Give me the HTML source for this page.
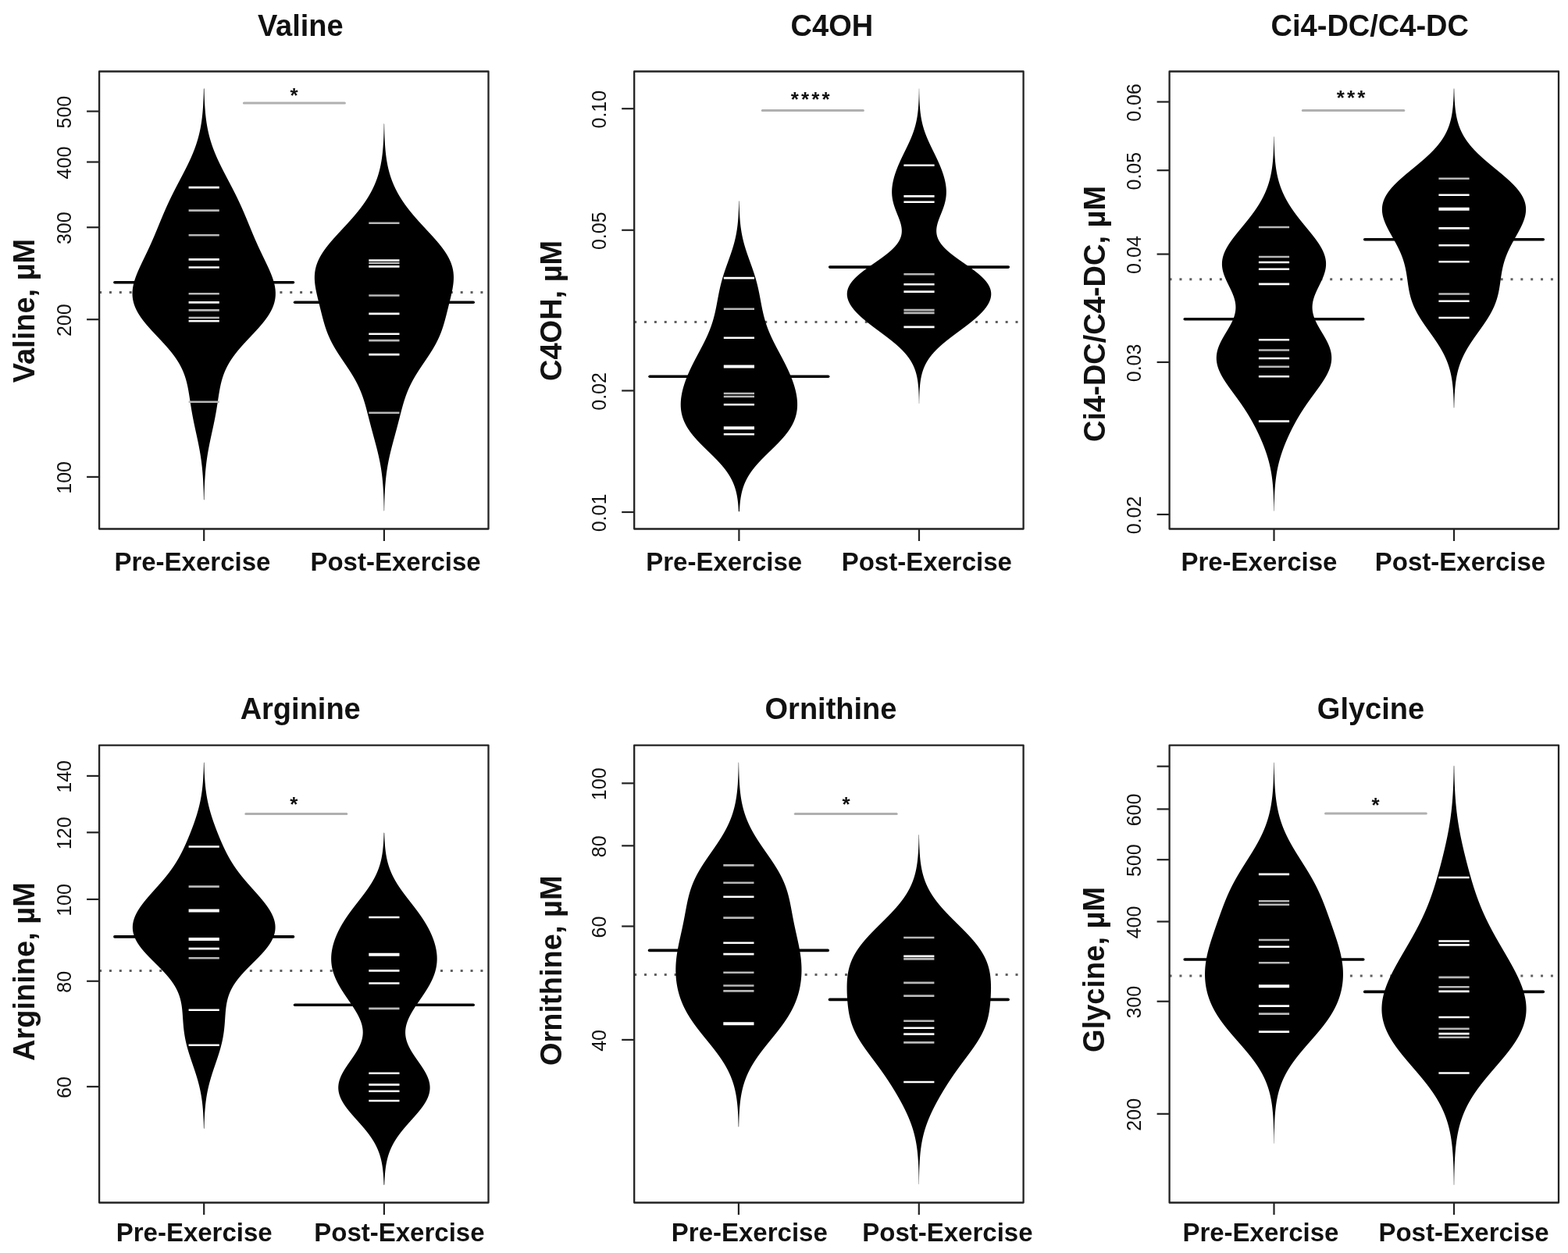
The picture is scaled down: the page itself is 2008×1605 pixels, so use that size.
<!DOCTYPE html><html><head><meta charset="utf-8"><style>html,body{margin:0;padding:0;background:#fff;}svg{display:block;}</style></head><body>
<svg width="2008" height="1605" viewBox="0 0 2008 1605" font-family='"Liberation Sans", Arial, sans-serif'>
<rect width="2008" height="1605" fill="#fff"/>
<g><line x1="127.1" y1="374.6" x2="625.5" y2="374.6" stroke="#606060" stroke-width="3" stroke-dasharray="3,9.85"/><path d="M261.20,113.00 L260.90,114.00 L260.88,115.00 L260.86,116.00 L260.84,117.00 L260.82,118.00 L260.79,119.00 L260.76,120.00 L260.74,121.00 L260.71,122.00 L260.67,123.00 L260.64,124.00 L260.60,125.00 L260.57,126.00 L260.53,127.00 L260.49,128.00 L260.44,129.00 L260.40,130.00 L260.35,131.00 L260.30,132.00 L260.24,133.00 L260.19,134.00 L260.13,135.00 L260.07,136.00 L260.00,137.00 L259.94,138.00 L259.86,139.00 L259.79,140.00 L259.71,141.00 L259.63,142.00 L259.55,143.00 L259.46,144.00 L259.37,145.00 L259.27,146.00 L259.17,147.00 L259.06,148.00 L258.95,149.00 L258.84,150.00 L258.72,151.00 L258.60,152.00 L258.47,153.00 L258.34,154.00 L258.20,155.00 L258.06,156.00 L257.91,157.00 L257.76,158.00 L257.60,159.00 L257.43,160.00 L257.26,161.00 L257.09,162.00 L256.90,163.00 L256.72,164.00 L256.52,165.00 L256.32,166.00 L256.11,167.00 L255.90,168.00 L255.68,169.00 L255.45,170.00 L255.22,171.00 L254.98,172.00 L254.73,173.00 L254.48,174.00 L254.22,175.00 L253.95,176.00 L253.68,177.00 L253.40,178.00 L253.11,179.00 L252.81,180.00 L252.51,181.00 L252.20,182.00 L251.88,183.00 L251.56,184.00 L251.23,185.00 L250.89,186.00 L250.55,187.00 L250.19,188.00 L249.84,189.00 L249.47,190.00 L249.10,191.00 L248.72,192.00 L248.33,193.00 L247.94,194.00 L247.54,195.00 L247.14,196.00 L246.73,197.00 L246.31,198.00 L245.88,199.00 L245.45,200.00 L245.02,201.00 L244.58,202.00 L244.13,203.00 L243.68,204.00 L243.22,205.00 L242.76,206.00 L242.29,207.00 L241.82,208.00 L241.34,209.00 L240.86,210.00 L240.38,211.00 L239.89,212.00 L239.39,213.00 L238.90,214.00 L238.40,215.00 L237.89,216.00 L237.39,217.00 L236.88,218.00 L236.37,219.00 L235.85,220.00 L235.34,221.00 L234.82,222.00 L234.30,223.00 L233.78,224.00 L233.26,225.00 L232.73,226.00 L232.21,227.00 L231.68,228.00 L231.16,229.00 L230.63,230.00 L230.11,231.00 L229.58,232.00 L229.06,233.00 L228.53,234.00 L228.01,235.00 L227.48,236.00 L226.96,237.00 L226.44,238.00 L225.92,239.00 L225.40,240.00 L224.89,241.00 L224.37,242.00 L223.86,243.00 L223.35,244.00 L222.84,245.00 L222.33,246.00 L221.83,247.00 L221.33,248.00 L220.83,249.00 L220.33,250.00 L219.84,251.00 L219.35,252.00 L218.86,253.00 L218.38,254.00 L217.90,255.00 L217.42,256.00 L216.94,257.00 L216.47,258.00 L216.00,259.00 L215.54,260.00 L215.07,261.00 L214.61,262.00 L214.16,263.00 L213.70,264.00 L213.25,265.00 L212.80,266.00 L212.36,267.00 L211.92,268.00 L211.48,269.00 L211.04,270.00 L210.61,271.00 L210.17,272.00 L209.74,273.00 L209.32,274.00 L208.89,275.00 L208.47,276.00 L208.05,277.00 L207.63,278.00 L207.21,279.00 L206.79,280.00 L206.37,281.00 L205.96,282.00 L205.55,283.00 L205.13,284.00 L204.72,285.00 L204.31,286.00 L203.90,287.00 L203.49,288.00 L203.08,289.00 L202.67,290.00 L202.26,291.00 L201.85,292.00 L201.44,293.00 L201.02,294.00 L200.61,295.00 L200.20,296.00 L199.78,297.00 L199.36,298.00 L198.95,299.00 L198.53,300.00 L198.10,301.00 L197.68,302.00 L197.26,303.00 L196.83,304.00 L196.40,305.00 L195.97,306.00 L195.53,307.00 L195.09,308.00 L194.65,309.00 L194.21,310.00 L193.77,311.00 L193.32,312.00 L192.87,313.00 L192.42,314.00 L191.96,315.00 L191.51,316.00 L191.05,317.00 L190.58,318.00 L190.12,319.00 L189.65,320.00 L189.18,321.00 L188.71,322.00 L188.23,323.00 L187.76,324.00 L187.28,325.00 L186.80,326.00 L186.32,327.00 L185.84,328.00 L185.36,329.00 L184.88,330.00 L184.39,331.00 L183.91,332.00 L183.43,333.00 L182.95,334.00 L182.46,335.00 L181.98,336.00 L181.51,337.00 L181.03,338.00 L180.56,339.00 L180.09,340.00 L179.62,341.00 L179.16,342.00 L178.70,343.00 L178.25,344.00 L177.80,345.00 L177.36,346.00 L176.92,347.00 L176.49,348.00 L176.07,349.00 L175.65,350.00 L175.25,351.00 L174.85,352.00 L174.47,353.00 L174.09,354.00 L173.72,355.00 L173.37,356.00 L173.03,357.00 L172.70,358.00 L172.38,359.00 L172.08,360.00 L171.79,361.00 L171.52,362.00 L171.26,363.00 L171.01,364.00 L170.79,365.00 L170.58,366.00 L170.39,367.00 L170.21,368.00 L170.06,369.00 L169.92,370.00 L169.81,371.00 L169.71,372.00 L169.64,373.00 L169.58,374.00 L169.55,375.00 L169.54,376.00 L169.55,377.00 L169.58,378.00 L169.63,379.00 L169.71,380.00 L169.81,381.00 L169.94,382.00 L170.08,383.00 L170.25,384.00 L170.45,385.00 L170.67,386.00 L170.91,387.00 L171.18,388.00 L171.47,389.00 L171.79,390.00 L172.13,391.00 L172.50,392.00 L172.88,393.00 L173.30,394.00 L173.73,395.00 L174.19,396.00 L174.67,397.00 L175.18,398.00 L175.71,399.00 L176.26,400.00 L176.83,401.00 L177.42,402.00 L178.04,403.00 L178.68,404.00 L179.33,405.00 L180.01,406.00 L180.70,407.00 L181.42,408.00 L182.15,409.00 L182.90,410.00 L183.66,411.00 L184.45,412.00 L185.24,413.00 L186.06,414.00 L186.88,415.00 L187.72,416.00 L188.57,417.00 L189.44,418.00 L190.31,419.00 L191.20,420.00 L192.09,421.00 L192.99,422.00 L193.90,423.00 L194.82,424.00 L195.75,425.00 L196.67,426.00 L197.61,427.00 L198.54,428.00 L199.48,429.00 L200.42,430.00 L201.37,431.00 L202.31,432.00 L203.25,433.00 L204.19,434.00 L205.13,435.00 L206.07,436.00 L207.00,437.00 L207.92,438.00 L208.84,439.00 L209.76,440.00 L210.67,441.00 L211.57,442.00 L212.46,443.00 L213.35,444.00 L214.22,445.00 L215.09,446.00 L215.94,447.00 L216.78,448.00 L217.62,449.00 L218.44,450.00 L219.24,451.00 L220.04,452.00 L220.82,453.00 L221.58,454.00 L222.34,455.00 L223.07,456.00 L223.80,457.00 L224.50,458.00 L225.20,459.00 L225.87,460.00 L226.53,461.00 L227.18,462.00 L227.81,463.00 L228.42,464.00 L229.02,465.00 L229.60,466.00 L230.17,467.00 L230.72,468.00 L231.25,469.00 L231.77,470.00 L232.27,471.00 L232.75,472.00 L233.22,473.00 L233.68,474.00 L234.12,475.00 L234.55,476.00 L234.96,477.00 L235.35,478.00 L235.74,479.00 L236.11,480.00 L236.46,481.00 L236.80,482.00 L237.13,483.00 L237.45,484.00 L237.76,485.00 L238.05,486.00 L238.34,487.00 L238.61,488.00 L238.88,489.00 L239.13,490.00 L239.37,491.00 L239.61,492.00 L239.84,493.00 L240.06,494.00 L240.27,495.00 L240.48,496.00 L240.68,497.00 L240.87,498.00 L241.06,499.00 L241.24,500.00 L241.42,501.00 L241.59,502.00 L241.76,503.00 L241.92,504.00 L242.09,505.00 L242.25,506.00 L242.41,507.00 L242.56,508.00 L242.72,509.00 L242.87,510.00 L243.02,511.00 L243.18,512.00 L243.33,513.00 L243.48,514.00 L243.63,515.00 L243.78,516.00 L243.94,517.00 L244.09,518.00 L244.25,519.00 L244.41,520.00 L244.57,521.00 L244.73,522.00 L244.89,523.00 L245.05,524.00 L245.22,525.00 L245.39,526.00 L245.56,527.00 L245.74,528.00 L245.91,529.00 L246.09,530.00 L246.27,531.00 L246.46,532.00 L246.64,533.00 L246.83,534.00 L247.02,535.00 L247.22,536.00 L247.41,537.00 L247.61,538.00 L247.81,539.00 L248.01,540.00 L248.22,541.00 L248.42,542.00 L248.63,543.00 L248.84,544.00 L249.05,545.00 L249.27,546.00 L249.48,547.00 L249.69,548.00 L249.91,549.00 L250.13,550.00 L250.34,551.00 L250.56,552.00 L250.78,553.00 L251.00,554.00 L251.22,555.00 L251.43,556.00 L251.65,557.00 L251.87,558.00 L252.09,559.00 L252.30,560.00 L252.52,561.00 L252.73,562.00 L252.94,563.00 L253.15,564.00 L253.36,565.00 L253.57,566.00 L253.77,567.00 L253.98,568.00 L254.18,569.00 L254.38,570.00 L254.57,571.00 L254.77,572.00 L254.96,573.00 L255.15,574.00 L255.33,575.00 L255.52,576.00 L255.70,577.00 L255.87,578.00 L256.05,579.00 L256.22,580.00 L256.39,581.00 L256.55,582.00 L256.71,583.00 L256.87,584.00 L257.02,585.00 L257.17,586.00 L257.32,587.00 L257.46,588.00 L257.61,589.00 L257.74,590.00 L257.87,591.00 L258.00,592.00 L258.13,593.00 L258.25,594.00 L258.37,595.00 L258.49,596.00 L258.60,597.00 L258.71,598.00 L258.82,599.00 L258.92,600.00 L259.02,601.00 L259.11,602.00 L259.21,603.00 L259.29,604.00 L259.38,605.00 L259.46,606.00 L259.54,607.00 L259.62,608.00 L259.70,609.00 L259.77,610.00 L259.84,611.00 L259.90,612.00 L259.97,613.00 L260.03,614.00 L260.09,615.00 L260.14,616.00 L260.20,617.00 L260.25,618.00 L260.30,619.00 L260.35,620.00 L260.39,621.00 L260.44,622.00 L260.48,623.00 L260.52,624.00 L260.55,625.00 L260.59,626.00 L260.62,627.00 L260.66,628.00 L260.69,629.00 L260.72,630.00 L260.75,631.00 L260.77,632.00 L260.80,633.00 L260.82,634.00 L260.84,635.00 L260.87,636.00 L260.89,637.00 L260.91,638.00 L260.92,639.00 L260.94,640.00 L261.20,640.40 L261.20,640.40 L261.46,640.00 L261.48,639.00 L261.49,638.00 L261.51,637.00 L261.53,636.00 L261.56,635.00 L261.58,634.00 L261.60,633.00 L261.63,632.00 L261.65,631.00 L261.68,630.00 L261.71,629.00 L261.74,628.00 L261.78,627.00 L261.81,626.00 L261.85,625.00 L261.88,624.00 L261.92,623.00 L261.96,622.00 L262.01,621.00 L262.05,620.00 L262.10,619.00 L262.15,618.00 L262.20,617.00 L262.26,616.00 L262.31,615.00 L262.37,614.00 L262.43,613.00 L262.50,612.00 L262.56,611.00 L262.63,610.00 L262.70,609.00 L262.78,608.00 L262.86,607.00 L262.94,606.00 L263.02,605.00 L263.11,604.00 L263.19,603.00 L263.29,602.00 L263.38,601.00 L263.48,600.00 L263.58,599.00 L263.69,598.00 L263.80,597.00 L263.91,596.00 L264.03,595.00 L264.15,594.00 L264.27,593.00 L264.40,592.00 L264.53,591.00 L264.66,590.00 L264.79,589.00 L264.94,588.00 L265.08,587.00 L265.23,586.00 L265.38,585.00 L265.53,584.00 L265.69,583.00 L265.85,582.00 L266.01,581.00 L266.18,580.00 L266.35,579.00 L266.53,578.00 L266.70,577.00 L266.88,576.00 L267.07,575.00 L267.25,574.00 L267.44,573.00 L267.63,572.00 L267.83,571.00 L268.02,570.00 L268.22,569.00 L268.42,568.00 L268.63,567.00 L268.83,566.00 L269.04,565.00 L269.25,564.00 L269.46,563.00 L269.67,562.00 L269.88,561.00 L270.10,560.00 L270.31,559.00 L270.53,558.00 L270.75,557.00 L270.97,556.00 L271.18,555.00 L271.40,554.00 L271.62,553.00 L271.84,552.00 L272.06,551.00 L272.27,550.00 L272.49,549.00 L272.71,548.00 L272.92,547.00 L273.13,546.00 L273.35,545.00 L273.56,544.00 L273.77,543.00 L273.98,542.00 L274.18,541.00 L274.39,540.00 L274.59,539.00 L274.79,538.00 L274.99,537.00 L275.18,536.00 L275.38,535.00 L275.57,534.00 L275.76,533.00 L275.94,532.00 L276.13,531.00 L276.31,530.00 L276.49,529.00 L276.66,528.00 L276.84,527.00 L277.01,526.00 L277.18,525.00 L277.35,524.00 L277.51,523.00 L277.67,522.00 L277.83,521.00 L277.99,520.00 L278.15,519.00 L278.31,518.00 L278.46,517.00 L278.62,516.00 L278.77,515.00 L278.92,514.00 L279.07,513.00 L279.22,512.00 L279.38,511.00 L279.53,510.00 L279.68,509.00 L279.84,508.00 L279.99,507.00 L280.15,506.00 L280.31,505.00 L280.48,504.00 L280.64,503.00 L280.81,502.00 L280.98,501.00 L281.16,500.00 L281.34,499.00 L281.53,498.00 L281.72,497.00 L281.92,496.00 L282.13,495.00 L282.34,494.00 L282.56,493.00 L282.79,492.00 L283.03,491.00 L283.27,490.00 L283.52,489.00 L283.79,488.00 L284.06,487.00 L284.35,486.00 L284.64,485.00 L284.95,484.00 L285.27,483.00 L285.60,482.00 L285.94,481.00 L286.29,480.00 L286.66,479.00 L287.05,478.00 L287.44,477.00 L287.85,476.00 L288.28,475.00 L288.72,474.00 L289.18,473.00 L289.65,472.00 L290.13,471.00 L290.63,470.00 L291.15,469.00 L291.68,468.00 L292.23,467.00 L292.80,466.00 L293.38,465.00 L293.98,464.00 L294.59,463.00 L295.22,462.00 L295.87,461.00 L296.53,460.00 L297.20,459.00 L297.90,458.00 L298.60,457.00 L299.33,456.00 L300.06,455.00 L300.82,454.00 L301.58,453.00 L302.36,452.00 L303.16,451.00 L303.96,450.00 L304.78,449.00 L305.62,448.00 L306.46,447.00 L307.31,446.00 L308.18,445.00 L309.05,444.00 L309.94,443.00 L310.83,442.00 L311.73,441.00 L312.64,440.00 L313.56,439.00 L314.48,438.00 L315.40,437.00 L316.33,436.00 L317.27,435.00 L318.21,434.00 L319.15,433.00 L320.09,432.00 L321.03,431.00 L321.98,430.00 L322.92,429.00 L323.86,428.00 L324.79,427.00 L325.73,426.00 L326.65,425.00 L327.58,424.00 L328.50,423.00 L329.41,422.00 L330.31,421.00 L331.20,420.00 L332.09,419.00 L332.96,418.00 L333.83,417.00 L334.68,416.00 L335.52,415.00 L336.34,414.00 L337.16,413.00 L337.95,412.00 L338.74,411.00 L339.50,410.00 L340.25,409.00 L340.98,408.00 L341.70,407.00 L342.39,406.00 L343.07,405.00 L343.72,404.00 L344.36,403.00 L344.98,402.00 L345.57,401.00 L346.14,400.00 L346.69,399.00 L347.22,398.00 L347.73,397.00 L348.21,396.00 L348.67,395.00 L349.10,394.00 L349.52,393.00 L349.90,392.00 L350.27,391.00 L350.61,390.00 L350.93,389.00 L351.22,388.00 L351.49,387.00 L351.73,386.00 L351.95,385.00 L352.15,384.00 L352.32,383.00 L352.46,382.00 L352.59,381.00 L352.69,380.00 L352.77,379.00 L352.82,378.00 L352.85,377.00 L352.86,376.00 L352.85,375.00 L352.82,374.00 L352.76,373.00 L352.69,372.00 L352.59,371.00 L352.48,370.00 L352.34,369.00 L352.19,368.00 L352.01,367.00 L351.82,366.00 L351.61,365.00 L351.39,364.00 L351.14,363.00 L350.88,362.00 L350.61,361.00 L350.32,360.00 L350.02,359.00 L349.70,358.00 L349.37,357.00 L349.03,356.00 L348.68,355.00 L348.31,354.00 L347.93,353.00 L347.55,352.00 L347.15,351.00 L346.75,350.00 L346.33,349.00 L345.91,348.00 L345.48,347.00 L345.04,346.00 L344.60,345.00 L344.15,344.00 L343.70,343.00 L343.24,342.00 L342.78,341.00 L342.31,340.00 L341.84,339.00 L341.37,338.00 L340.89,337.00 L340.42,336.00 L339.94,335.00 L339.45,334.00 L338.97,333.00 L338.49,332.00 L338.01,331.00 L337.52,330.00 L337.04,329.00 L336.56,328.00 L336.08,327.00 L335.60,326.00 L335.12,325.00 L334.64,324.00 L334.17,323.00 L333.69,322.00 L333.22,321.00 L332.75,320.00 L332.28,319.00 L331.82,318.00 L331.35,317.00 L330.89,316.00 L330.44,315.00 L329.98,314.00 L329.53,313.00 L329.08,312.00 L328.63,311.00 L328.19,310.00 L327.75,309.00 L327.31,308.00 L326.87,307.00 L326.43,306.00 L326.00,305.00 L325.57,304.00 L325.14,303.00 L324.72,302.00 L324.30,301.00 L323.87,300.00 L323.45,299.00 L323.04,298.00 L322.62,297.00 L322.20,296.00 L321.79,295.00 L321.38,294.00 L320.96,293.00 L320.55,292.00 L320.14,291.00 L319.73,290.00 L319.32,289.00 L318.91,288.00 L318.50,287.00 L318.09,286.00 L317.68,285.00 L317.27,284.00 L316.85,283.00 L316.44,282.00 L316.03,281.00 L315.61,280.00 L315.19,279.00 L314.77,278.00 L314.35,277.00 L313.93,276.00 L313.51,275.00 L313.08,274.00 L312.66,273.00 L312.23,272.00 L311.79,271.00 L311.36,270.00 L310.92,269.00 L310.48,268.00 L310.04,267.00 L309.60,266.00 L309.15,265.00 L308.70,264.00 L308.24,263.00 L307.79,262.00 L307.33,261.00 L306.86,260.00 L306.40,259.00 L305.93,258.00 L305.46,257.00 L304.98,256.00 L304.50,255.00 L304.02,254.00 L303.54,253.00 L303.05,252.00 L302.56,251.00 L302.07,250.00 L301.57,249.00 L301.07,248.00 L300.57,247.00 L300.07,246.00 L299.56,245.00 L299.05,244.00 L298.54,243.00 L298.03,242.00 L297.51,241.00 L297.00,240.00 L296.48,239.00 L295.96,238.00 L295.44,237.00 L294.92,236.00 L294.39,235.00 L293.87,234.00 L293.34,233.00 L292.82,232.00 L292.29,231.00 L291.77,230.00 L291.24,229.00 L290.72,228.00 L290.19,227.00 L289.67,226.00 L289.14,225.00 L288.62,224.00 L288.10,223.00 L287.58,222.00 L287.06,221.00 L286.55,220.00 L286.03,219.00 L285.52,218.00 L285.01,217.00 L284.51,216.00 L284.00,215.00 L283.50,214.00 L283.01,213.00 L282.51,212.00 L282.02,211.00 L281.54,210.00 L281.06,209.00 L280.58,208.00 L280.11,207.00 L279.64,206.00 L279.18,205.00 L278.72,204.00 L278.27,203.00 L277.82,202.00 L277.38,201.00 L276.95,200.00 L276.52,199.00 L276.09,198.00 L275.67,197.00 L275.26,196.00 L274.86,195.00 L274.46,194.00 L274.07,193.00 L273.68,192.00 L273.30,191.00 L272.93,190.00 L272.56,189.00 L272.21,188.00 L271.85,187.00 L271.51,186.00 L271.17,185.00 L270.84,184.00 L270.52,183.00 L270.20,182.00 L269.89,181.00 L269.59,180.00 L269.29,179.00 L269.00,178.00 L268.72,177.00 L268.45,176.00 L268.18,175.00 L267.92,174.00 L267.67,173.00 L267.42,172.00 L267.18,171.00 L266.95,170.00 L266.72,169.00 L266.50,168.00 L266.29,167.00 L266.08,166.00 L265.88,165.00 L265.68,164.00 L265.50,163.00 L265.31,162.00 L265.14,161.00 L264.97,160.00 L264.80,159.00 L264.64,158.00 L264.49,157.00 L264.34,156.00 L264.20,155.00 L264.06,154.00 L263.93,153.00 L263.80,152.00 L263.68,151.00 L263.56,150.00 L263.45,149.00 L263.34,148.00 L263.23,147.00 L263.13,146.00 L263.03,145.00 L262.94,144.00 L262.85,143.00 L262.77,142.00 L262.69,141.00 L262.61,140.00 L262.54,139.00 L262.46,138.00 L262.40,137.00 L262.33,136.00 L262.27,135.00 L262.21,134.00 L262.16,133.00 L262.10,132.00 L262.05,131.00 L262.00,130.00 L261.96,129.00 L261.91,128.00 L261.87,127.00 L261.83,126.00 L261.80,125.00 L261.76,124.00 L261.73,123.00 L261.69,122.00 L261.66,121.00 L261.64,120.00 L261.61,119.00 L261.58,118.00 L261.56,117.00 L261.54,116.00 L261.52,115.00 L261.50,114.00 L261.20,113.00Z" fill="#000"/><path d="M491.90,157.90 L491.70,158.90 L491.68,159.90 L491.66,160.90 L491.65,161.90 L491.63,162.90 L491.61,163.90 L491.59,164.90 L491.57,165.90 L491.54,166.90 L491.52,167.90 L491.49,168.90 L491.46,169.90 L491.43,170.90 L491.40,171.90 L491.37,172.90 L491.33,173.90 L491.30,174.90 L491.26,175.90 L491.22,176.90 L491.17,177.90 L491.13,178.90 L491.08,179.90 L491.03,180.90 L490.97,181.90 L490.91,182.90 L490.85,183.90 L490.79,184.90 L490.72,185.90 L490.65,186.90 L490.58,187.90 L490.50,188.90 L490.42,189.90 L490.34,190.90 L490.25,191.90 L490.16,192.90 L490.06,193.90 L489.96,194.90 L489.85,195.90 L489.74,196.90 L489.62,197.90 L489.50,198.90 L489.37,199.90 L489.24,200.90 L489.10,201.90 L488.96,202.90 L488.81,203.90 L488.66,204.90 L488.49,205.90 L488.33,206.90 L488.15,207.90 L487.97,208.90 L487.78,209.90 L487.59,210.90 L487.39,211.90 L487.18,212.90 L486.96,213.90 L486.73,214.90 L486.50,215.90 L486.26,216.90 L486.01,217.90 L485.75,218.90 L485.49,219.90 L485.21,220.90 L484.93,221.90 L484.64,222.90 L484.34,223.90 L484.02,224.90 L483.70,225.90 L483.38,226.90 L483.04,227.90 L482.69,228.90 L482.33,229.90 L481.96,230.90 L481.58,231.90 L481.19,232.90 L480.79,233.90 L480.38,234.90 L479.96,235.90 L479.53,236.90 L479.09,237.90 L478.63,238.90 L478.17,239.90 L477.69,240.90 L477.21,241.90 L476.71,242.90 L476.20,243.90 L475.68,244.90 L475.15,245.90 L474.61,246.90 L474.06,247.90 L473.49,248.90 L472.92,249.90 L472.33,250.90 L471.73,251.90 L471.12,252.90 L470.50,253.90 L469.86,254.90 L469.22,255.90 L468.56,256.90 L467.90,257.90 L467.22,258.90 L466.53,259.90 L465.83,260.90 L465.12,261.90 L464.40,262.90 L463.67,263.90 L462.92,264.90 L462.17,265.90 L461.41,266.90 L460.63,267.90 L459.85,268.90 L459.06,269.90 L458.25,270.90 L457.44,271.90 L456.62,272.90 L455.79,273.90 L454.95,274.90 L454.11,275.90 L453.25,276.90 L452.39,277.90 L451.52,278.90 L450.65,279.90 L449.76,280.90 L448.88,281.90 L447.98,282.90 L447.08,283.90 L446.18,284.90 L445.27,285.90 L444.35,286.90 L443.44,287.90 L442.51,288.90 L441.59,289.90 L440.67,290.90 L439.74,291.90 L438.81,292.90 L437.88,293.90 L436.95,294.90 L436.02,295.90 L435.10,296.90 L434.17,297.90 L433.25,298.90 L432.33,299.90 L431.41,300.90 L430.50,301.90 L429.60,302.90 L428.69,303.90 L427.80,304.90 L426.91,305.90 L426.03,306.90 L425.16,307.90 L424.30,308.90 L423.44,309.90 L422.60,310.90 L421.77,311.90 L420.95,312.90 L420.14,313.90 L419.35,314.90 L418.56,315.90 L417.80,316.90 L417.04,317.90 L416.31,318.90 L415.58,319.90 L414.88,320.90 L414.19,321.90 L413.52,322.90 L412.87,323.90 L412.23,324.90 L411.62,325.90 L411.02,326.90 L410.44,327.90 L409.89,328.90 L409.35,329.90 L408.84,330.90 L408.34,331.90 L407.87,332.90 L407.42,333.90 L406.98,334.90 L406.58,335.90 L406.19,336.90 L405.82,337.90 L405.48,338.90 L405.16,339.90 L404.86,340.90 L404.58,341.90 L404.32,342.90 L404.09,343.90 L403.88,344.90 L403.68,345.90 L403.51,346.90 L403.36,347.90 L403.23,348.90 L403.12,349.90 L403.03,350.90 L402.95,351.90 L402.90,352.90 L402.86,353.90 L402.84,354.90 L402.84,355.90 L402.86,356.90 L402.89,357.90 L402.94,358.90 L403.00,359.90 L403.08,360.90 L403.17,361.90 L403.27,362.90 L403.38,363.90 L403.51,364.90 L403.65,365.90 L403.80,366.90 L403.96,367.90 L404.13,368.90 L404.30,369.90 L404.49,370.90 L404.68,371.90 L404.88,372.90 L405.09,373.90 L405.30,374.90 L405.52,375.90 L405.74,376.90 L405.97,377.90 L406.20,378.90 L406.43,379.90 L406.67,380.90 L406.91,381.90 L407.15,382.90 L407.39,383.90 L407.63,384.90 L407.88,385.90 L408.13,386.90 L408.37,387.90 L408.62,388.90 L408.87,389.90 L409.12,390.90 L409.37,391.90 L409.61,392.90 L409.86,393.90 L410.11,394.90 L410.36,395.90 L410.61,396.90 L410.86,397.90 L411.11,398.90 L411.36,399.90 L411.61,400.90 L411.86,401.90 L412.12,402.90 L412.37,403.90 L412.63,404.90 L412.89,405.90 L413.15,406.90 L413.42,407.90 L413.69,408.90 L413.96,409.90 L414.23,410.90 L414.51,411.90 L414.80,412.90 L415.09,413.90 L415.38,414.90 L415.68,415.90 L415.99,416.90 L416.30,417.90 L416.62,418.90 L416.95,419.90 L417.29,420.90 L417.63,421.90 L417.98,422.90 L418.34,423.90 L418.71,424.90 L419.09,425.90 L419.48,426.90 L419.88,427.90 L420.29,428.90 L420.71,429.90 L421.14,430.90 L421.58,431.90 L422.03,432.90 L422.49,433.90 L422.96,434.90 L423.44,435.90 L423.94,436.90 L424.44,437.90 L424.95,438.90 L425.48,439.90 L426.02,440.90 L426.56,441.90 L427.12,442.90 L427.69,443.90 L428.26,444.90 L428.85,445.90 L429.44,446.90 L430.04,447.90 L430.65,448.90 L431.27,449.90 L431.90,450.90 L432.53,451.90 L433.17,452.90 L433.82,453.90 L434.47,454.90 L435.13,455.90 L435.79,456.90 L436.45,457.90 L437.12,458.90 L437.80,459.90 L438.47,460.90 L439.15,461.90 L439.82,462.90 L440.50,463.90 L441.18,464.90 L441.86,465.90 L442.53,466.90 L443.21,467.90 L443.88,468.90 L444.55,469.90 L445.21,470.90 L445.88,471.90 L446.54,472.90 L447.19,473.90 L447.84,474.90 L448.48,475.90 L449.11,476.90 L449.74,477.90 L450.36,478.90 L450.98,479.90 L451.59,480.90 L452.18,481.90 L452.77,482.90 L453.36,483.90 L453.93,484.90 L454.49,485.90 L455.04,486.90 L455.59,487.90 L456.12,488.90 L456.65,489.90 L457.16,490.90 L457.67,491.90 L458.16,492.90 L458.64,493.90 L459.12,494.90 L459.58,495.90 L460.04,496.90 L460.48,497.90 L460.91,498.90 L461.34,499.90 L461.75,500.90 L462.16,501.90 L462.55,502.90 L462.94,503.90 L463.32,504.90 L463.69,505.90 L464.05,506.90 L464.41,507.90 L464.75,508.90 L465.09,509.90 L465.42,510.90 L465.75,511.90 L466.07,512.90 L466.38,513.90 L466.69,514.90 L466.99,515.90 L467.29,516.90 L467.58,517.90 L467.86,518.90 L468.15,519.90 L468.43,520.90 L468.70,521.90 L468.97,522.90 L469.24,523.90 L469.51,524.90 L469.78,525.90 L470.04,526.90 L470.30,527.90 L470.56,528.90 L470.82,529.90 L471.08,530.90 L471.33,531.90 L471.59,532.90 L471.85,533.90 L472.10,534.90 L472.36,535.90 L472.61,536.90 L472.87,537.90 L473.13,538.90 L473.39,539.90 L473.64,540.90 L473.90,541.90 L474.16,542.90 L474.42,543.90 L474.69,544.90 L474.95,545.90 L475.21,546.90 L475.48,547.90 L475.74,548.90 L476.01,549.90 L476.28,550.90 L476.55,551.90 L476.82,552.90 L477.09,553.90 L477.36,554.90 L477.63,555.90 L477.90,556.90 L478.17,557.90 L478.44,558.90 L478.71,559.90 L478.98,560.90 L479.26,561.90 L479.53,562.90 L479.80,563.90 L480.07,564.90 L480.33,565.90 L480.60,566.90 L480.87,567.90 L481.13,568.90 L481.40,569.90 L481.66,570.90 L481.92,571.90 L482.18,572.90 L482.43,573.90 L482.69,574.90 L482.94,575.90 L483.19,576.90 L483.43,577.90 L483.68,578.90 L483.92,579.90 L484.15,580.90 L484.39,581.90 L484.62,582.90 L484.84,583.90 L485.07,584.90 L485.29,585.90 L485.50,586.90 L485.71,587.90 L485.92,588.90 L486.13,589.90 L486.33,590.90 L486.52,591.90 L486.71,592.90 L486.90,593.90 L487.09,594.90 L487.26,595.90 L487.44,596.90 L487.61,597.90 L487.78,598.90 L487.94,599.90 L488.10,600.90 L488.25,601.90 L488.40,602.90 L488.54,603.90 L488.68,604.90 L488.82,605.90 L488.95,606.90 L489.08,607.90 L489.20,608.90 L489.32,609.90 L489.44,610.90 L489.55,611.90 L489.66,612.90 L489.76,613.90 L489.86,614.90 L489.96,615.90 L490.05,616.90 L490.14,617.90 L490.23,618.90 L490.31,619.90 L490.39,620.90 L490.47,621.90 L490.54,622.90 L490.61,623.90 L490.68,624.90 L490.74,625.90 L490.81,626.90 L490.87,627.90 L490.92,628.90 L490.98,629.90 L491.03,630.90 L491.08,631.90 L491.12,632.90 L491.17,633.90 L491.21,634.90 L491.25,635.90 L491.29,636.90 L491.32,637.90 L491.36,638.90 L491.39,639.90 L491.42,640.90 L491.45,641.90 L491.48,642.90 L491.50,643.90 L491.53,644.90 L491.55,645.90 L491.57,646.90 L491.60,647.90 L491.62,648.90 L491.63,649.90 L491.65,650.90 L491.67,651.90 L491.68,652.90 L491.70,653.90 L491.90,654.70 L491.90,654.70 L492.10,653.90 L492.12,652.90 L492.13,651.90 L492.15,650.90 L492.17,649.90 L492.18,648.90 L492.20,647.90 L492.23,646.90 L492.25,645.90 L492.27,644.90 L492.30,643.90 L492.32,642.90 L492.35,641.90 L492.38,640.90 L492.41,639.90 L492.44,638.90 L492.48,637.90 L492.51,636.90 L492.55,635.90 L492.59,634.90 L492.63,633.90 L492.68,632.90 L492.72,631.90 L492.77,630.90 L492.82,629.90 L492.88,628.90 L492.93,627.90 L492.99,626.90 L493.06,625.90 L493.12,624.90 L493.19,623.90 L493.26,622.90 L493.33,621.90 L493.41,620.90 L493.49,619.90 L493.57,618.90 L493.66,617.90 L493.75,616.90 L493.84,615.90 L493.94,614.90 L494.04,613.90 L494.14,612.90 L494.25,611.90 L494.36,610.90 L494.48,609.90 L494.60,608.90 L494.72,607.90 L494.85,606.90 L494.98,605.90 L495.12,604.90 L495.26,603.90 L495.40,602.90 L495.55,601.90 L495.70,600.90 L495.86,599.90 L496.02,598.90 L496.19,597.90 L496.36,596.90 L496.54,595.90 L496.71,594.90 L496.90,593.90 L497.09,592.90 L497.28,591.90 L497.47,590.90 L497.67,589.90 L497.88,588.90 L498.09,587.90 L498.30,586.90 L498.51,585.90 L498.73,584.90 L498.96,583.90 L499.18,582.90 L499.41,581.90 L499.65,580.90 L499.88,579.90 L500.12,578.90 L500.37,577.90 L500.61,576.90 L500.86,575.90 L501.11,574.90 L501.37,573.90 L501.62,572.90 L501.88,571.90 L502.14,570.90 L502.40,569.90 L502.67,568.90 L502.93,567.90 L503.20,566.90 L503.47,565.90 L503.73,564.90 L504.00,563.90 L504.27,562.90 L504.54,561.90 L504.82,560.90 L505.09,559.90 L505.36,558.90 L505.63,557.90 L505.90,556.90 L506.17,555.90 L506.44,554.90 L506.71,553.90 L506.98,552.90 L507.25,551.90 L507.52,550.90 L507.79,549.90 L508.06,548.90 L508.32,547.90 L508.59,546.90 L508.85,545.90 L509.11,544.90 L509.38,543.90 L509.64,542.90 L509.90,541.90 L510.16,540.90 L510.41,539.90 L510.67,538.90 L510.93,537.90 L511.19,536.90 L511.44,535.90 L511.70,534.90 L511.95,533.90 L512.21,532.90 L512.47,531.90 L512.72,530.90 L512.98,529.90 L513.24,528.90 L513.50,527.90 L513.76,526.90 L514.02,525.90 L514.29,524.90 L514.56,523.90 L514.83,522.90 L515.10,521.90 L515.37,520.90 L515.65,519.90 L515.94,518.90 L516.22,517.90 L516.51,516.90 L516.81,515.90 L517.11,514.90 L517.42,513.90 L517.73,512.90 L518.05,511.90 L518.38,510.90 L518.71,509.90 L519.05,508.90 L519.39,507.90 L519.75,506.90 L520.11,505.90 L520.48,504.90 L520.86,503.90 L521.25,502.90 L521.64,501.90 L522.05,500.90 L522.46,499.90 L522.89,498.90 L523.32,497.90 L523.76,496.90 L524.22,495.90 L524.68,494.90 L525.16,493.90 L525.64,492.90 L526.13,491.90 L526.64,490.90 L527.15,489.90 L527.68,488.90 L528.21,487.90 L528.76,486.90 L529.31,485.90 L529.87,484.90 L530.44,483.90 L531.03,482.90 L531.62,481.90 L532.21,480.90 L532.82,479.90 L533.44,478.90 L534.06,477.90 L534.69,476.90 L535.32,475.90 L535.96,474.90 L536.61,473.90 L537.26,472.90 L537.92,471.90 L538.59,470.90 L539.25,469.90 L539.92,468.90 L540.59,467.90 L541.27,466.90 L541.94,465.90 L542.62,464.90 L543.30,463.90 L543.98,462.90 L544.65,461.90 L545.33,460.90 L546.00,459.90 L546.68,458.90 L547.35,457.90 L548.01,456.90 L548.67,455.90 L549.33,454.90 L549.98,453.90 L550.63,452.90 L551.27,451.90 L551.90,450.90 L552.53,449.90 L553.15,448.90 L553.76,447.90 L554.36,446.90 L554.95,445.90 L555.54,444.90 L556.11,443.90 L556.68,442.90 L557.24,441.90 L557.78,440.90 L558.32,439.90 L558.85,438.90 L559.36,437.90 L559.86,436.90 L560.36,435.90 L560.84,434.90 L561.31,433.90 L561.77,432.90 L562.22,431.90 L562.66,430.90 L563.09,429.90 L563.51,428.90 L563.92,427.90 L564.32,426.90 L564.71,425.90 L565.09,424.90 L565.46,423.90 L565.82,422.90 L566.17,421.90 L566.51,420.90 L566.85,419.90 L567.18,418.90 L567.50,417.90 L567.81,416.90 L568.12,415.90 L568.42,414.90 L568.71,413.90 L569.00,412.90 L569.29,411.90 L569.57,410.90 L569.84,409.90 L570.11,408.90 L570.38,407.90 L570.65,406.90 L570.91,405.90 L571.17,404.90 L571.43,403.90 L571.68,402.90 L571.94,401.90 L572.19,400.90 L572.44,399.90 L572.69,398.90 L572.94,397.90 L573.19,396.90 L573.44,395.90 L573.69,394.90 L573.94,393.90 L574.19,392.90 L574.43,391.90 L574.68,390.90 L574.93,389.90 L575.18,388.90 L575.43,387.90 L575.67,386.90 L575.92,385.90 L576.17,384.90 L576.41,383.90 L576.65,382.90 L576.89,381.90 L577.13,380.90 L577.37,379.90 L577.60,378.90 L577.83,377.90 L578.06,376.90 L578.28,375.90 L578.50,374.90 L578.71,373.90 L578.92,372.90 L579.12,371.90 L579.31,370.90 L579.50,369.90 L579.67,368.90 L579.84,367.90 L580.00,366.90 L580.15,365.90 L580.29,364.90 L580.42,363.90 L580.53,362.90 L580.63,361.90 L580.72,360.90 L580.80,359.90 L580.86,358.90 L580.91,357.90 L580.94,356.90 L580.96,355.90 L580.96,354.90 L580.94,353.90 L580.90,352.90 L580.85,351.90 L580.77,350.90 L580.68,349.90 L580.57,348.90 L580.44,347.90 L580.29,346.90 L580.12,345.90 L579.92,344.90 L579.71,343.90 L579.48,342.90 L579.22,341.90 L578.94,340.90 L578.64,339.90 L578.32,338.90 L577.98,337.90 L577.61,336.90 L577.22,335.90 L576.82,334.90 L576.38,333.90 L575.93,332.90 L575.46,331.90 L574.96,330.90 L574.45,329.90 L573.91,328.90 L573.36,327.90 L572.78,326.90 L572.18,325.90 L571.57,324.90 L570.93,323.90 L570.28,322.90 L569.61,321.90 L568.92,320.90 L568.22,319.90 L567.49,318.90 L566.76,317.90 L566.00,316.90 L565.24,315.90 L564.45,314.90 L563.66,313.90 L562.85,312.90 L562.03,311.90 L561.20,310.90 L560.36,309.90 L559.50,308.90 L558.64,307.90 L557.77,306.90 L556.89,305.90 L556.00,304.90 L555.11,303.90 L554.20,302.90 L553.30,301.90 L552.39,300.90 L551.47,299.90 L550.55,298.90 L549.63,297.90 L548.70,296.90 L547.78,295.90 L546.85,294.90 L545.92,293.90 L544.99,292.90 L544.06,291.90 L543.13,290.90 L542.21,289.90 L541.29,288.90 L540.36,287.90 L539.45,286.90 L538.53,285.90 L537.62,284.90 L536.72,283.90 L535.82,282.90 L534.92,281.90 L534.04,280.90 L533.15,279.90 L532.28,278.90 L531.41,277.90 L530.55,276.90 L529.69,275.90 L528.85,274.90 L528.01,273.90 L527.18,272.90 L526.36,271.90 L525.55,270.90 L524.74,269.90 L523.95,268.90 L523.17,267.90 L522.39,266.90 L521.63,265.90 L520.88,264.90 L520.13,263.90 L519.40,262.90 L518.68,261.90 L517.97,260.90 L517.27,259.90 L516.58,258.90 L515.90,257.90 L515.24,256.90 L514.58,255.90 L513.94,254.90 L513.30,253.90 L512.68,252.90 L512.07,251.90 L511.47,250.90 L510.88,249.90 L510.31,248.90 L509.74,247.90 L509.19,246.90 L508.65,245.90 L508.12,244.90 L507.60,243.90 L507.09,242.90 L506.59,241.90 L506.11,240.90 L505.63,239.90 L505.17,238.90 L504.71,237.90 L504.27,236.90 L503.84,235.90 L503.42,234.90 L503.01,233.90 L502.61,232.90 L502.22,231.90 L501.84,230.90 L501.47,229.90 L501.11,228.90 L500.76,227.90 L500.42,226.90 L500.10,225.90 L499.78,224.90 L499.46,223.90 L499.16,222.90 L498.87,221.90 L498.59,220.90 L498.31,219.90 L498.05,218.90 L497.79,217.90 L497.54,216.90 L497.30,215.90 L497.07,214.90 L496.84,213.90 L496.62,212.90 L496.41,211.90 L496.21,210.90 L496.02,209.90 L495.83,208.90 L495.65,207.90 L495.47,206.90 L495.31,205.90 L495.14,204.90 L494.99,203.90 L494.84,202.90 L494.70,201.90 L494.56,200.90 L494.43,199.90 L494.30,198.90 L494.18,197.90 L494.06,196.90 L493.95,195.90 L493.84,194.90 L493.74,193.90 L493.64,192.90 L493.55,191.90 L493.46,190.90 L493.38,189.90 L493.30,188.90 L493.22,187.90 L493.15,186.90 L493.08,185.90 L493.01,184.90 L492.95,183.90 L492.89,182.90 L492.83,181.90 L492.77,180.90 L492.72,179.90 L492.67,178.90 L492.63,177.90 L492.58,176.90 L492.54,175.90 L492.50,174.90 L492.47,173.90 L492.43,172.90 L492.40,171.90 L492.37,170.90 L492.34,169.90 L492.31,168.90 L492.28,167.90 L492.26,166.90 L492.23,165.90 L492.21,164.90 L492.19,163.90 L492.17,162.90 L492.15,161.90 L492.14,160.90 L492.12,159.90 L492.10,158.90 L491.90,157.90Z" fill="#000"/><line x1="146.89999999999998" y1="361.7" x2="375.5" y2="361.7" stroke="#000" stroke-width="3.6" stroke-linecap="round"/><line x1="377.59999999999997" y1="387.2" x2="606.1999999999999" y2="387.2" stroke="#000" stroke-width="3.6" stroke-linecap="round"/><line x1="241.6" y1="240.1" x2="280.8" y2="240.1" stroke="#fff" stroke-width="2.6"/><line x1="241.6" y1="269.6" x2="280.8" y2="269.6" stroke="#b8b8b8" stroke-width="2.6"/><line x1="241.6" y1="301.2" x2="280.8" y2="301.2" stroke="#b8b8b8" stroke-width="2.6"/><line x1="241.6" y1="332.4" x2="280.8" y2="332.4" stroke="#fff" stroke-width="2.6"/><line x1="241.6" y1="342.5" x2="280.8" y2="342.5" stroke="#fff" stroke-width="2.6"/><line x1="241.6" y1="376.2" x2="280.8" y2="376.2" stroke="#b8b8b8" stroke-width="2.6"/><line x1="241.6" y1="387.4" x2="280.8" y2="387.4" stroke="#fff" stroke-width="2.6"/><line x1="241.6" y1="397.4" x2="280.8" y2="397.4" stroke="#b8b8b8" stroke-width="2.6"/><line x1="241.6" y1="407" x2="280.8" y2="407" stroke="#b8b8b8" stroke-width="2.6"/><line x1="241.6" y1="411.3" x2="280.8" y2="411.3" stroke="#fff" stroke-width="2.6"/><line x1="241.6" y1="514.8" x2="280.8" y2="514.8" stroke="#b8b8b8" stroke-width="2.6"/><line x1="472.29999999999995" y1="285.7" x2="511.5" y2="285.7" stroke="#b8b8b8" stroke-width="2.6"/><line x1="472.29999999999995" y1="333.5" x2="511.5" y2="333.5" stroke="#fff" stroke-width="2.6"/><line x1="472.29999999999995" y1="337.0" x2="511.5" y2="337.0" stroke="#b8b8b8" stroke-width="2.6"/><line x1="472.29999999999995" y1="341.4" x2="511.5" y2="341.4" stroke="#fff" stroke-width="2.6"/><line x1="472.29999999999995" y1="378.5" x2="511.5" y2="378.5" stroke="#b8b8b8" stroke-width="2.6"/><line x1="472.29999999999995" y1="401.9" x2="511.5" y2="401.9" stroke="#fff" stroke-width="2.6"/><line x1="472.29999999999995" y1="427.7" x2="511.5" y2="427.7" stroke="#fff" stroke-width="2.6"/><line x1="472.29999999999995" y1="436.1" x2="511.5" y2="436.1" stroke="#b8b8b8" stroke-width="2.6"/><line x1="472.29999999999995" y1="454.1" x2="511.5" y2="454.1" stroke="#fff" stroke-width="2.6"/><line x1="472.29999999999995" y1="528.8" x2="511.5" y2="528.8" stroke="#b8b8b8" stroke-width="2.6"/><rect x="127.1" y="91.5" width="498.4" height="586.0" fill="none" stroke="#222" stroke-width="2.3" stroke-linejoin="round"/><line x1="111.1" y1="610.90" x2="127.1" y2="610.90" stroke="#222" stroke-width="2.2"/><text x="0" y="0" transform="translate(90.8,611.90) rotate(-90)" text-anchor="middle" font-size="25" fill="#111">100</text><line x1="111.1" y1="409.21" x2="127.1" y2="409.21" stroke="#222" stroke-width="2.2"/><text x="0" y="0" transform="translate(90.8,410.21) rotate(-90)" text-anchor="middle" font-size="25" fill="#111">200</text><line x1="111.1" y1="291.23" x2="127.1" y2="291.23" stroke="#222" stroke-width="2.2"/><text x="0" y="0" transform="translate(90.8,292.23) rotate(-90)" text-anchor="middle" font-size="25" fill="#111">300</text><line x1="111.1" y1="207.52" x2="127.1" y2="207.52" stroke="#222" stroke-width="2.2"/><text x="0" y="0" transform="translate(90.8,208.52) rotate(-90)" text-anchor="middle" font-size="25" fill="#111">400</text><line x1="111.1" y1="142.59" x2="127.1" y2="142.59" stroke="#222" stroke-width="2.2"/><text x="0" y="0" transform="translate(90.8,143.59) rotate(-90)" text-anchor="middle" font-size="25" fill="#111">500</text><line x1="261.2" y1="677.5" x2="261.2" y2="693.0" stroke="#222" stroke-width="2.2"/><line x1="491.9" y1="677.5" x2="491.9" y2="693.0" stroke="#222" stroke-width="2.2"/><text x="246.4" y="731.0" text-anchor="middle" font-size="33" font-weight="bold" fill="#111">Pre-Exercise</text><text x="506.6" y="731.0" text-anchor="middle" font-size="33" font-weight="bold" fill="#111">Post-Exercise</text><text x="384.8" y="46.0" text-anchor="middle" font-size="38" font-weight="bold" fill="#111">Valine</text><text x="0" y="0" transform="translate(43.8,490.3) rotate(-90)" font-size="38" font-weight="bold" fill="#111">Valine, µM</text><line x1="312.4" y1="132.0" x2="441.4" y2="132.0" stroke="#b0b0b0" stroke-width="3" stroke-linecap="round"/><text x="378.2" y="130.9" text-anchor="middle" font-size="26" font-weight="bold" letter-spacing="3.1" fill="#111">*</text></g>
<g><line x1="812.2" y1="412.4" x2="1310.6" y2="412.4" stroke="#606060" stroke-width="3" stroke-dasharray="3,9.85"/><path d="M946.40,257.00 L946.21,258.00 L946.19,259.00 L946.17,260.00 L946.15,261.00 L946.13,262.00 L946.10,263.00 L946.08,264.00 L946.05,265.00 L946.02,266.00 L945.99,267.00 L945.95,268.00 L945.92,269.00 L945.88,270.00 L945.83,271.00 L945.79,272.00 L945.74,273.00 L945.69,274.00 L945.64,275.00 L945.58,276.00 L945.52,277.00 L945.45,278.00 L945.39,279.00 L945.31,280.00 L945.24,281.00 L945.15,282.00 L945.07,283.00 L944.98,284.00 L944.88,285.00 L944.78,286.00 L944.68,287.00 L944.56,288.00 L944.45,289.00 L944.33,290.00 L944.20,291.00 L944.06,292.00 L943.92,293.00 L943.78,294.00 L943.62,295.00 L943.46,296.00 L943.30,297.00 L943.13,298.00 L942.95,299.00 L942.76,300.00 L942.57,301.00 L942.37,302.00 L942.16,303.00 L941.95,304.00 L941.73,305.00 L941.50,306.00 L941.26,307.00 L941.02,308.00 L940.77,309.00 L940.52,310.00 L940.25,311.00 L939.99,312.00 L939.71,313.00 L939.43,314.00 L939.14,315.00 L938.84,316.00 L938.54,317.00 L938.24,318.00 L937.93,319.00 L937.61,320.00 L937.29,321.00 L936.96,322.00 L936.63,323.00 L936.29,324.00 L935.95,325.00 L935.61,326.00 L935.26,327.00 L934.92,328.00 L934.56,329.00 L934.21,330.00 L933.85,331.00 L933.49,332.00 L933.14,333.00 L932.78,334.00 L932.42,335.00 L932.06,336.00 L931.70,337.00 L931.34,338.00 L930.98,339.00 L930.62,340.00 L930.26,341.00 L929.91,342.00 L929.56,343.00 L929.21,344.00 L928.86,345.00 L928.52,346.00 L928.18,347.00 L927.85,348.00 L927.52,349.00 L927.19,350.00 L926.87,351.00 L926.55,352.00 L926.24,353.00 L925.93,354.00 L925.63,355.00 L925.33,356.00 L925.04,357.00 L924.75,358.00 L924.47,359.00 L924.19,360.00 L923.92,361.00 L923.66,362.00 L923.40,363.00 L923.15,364.00 L922.90,365.00 L922.65,366.00 L922.42,367.00 L922.18,368.00 L921.96,369.00 L921.73,370.00 L921.51,371.00 L921.30,372.00 L921.09,373.00 L920.88,374.00 L920.67,375.00 L920.47,376.00 L920.28,377.00 L920.08,378.00 L919.89,379.00 L919.70,380.00 L919.51,381.00 L919.32,382.00 L919.13,383.00 L918.94,384.00 L918.76,385.00 L918.57,386.00 L918.39,387.00 L918.20,388.00 L918.01,389.00 L917.82,390.00 L917.63,391.00 L917.43,392.00 L917.24,393.00 L917.04,394.00 L916.83,395.00 L916.63,396.00 L916.42,397.00 L916.20,398.00 L915.98,399.00 L915.76,400.00 L915.53,401.00 L915.29,402.00 L915.05,403.00 L914.81,404.00 L914.55,405.00 L914.29,406.00 L914.03,407.00 L913.76,408.00 L913.47,409.00 L913.19,410.00 L912.89,411.00 L912.59,412.00 L912.28,413.00 L911.96,414.00 L911.63,415.00 L911.30,416.00 L910.96,417.00 L910.61,418.00 L910.25,419.00 L909.88,420.00 L909.50,421.00 L909.12,422.00 L908.73,423.00 L908.33,424.00 L907.92,425.00 L907.51,426.00 L907.08,427.00 L906.65,428.00 L906.22,429.00 L905.77,430.00 L905.32,431.00 L904.86,432.00 L904.39,433.00 L903.92,434.00 L903.45,435.00 L902.96,436.00 L902.47,437.00 L901.98,438.00 L901.48,439.00 L900.97,440.00 L900.47,441.00 L899.95,442.00 L899.44,443.00 L898.92,444.00 L898.40,445.00 L897.87,446.00 L897.34,447.00 L896.82,448.00 L896.28,449.00 L895.75,450.00 L895.22,451.00 L894.69,452.00 L894.15,453.00 L893.62,454.00 L893.09,455.00 L892.56,456.00 L892.03,457.00 L891.50,458.00 L890.97,459.00 L890.45,460.00 L889.93,461.00 L889.41,462.00 L888.90,463.00 L888.38,464.00 L887.87,465.00 L887.37,466.00 L886.87,467.00 L886.37,468.00 L885.88,469.00 L885.40,470.00 L884.92,471.00 L884.44,472.00 L883.97,473.00 L883.51,474.00 L883.05,475.00 L882.60,476.00 L882.15,477.00 L881.71,478.00 L881.28,479.00 L880.86,480.00 L880.44,481.00 L880.03,482.00 L879.63,483.00 L879.23,484.00 L878.84,485.00 L878.46,486.00 L878.09,487.00 L877.73,488.00 L877.37,489.00 L877.03,490.00 L876.69,491.00 L876.36,492.00 L876.04,493.00 L875.73,494.00 L875.43,495.00 L875.14,496.00 L874.86,497.00 L874.59,498.00 L874.33,499.00 L874.08,500.00 L873.84,501.00 L873.62,502.00 L873.40,503.00 L873.20,504.00 L873.01,505.00 L872.83,506.00 L872.66,507.00 L872.50,508.00 L872.36,509.00 L872.23,510.00 L872.12,511.00 L872.02,512.00 L871.93,513.00 L871.86,514.00 L871.80,515.00 L871.76,516.00 L871.73,517.00 L871.72,518.00 L871.73,519.00 L871.75,520.00 L871.79,521.00 L871.85,522.00 L871.92,523.00 L872.01,524.00 L872.12,525.00 L872.25,526.00 L872.40,527.00 L872.57,528.00 L872.76,529.00 L872.96,530.00 L873.19,531.00 L873.44,532.00 L873.71,533.00 L874.00,534.00 L874.31,535.00 L874.64,536.00 L875.00,537.00 L875.38,538.00 L875.78,539.00 L876.20,540.00 L876.65,541.00 L877.11,542.00 L877.60,543.00 L878.12,544.00 L878.66,545.00 L879.21,546.00 L879.80,547.00 L880.40,548.00 L881.03,549.00 L881.68,550.00 L882.35,551.00 L883.04,552.00 L883.76,553.00 L884.49,554.00 L885.25,555.00 L886.03,556.00 L886.83,557.00 L887.64,558.00 L888.48,559.00 L889.33,560.00 L890.20,561.00 L891.09,562.00 L891.99,563.00 L892.91,564.00 L893.84,565.00 L894.79,566.00 L895.74,567.00 L896.71,568.00 L897.69,569.00 L898.68,570.00 L899.68,571.00 L900.69,572.00 L901.70,573.00 L902.72,574.00 L903.74,575.00 L904.76,576.00 L905.79,577.00 L906.82,578.00 L907.85,579.00 L908.87,580.00 L909.90,581.00 L910.92,582.00 L911.93,583.00 L912.95,584.00 L913.95,585.00 L914.94,586.00 L915.93,587.00 L916.91,588.00 L917.88,589.00 L918.83,590.00 L919.78,591.00 L920.71,592.00 L921.62,593.00 L922.52,594.00 L923.41,595.00 L924.28,596.00 L925.13,597.00 L925.97,598.00 L926.79,599.00 L927.59,600.00 L928.37,601.00 L929.13,602.00 L929.88,603.00 L930.60,604.00 L931.30,605.00 L931.99,606.00 L932.65,607.00 L933.30,608.00 L933.92,609.00 L934.53,610.00 L935.11,611.00 L935.67,612.00 L936.22,613.00 L936.74,614.00 L937.25,615.00 L937.73,616.00 L938.20,617.00 L938.65,618.00 L939.08,619.00 L939.49,620.00 L939.88,621.00 L940.26,622.00 L940.62,623.00 L940.96,624.00 L941.29,625.00 L941.60,626.00 L941.90,627.00 L942.18,628.00 L942.45,629.00 L942.70,630.00 L942.94,631.00 L943.17,632.00 L943.38,633.00 L943.59,634.00 L943.78,635.00 L943.96,636.00 L944.13,637.00 L944.29,638.00 L944.44,639.00 L944.58,640.00 L944.71,641.00 L944.84,642.00 L944.96,643.00 L945.06,644.00 L945.17,645.00 L945.26,646.00 L945.35,647.00 L945.43,648.00 L945.51,649.00 L945.58,650.00 L945.65,651.00 L945.71,652.00 L945.77,653.00 L945.82,654.00 L945.87,655.00 L946.40,655.60 L946.40,655.60 L946.93,655.00 L946.98,654.00 L947.03,653.00 L947.09,652.00 L947.15,651.00 L947.22,650.00 L947.29,649.00 L947.37,648.00 L947.45,647.00 L947.54,646.00 L947.63,645.00 L947.74,644.00 L947.84,643.00 L947.96,642.00 L948.09,641.00 L948.22,640.00 L948.36,639.00 L948.51,638.00 L948.67,637.00 L948.84,636.00 L949.02,635.00 L949.21,634.00 L949.42,633.00 L949.63,632.00 L949.86,631.00 L950.10,630.00 L950.35,629.00 L950.62,628.00 L950.90,627.00 L951.20,626.00 L951.51,625.00 L951.84,624.00 L952.18,623.00 L952.54,622.00 L952.92,621.00 L953.31,620.00 L953.72,619.00 L954.15,618.00 L954.60,617.00 L955.07,616.00 L955.55,615.00 L956.06,614.00 L956.58,613.00 L957.13,612.00 L957.69,611.00 L958.27,610.00 L958.88,609.00 L959.50,608.00 L960.15,607.00 L960.81,606.00 L961.50,605.00 L962.20,604.00 L962.92,603.00 L963.67,602.00 L964.43,601.00 L965.21,600.00 L966.01,599.00 L966.83,598.00 L967.67,597.00 L968.52,596.00 L969.39,595.00 L970.28,594.00 L971.18,593.00 L972.09,592.00 L973.02,591.00 L973.97,590.00 L974.92,589.00 L975.89,588.00 L976.87,587.00 L977.86,586.00 L978.85,585.00 L979.85,584.00 L980.87,583.00 L981.88,582.00 L982.90,581.00 L983.93,580.00 L984.95,579.00 L985.98,578.00 L987.01,577.00 L988.04,576.00 L989.06,575.00 L990.08,574.00 L991.10,573.00 L992.11,572.00 L993.12,571.00 L994.12,570.00 L995.11,569.00 L996.09,568.00 L997.06,567.00 L998.01,566.00 L998.96,565.00 L999.89,564.00 L1000.81,563.00 L1001.71,562.00 L1002.60,561.00 L1003.47,560.00 L1004.32,559.00 L1005.16,558.00 L1005.97,557.00 L1006.77,556.00 L1007.55,555.00 L1008.31,554.00 L1009.04,553.00 L1009.76,552.00 L1010.45,551.00 L1011.12,550.00 L1011.77,549.00 L1012.40,548.00 L1013.00,547.00 L1013.59,546.00 L1014.14,545.00 L1014.68,544.00 L1015.20,543.00 L1015.69,542.00 L1016.15,541.00 L1016.60,540.00 L1017.02,539.00 L1017.42,538.00 L1017.80,537.00 L1018.16,536.00 L1018.49,535.00 L1018.80,534.00 L1019.09,533.00 L1019.36,532.00 L1019.61,531.00 L1019.84,530.00 L1020.04,529.00 L1020.23,528.00 L1020.40,527.00 L1020.55,526.00 L1020.68,525.00 L1020.79,524.00 L1020.88,523.00 L1020.95,522.00 L1021.01,521.00 L1021.05,520.00 L1021.07,519.00 L1021.08,518.00 L1021.07,517.00 L1021.04,516.00 L1021.00,515.00 L1020.94,514.00 L1020.87,513.00 L1020.78,512.00 L1020.68,511.00 L1020.57,510.00 L1020.44,509.00 L1020.30,508.00 L1020.14,507.00 L1019.97,506.00 L1019.79,505.00 L1019.60,504.00 L1019.40,503.00 L1019.18,502.00 L1018.96,501.00 L1018.72,500.00 L1018.47,499.00 L1018.21,498.00 L1017.94,497.00 L1017.66,496.00 L1017.37,495.00 L1017.07,494.00 L1016.76,493.00 L1016.44,492.00 L1016.11,491.00 L1015.77,490.00 L1015.43,489.00 L1015.07,488.00 L1014.71,487.00 L1014.34,486.00 L1013.96,485.00 L1013.57,484.00 L1013.17,483.00 L1012.77,482.00 L1012.36,481.00 L1011.94,480.00 L1011.52,479.00 L1011.09,478.00 L1010.65,477.00 L1010.20,476.00 L1009.75,475.00 L1009.29,474.00 L1008.83,473.00 L1008.36,472.00 L1007.88,471.00 L1007.40,470.00 L1006.92,469.00 L1006.43,468.00 L1005.93,467.00 L1005.43,466.00 L1004.93,465.00 L1004.42,464.00 L1003.90,463.00 L1003.39,462.00 L1002.87,461.00 L1002.35,460.00 L1001.83,459.00 L1001.30,458.00 L1000.77,457.00 L1000.24,456.00 L999.71,455.00 L999.18,454.00 L998.65,453.00 L998.11,452.00 L997.58,451.00 L997.05,450.00 L996.52,449.00 L995.98,448.00 L995.46,447.00 L994.93,446.00 L994.40,445.00 L993.88,444.00 L993.36,443.00 L992.85,442.00 L992.33,441.00 L991.83,440.00 L991.32,439.00 L990.82,438.00 L990.33,437.00 L989.84,436.00 L989.35,435.00 L988.88,434.00 L988.41,433.00 L987.94,432.00 L987.48,431.00 L987.03,430.00 L986.58,429.00 L986.15,428.00 L985.72,427.00 L985.29,426.00 L984.88,425.00 L984.47,424.00 L984.07,423.00 L983.68,422.00 L983.30,421.00 L982.92,420.00 L982.55,419.00 L982.19,418.00 L981.84,417.00 L981.50,416.00 L981.17,415.00 L980.84,414.00 L980.52,413.00 L980.21,412.00 L979.91,411.00 L979.61,410.00 L979.33,409.00 L979.04,408.00 L978.77,407.00 L978.51,406.00 L978.25,405.00 L977.99,404.00 L977.75,403.00 L977.51,402.00 L977.27,401.00 L977.04,400.00 L976.82,399.00 L976.60,398.00 L976.38,397.00 L976.17,396.00 L975.97,395.00 L975.76,394.00 L975.56,393.00 L975.37,392.00 L975.17,391.00 L974.98,390.00 L974.79,389.00 L974.60,388.00 L974.41,387.00 L974.23,386.00 L974.04,385.00 L973.86,384.00 L973.67,383.00 L973.48,382.00 L973.29,381.00 L973.10,380.00 L972.91,379.00 L972.72,378.00 L972.52,377.00 L972.33,376.00 L972.13,375.00 L971.92,374.00 L971.71,373.00 L971.50,372.00 L971.29,371.00 L971.07,370.00 L970.84,369.00 L970.62,368.00 L970.38,367.00 L970.15,366.00 L969.90,365.00 L969.65,364.00 L969.40,363.00 L969.14,362.00 L968.88,361.00 L968.61,360.00 L968.33,359.00 L968.05,358.00 L967.76,357.00 L967.47,356.00 L967.17,355.00 L966.87,354.00 L966.56,353.00 L966.25,352.00 L965.93,351.00 L965.61,350.00 L965.28,349.00 L964.95,348.00 L964.62,347.00 L964.28,346.00 L963.94,345.00 L963.59,344.00 L963.24,343.00 L962.89,342.00 L962.54,341.00 L962.18,340.00 L961.82,339.00 L961.46,338.00 L961.10,337.00 L960.74,336.00 L960.38,335.00 L960.02,334.00 L959.66,333.00 L959.31,332.00 L958.95,331.00 L958.59,330.00 L958.24,329.00 L957.88,328.00 L957.54,327.00 L957.19,326.00 L956.85,325.00 L956.51,324.00 L956.17,323.00 L955.84,322.00 L955.51,321.00 L955.19,320.00 L954.87,319.00 L954.56,318.00 L954.26,317.00 L953.96,316.00 L953.66,315.00 L953.37,314.00 L953.09,313.00 L952.81,312.00 L952.55,311.00 L952.28,310.00 L952.03,309.00 L951.78,308.00 L951.54,307.00 L951.30,306.00 L951.07,305.00 L950.85,304.00 L950.64,303.00 L950.43,302.00 L950.23,301.00 L950.04,300.00 L949.85,299.00 L949.67,298.00 L949.50,297.00 L949.34,296.00 L949.18,295.00 L949.02,294.00 L948.88,293.00 L948.74,292.00 L948.60,291.00 L948.47,290.00 L948.35,289.00 L948.24,288.00 L948.12,287.00 L948.02,286.00 L947.92,285.00 L947.82,284.00 L947.73,283.00 L947.65,282.00 L947.56,281.00 L947.49,280.00 L947.41,279.00 L947.35,278.00 L947.28,277.00 L947.22,276.00 L947.16,275.00 L947.11,274.00 L947.06,273.00 L947.01,272.00 L946.97,271.00 L946.92,270.00 L946.88,269.00 L946.85,268.00 L946.81,267.00 L946.78,266.00 L946.75,265.00 L946.72,264.00 L946.70,263.00 L946.67,262.00 L946.65,261.00 L946.63,260.00 L946.61,259.00 L946.59,258.00 L946.40,257.00Z" fill="#000"/><path d="M1177.00,113.10 L1176.88,114.10 L1176.87,115.10 L1176.86,116.10 L1176.84,117.10 L1176.82,118.10 L1176.81,119.10 L1176.79,120.10 L1176.76,121.10 L1176.74,122.10 L1176.71,123.10 L1176.69,124.10 L1176.66,125.10 L1176.62,126.10 L1176.59,127.10 L1176.55,128.10 L1176.51,129.10 L1176.46,130.10 L1176.41,131.10 L1176.36,132.10 L1176.30,133.10 L1176.24,134.10 L1176.18,135.10 L1176.11,136.10 L1176.04,137.10 L1175.96,138.10 L1175.87,139.10 L1175.78,140.10 L1175.69,141.10 L1175.59,142.10 L1175.48,143.10 L1175.36,144.10 L1175.24,145.10 L1175.11,146.10 L1174.97,147.10 L1174.83,148.10 L1174.68,149.10 L1174.52,150.10 L1174.35,151.10 L1174.17,152.10 L1173.99,153.10 L1173.79,154.10 L1173.59,155.10 L1173.37,156.10 L1173.15,157.10 L1172.92,158.10 L1172.68,159.10 L1172.42,160.10 L1172.16,161.10 L1171.89,162.10 L1171.60,163.10 L1171.31,164.10 L1171.01,165.10 L1170.69,166.10 L1170.37,167.10 L1170.04,168.10 L1169.69,169.10 L1169.34,170.10 L1168.98,171.10 L1168.60,172.10 L1168.22,173.10 L1167.83,174.10 L1167.43,175.10 L1167.02,176.10 L1166.61,177.10 L1166.18,178.10 L1165.75,179.10 L1165.31,180.10 L1164.87,181.10 L1164.42,182.10 L1163.96,183.10 L1163.50,184.10 L1163.03,185.10 L1162.56,186.10 L1162.08,187.10 L1161.60,188.10 L1161.12,189.10 L1160.63,190.10 L1160.15,191.10 L1159.66,192.10 L1159.17,193.10 L1158.68,194.10 L1158.19,195.10 L1157.70,196.10 L1157.21,197.10 L1156.73,198.10 L1156.24,199.10 L1155.76,200.10 L1155.28,201.10 L1154.80,202.10 L1154.33,203.10 L1153.86,204.10 L1153.40,205.10 L1152.94,206.10 L1152.49,207.10 L1152.04,208.10 L1151.60,209.10 L1151.16,210.10 L1150.73,211.10 L1150.31,212.10 L1149.90,213.10 L1149.49,214.10 L1149.09,215.10 L1148.70,216.10 L1148.32,217.10 L1147.94,218.10 L1147.57,219.10 L1147.22,220.10 L1146.87,221.10 L1146.53,222.10 L1146.20,223.10 L1145.88,224.10 L1145.58,225.10 L1145.28,226.10 L1144.99,227.10 L1144.72,228.10 L1144.46,229.10 L1144.21,230.10 L1143.97,231.10 L1143.74,232.10 L1143.53,233.10 L1143.33,234.10 L1143.15,235.10 L1142.98,236.10 L1142.82,237.10 L1142.68,238.10 L1142.56,239.10 L1142.45,240.10 L1142.35,241.10 L1142.28,242.10 L1142.22,243.10 L1142.18,244.10 L1142.15,245.10 L1142.15,246.10 L1142.16,247.10 L1142.19,248.10 L1142.24,249.10 L1142.31,250.10 L1142.40,251.10 L1142.50,252.10 L1142.63,253.10 L1142.77,254.10 L1142.94,255.10 L1143.12,256.10 L1143.32,257.10 L1143.54,258.10 L1143.77,259.10 L1144.03,260.10 L1144.30,261.10 L1144.58,262.10 L1144.88,263.10 L1145.20,264.10 L1145.53,265.10 L1145.87,266.10 L1146.22,267.10 L1146.58,268.10 L1146.96,269.10 L1147.34,270.10 L1147.73,271.10 L1148.12,272.10 L1148.52,273.10 L1148.92,274.10 L1149.32,275.10 L1149.72,276.10 L1150.12,277.10 L1150.52,278.10 L1150.90,279.10 L1151.29,280.10 L1151.66,281.10 L1152.02,282.10 L1152.36,283.10 L1152.70,284.10 L1153.01,285.10 L1153.31,286.10 L1153.58,287.10 L1153.83,288.10 L1154.06,289.10 L1154.26,290.10 L1154.44,291.10 L1154.58,292.10 L1154.70,293.10 L1154.77,294.10 L1154.82,295.10 L1154.83,296.10 L1154.80,297.10 L1154.73,298.10 L1154.62,299.10 L1154.48,300.10 L1154.28,301.10 L1154.05,302.10 L1153.77,303.10 L1153.44,304.10 L1153.07,305.10 L1152.66,306.10 L1152.19,307.10 L1151.68,308.10 L1151.12,309.10 L1150.52,310.10 L1149.87,311.10 L1149.17,312.10 L1148.42,313.10 L1147.63,314.10 L1146.79,315.10 L1145.91,316.10 L1144.98,317.10 L1144.01,318.10 L1143.00,319.10 L1141.95,320.10 L1140.86,321.10 L1139.73,322.10 L1138.57,323.10 L1137.37,324.10 L1136.14,325.10 L1134.88,326.10 L1133.59,327.10 L1132.28,328.10 L1130.94,329.10 L1129.58,330.10 L1128.21,331.10 L1126.81,332.10 L1125.41,333.10 L1123.99,334.10 L1122.56,335.10 L1121.13,336.10 L1119.70,337.10 L1118.26,338.10 L1116.83,339.10 L1115.40,340.10 L1113.98,341.10 L1112.57,342.10 L1111.17,343.10 L1109.79,344.10 L1108.42,345.10 L1107.08,346.10 L1105.76,347.10 L1104.46,348.10 L1103.20,349.10 L1101.96,350.10 L1100.75,351.10 L1099.58,352.10 L1098.44,353.10 L1097.34,354.10 L1096.28,355.10 L1095.26,356.10 L1094.28,357.10 L1093.35,358.10 L1092.46,359.10 L1091.61,360.10 L1090.81,361.10 L1090.06,362.10 L1089.36,363.10 L1088.70,364.10 L1088.10,365.10 L1087.54,366.10 L1087.04,367.10 L1086.58,368.10 L1086.18,369.10 L1085.82,370.10 L1085.52,371.10 L1085.27,372.10 L1085.06,373.10 L1084.91,374.10 L1084.80,375.10 L1084.75,376.10 L1084.74,377.10 L1084.78,378.10 L1084.87,379.10 L1085.01,380.10 L1085.19,381.10 L1085.41,382.10 L1085.69,383.10 L1086.00,384.10 L1086.36,385.10 L1086.77,386.10 L1087.21,387.10 L1087.70,388.10 L1088.23,389.10 L1088.80,390.10 L1089.40,391.10 L1090.05,392.10 L1090.73,393.10 L1091.45,394.10 L1092.21,395.10 L1093.00,396.10 L1093.82,397.10 L1094.68,398.10 L1095.57,399.10 L1096.50,400.10 L1097.45,401.10 L1098.44,402.10 L1099.45,403.10 L1100.49,404.10 L1101.56,405.10 L1102.65,406.10 L1103.77,407.10 L1104.91,408.10 L1106.07,409.10 L1107.26,410.10 L1108.47,411.10 L1109.69,412.10 L1110.94,413.10 L1112.20,414.10 L1113.47,415.10 L1114.76,416.10 L1116.06,417.10 L1117.37,418.10 L1118.69,419.10 L1120.02,420.10 L1121.36,421.10 L1122.70,422.10 L1124.05,423.10 L1125.40,424.10 L1126.75,425.10 L1128.10,426.10 L1129.44,427.10 L1130.78,428.10 L1132.12,429.10 L1133.45,430.10 L1134.78,431.10 L1136.09,432.10 L1137.39,433.10 L1138.68,434.10 L1139.96,435.10 L1141.22,436.10 L1142.47,437.10 L1143.70,438.10 L1144.91,439.10 L1146.10,440.10 L1147.28,441.10 L1148.43,442.10 L1149.56,443.10 L1150.66,444.10 L1151.75,445.10 L1152.80,446.10 L1153.84,447.10 L1154.85,448.10 L1155.83,449.10 L1156.78,450.10 L1157.71,451.10 L1158.62,452.10 L1159.49,453.10 L1160.34,454.10 L1161.16,455.10 L1161.96,456.10 L1162.72,457.10 L1163.46,458.10 L1164.18,459.10 L1164.86,460.10 L1165.52,461.10 L1166.16,462.10 L1166.76,463.10 L1167.35,464.10 L1167.90,465.10 L1168.44,466.10 L1168.95,467.10 L1169.43,468.10 L1169.89,469.10 L1170.34,470.10 L1170.75,471.10 L1171.15,472.10 L1171.53,473.10 L1171.89,474.10 L1172.23,475.10 L1172.55,476.10 L1172.85,477.10 L1173.14,478.10 L1173.41,479.10 L1173.66,480.10 L1173.90,481.10 L1174.13,482.10 L1174.34,483.10 L1174.53,484.10 L1174.72,485.10 L1174.89,486.10 L1175.05,487.10 L1175.21,488.10 L1175.35,489.10 L1175.48,490.10 L1175.60,491.10 L1175.71,492.10 L1175.82,493.10 L1175.92,494.10 L1176.01,495.10 L1176.09,496.10 L1176.17,497.10 L1176.24,498.10 L1176.31,499.10 L1176.37,500.10 L1176.43,501.10 L1176.48,502.10 L1176.52,503.10 L1176.57,504.10 L1176.61,505.10 L1176.64,506.10 L1176.68,507.10 L1176.71,508.10 L1176.74,509.10 L1176.76,510.10 L1176.79,511.10 L1176.81,512.10 L1176.83,513.10 L1176.84,514.10 L1176.86,515.10 L1176.87,516.10 L1176.89,517.10 L1177.00,517.50 L1177.00,517.50 L1177.11,517.10 L1177.13,516.10 L1177.14,515.10 L1177.16,514.10 L1177.17,513.10 L1177.19,512.10 L1177.21,511.10 L1177.24,510.10 L1177.26,509.10 L1177.29,508.10 L1177.32,507.10 L1177.36,506.10 L1177.39,505.10 L1177.43,504.10 L1177.48,503.10 L1177.52,502.10 L1177.57,501.10 L1177.63,500.10 L1177.69,499.10 L1177.76,498.10 L1177.83,497.10 L1177.91,496.10 L1177.99,495.10 L1178.08,494.10 L1178.18,493.10 L1178.29,492.10 L1178.40,491.10 L1178.52,490.10 L1178.65,489.10 L1178.79,488.10 L1178.95,487.10 L1179.11,486.10 L1179.28,485.10 L1179.47,484.10 L1179.66,483.10 L1179.87,482.10 L1180.10,481.10 L1180.34,480.10 L1180.59,479.10 L1180.86,478.10 L1181.15,477.10 L1181.45,476.10 L1181.77,475.10 L1182.11,474.10 L1182.47,473.10 L1182.85,472.10 L1183.25,471.10 L1183.66,470.10 L1184.11,469.10 L1184.57,468.10 L1185.05,467.10 L1185.56,466.10 L1186.10,465.10 L1186.65,464.10 L1187.24,463.10 L1187.84,462.10 L1188.48,461.10 L1189.14,460.10 L1189.82,459.10 L1190.54,458.10 L1191.28,457.10 L1192.04,456.10 L1192.84,455.10 L1193.66,454.10 L1194.51,453.10 L1195.38,452.10 L1196.29,451.10 L1197.22,450.10 L1198.17,449.10 L1199.15,448.10 L1200.16,447.10 L1201.20,446.10 L1202.25,445.10 L1203.34,444.10 L1204.44,443.10 L1205.57,442.10 L1206.72,441.10 L1207.90,440.10 L1209.09,439.10 L1210.30,438.10 L1211.53,437.10 L1212.78,436.10 L1214.04,435.10 L1215.32,434.10 L1216.61,433.10 L1217.91,432.10 L1219.22,431.10 L1220.55,430.10 L1221.88,429.10 L1223.22,428.10 L1224.56,427.10 L1225.90,426.10 L1227.25,425.10 L1228.60,424.10 L1229.95,423.10 L1231.30,422.10 L1232.64,421.10 L1233.98,420.10 L1235.31,419.10 L1236.63,418.10 L1237.94,417.10 L1239.24,416.10 L1240.53,415.10 L1241.80,414.10 L1243.06,413.10 L1244.31,412.10 L1245.53,411.10 L1246.74,410.10 L1247.93,409.10 L1249.09,408.10 L1250.23,407.10 L1251.35,406.10 L1252.44,405.10 L1253.51,404.10 L1254.55,403.10 L1255.56,402.10 L1256.55,401.10 L1257.50,400.10 L1258.43,399.10 L1259.32,398.10 L1260.18,397.10 L1261.00,396.10 L1261.79,395.10 L1262.55,394.10 L1263.27,393.10 L1263.95,392.10 L1264.60,391.10 L1265.20,390.10 L1265.77,389.10 L1266.30,388.10 L1266.79,387.10 L1267.23,386.10 L1267.64,385.10 L1268.00,384.10 L1268.31,383.10 L1268.59,382.10 L1268.81,381.10 L1268.99,380.10 L1269.13,379.10 L1269.22,378.10 L1269.26,377.10 L1269.25,376.10 L1269.20,375.10 L1269.09,374.10 L1268.94,373.10 L1268.73,372.10 L1268.48,371.10 L1268.18,370.10 L1267.82,369.10 L1267.42,368.10 L1266.96,367.10 L1266.46,366.10 L1265.90,365.10 L1265.30,364.10 L1264.64,363.10 L1263.94,362.10 L1263.19,361.10 L1262.39,360.10 L1261.54,359.10 L1260.65,358.10 L1259.72,357.10 L1258.74,356.10 L1257.72,355.10 L1256.66,354.10 L1255.56,353.10 L1254.42,352.10 L1253.25,351.10 L1252.04,350.10 L1250.80,349.10 L1249.54,348.10 L1248.24,347.10 L1246.92,346.10 L1245.58,345.10 L1244.21,344.10 L1242.83,343.10 L1241.43,342.10 L1240.02,341.10 L1238.60,340.10 L1237.17,339.10 L1235.74,338.10 L1234.30,337.10 L1232.87,336.10 L1231.44,335.10 L1230.01,334.10 L1228.59,333.10 L1227.19,332.10 L1225.79,331.10 L1224.42,330.10 L1223.06,329.10 L1221.72,328.10 L1220.41,327.10 L1219.12,326.10 L1217.86,325.10 L1216.63,324.10 L1215.43,323.10 L1214.27,322.10 L1213.14,321.10 L1212.05,320.10 L1211.00,319.10 L1209.99,318.10 L1209.02,317.10 L1208.09,316.10 L1207.21,315.10 L1206.37,314.10 L1205.58,313.10 L1204.83,312.10 L1204.13,311.10 L1203.48,310.10 L1202.88,309.10 L1202.32,308.10 L1201.81,307.10 L1201.34,306.10 L1200.93,305.10 L1200.56,304.10 L1200.23,303.10 L1199.95,302.10 L1199.72,301.10 L1199.52,300.10 L1199.38,299.10 L1199.27,298.10 L1199.20,297.10 L1199.17,296.10 L1199.18,295.10 L1199.23,294.10 L1199.30,293.10 L1199.42,292.10 L1199.56,291.10 L1199.74,290.10 L1199.94,289.10 L1200.17,288.10 L1200.42,287.10 L1200.69,286.10 L1200.99,285.10 L1201.30,284.10 L1201.64,283.10 L1201.98,282.10 L1202.34,281.10 L1202.71,280.10 L1203.10,279.10 L1203.48,278.10 L1203.88,277.10 L1204.28,276.10 L1204.68,275.10 L1205.08,274.10 L1205.48,273.10 L1205.88,272.10 L1206.27,271.10 L1206.66,270.10 L1207.04,269.10 L1207.42,268.10 L1207.78,267.10 L1208.13,266.10 L1208.47,265.10 L1208.80,264.10 L1209.12,263.10 L1209.42,262.10 L1209.70,261.10 L1209.97,260.10 L1210.23,259.10 L1210.46,258.10 L1210.68,257.10 L1210.88,256.10 L1211.06,255.10 L1211.23,254.10 L1211.37,253.10 L1211.50,252.10 L1211.60,251.10 L1211.69,250.10 L1211.76,249.10 L1211.81,248.10 L1211.84,247.10 L1211.85,246.10 L1211.85,245.10 L1211.82,244.10 L1211.78,243.10 L1211.72,242.10 L1211.65,241.10 L1211.55,240.10 L1211.44,239.10 L1211.32,238.10 L1211.18,237.10 L1211.02,236.10 L1210.85,235.10 L1210.67,234.10 L1210.47,233.10 L1210.26,232.10 L1210.03,231.10 L1209.79,230.10 L1209.54,229.10 L1209.28,228.10 L1209.01,227.10 L1208.72,226.10 L1208.42,225.10 L1208.12,224.10 L1207.80,223.10 L1207.47,222.10 L1207.13,221.10 L1206.78,220.10 L1206.43,219.10 L1206.06,218.10 L1205.68,217.10 L1205.30,216.10 L1204.91,215.10 L1204.51,214.10 L1204.10,213.10 L1203.69,212.10 L1203.27,211.10 L1202.84,210.10 L1202.40,209.10 L1201.96,208.10 L1201.51,207.10 L1201.06,206.10 L1200.60,205.10 L1200.14,204.10 L1199.67,203.10 L1199.20,202.10 L1198.72,201.10 L1198.24,200.10 L1197.76,199.10 L1197.27,198.10 L1196.79,197.10 L1196.30,196.10 L1195.81,195.10 L1195.32,194.10 L1194.83,193.10 L1194.34,192.10 L1193.85,191.10 L1193.37,190.10 L1192.88,189.10 L1192.40,188.10 L1191.92,187.10 L1191.44,186.10 L1190.97,185.10 L1190.50,184.10 L1190.04,183.10 L1189.58,182.10 L1189.13,181.10 L1188.69,180.10 L1188.25,179.10 L1187.82,178.10 L1187.39,177.10 L1186.98,176.10 L1186.57,175.10 L1186.17,174.10 L1185.78,173.10 L1185.40,172.10 L1185.02,171.10 L1184.66,170.10 L1184.31,169.10 L1183.96,168.10 L1183.63,167.10 L1183.31,166.10 L1182.99,165.10 L1182.69,164.10 L1182.40,163.10 L1182.11,162.10 L1181.84,161.10 L1181.58,160.10 L1181.32,159.10 L1181.08,158.10 L1180.85,157.10 L1180.63,156.10 L1180.41,155.10 L1180.21,154.10 L1180.01,153.10 L1179.83,152.10 L1179.65,151.10 L1179.48,150.10 L1179.32,149.10 L1179.17,148.10 L1179.03,147.10 L1178.89,146.10 L1178.76,145.10 L1178.64,144.10 L1178.52,143.10 L1178.41,142.10 L1178.31,141.10 L1178.22,140.10 L1178.13,139.10 L1178.04,138.10 L1177.96,137.10 L1177.89,136.10 L1177.82,135.10 L1177.76,134.10 L1177.70,133.10 L1177.64,132.10 L1177.59,131.10 L1177.54,130.10 L1177.49,129.10 L1177.45,128.10 L1177.41,127.10 L1177.38,126.10 L1177.34,125.10 L1177.31,124.10 L1177.29,123.10 L1177.26,122.10 L1177.24,121.10 L1177.21,120.10 L1177.19,119.10 L1177.18,118.10 L1177.16,117.10 L1177.14,116.10 L1177.13,115.10 L1177.12,114.10 L1177.00,113.10Z" fill="#000"/><line x1="832.1" y1="482.2" x2="1060.7" y2="482.2" stroke="#000" stroke-width="3.6" stroke-linecap="round"/><line x1="1062.7" y1="342.1" x2="1291.3" y2="342.1" stroke="#000" stroke-width="3.6" stroke-linecap="round"/><line x1="926.8" y1="356.1" x2="966.0" y2="356.1" stroke="#fff" stroke-width="2.6"/><line x1="926.8" y1="395.7" x2="966.0" y2="395.7" stroke="#b8b8b8" stroke-width="2.6"/><line x1="926.8" y1="432.8" x2="966.0" y2="432.8" stroke="#fff" stroke-width="2.6"/><line x1="926.8" y1="469.5" x2="966.0" y2="469.5" stroke="#fff" stroke-width="4.0"/><line x1="926.8" y1="504" x2="966.0" y2="504" stroke="#b8b8b8" stroke-width="2.6"/><line x1="926.8" y1="508" x2="966.0" y2="508" stroke="#b8b8b8" stroke-width="2.6"/><line x1="926.8" y1="518.2" x2="966.0" y2="518.2" stroke="#fff" stroke-width="2.6"/><line x1="926.8" y1="548.3" x2="966.0" y2="548.3" stroke="#fff" stroke-width="4.0"/><line x1="926.8" y1="556.3" x2="966.0" y2="556.3" stroke="#fff" stroke-width="2.6"/><line x1="1157.4" y1="211.7" x2="1196.6" y2="211.7" stroke="#fff" stroke-width="2.6"/><line x1="1157.4" y1="251.4" x2="1196.6" y2="251.4" stroke="#fff" stroke-width="2.6"/><line x1="1157.4" y1="258.8" x2="1196.6" y2="258.8" stroke="#fff" stroke-width="2.6"/><line x1="1157.4" y1="351.2" x2="1196.6" y2="351.2" stroke="#b8b8b8" stroke-width="2.6"/><line x1="1157.4" y1="364.2" x2="1196.6" y2="364.2" stroke="#fff" stroke-width="2.6"/><line x1="1157.4" y1="373.6" x2="1196.6" y2="373.6" stroke="#fff" stroke-width="2.6"/><line x1="1157.4" y1="397.1" x2="1196.6" y2="397.1" stroke="#b8b8b8" stroke-width="2.6"/><line x1="1157.4" y1="400.9" x2="1196.6" y2="400.9" stroke="#b8b8b8" stroke-width="2.6"/><line x1="1157.4" y1="418.9" x2="1196.6" y2="418.9" stroke="#fff" stroke-width="2.6"/><rect x="812.2" y="91.5" width="498.4" height="586.0" fill="none" stroke="#222" stroke-width="2.3" stroke-linejoin="round"/><line x1="796.2" y1="656.00" x2="812.2" y2="656.00" stroke="#222" stroke-width="2.2"/><text x="0" y="0" transform="translate(775.9000000000001,657.00) rotate(-90)" text-anchor="middle" font-size="25" fill="#111">0.01</text><line x1="796.2" y1="500.43" x2="812.2" y2="500.43" stroke="#222" stroke-width="2.2"/><text x="0" y="0" transform="translate(775.9000000000001,501.43) rotate(-90)" text-anchor="middle" font-size="25" fill="#111">0.02</text><line x1="796.2" y1="294.77" x2="812.2" y2="294.77" stroke="#222" stroke-width="2.2"/><text x="0" y="0" transform="translate(775.9000000000001,295.77) rotate(-90)" text-anchor="middle" font-size="25" fill="#111">0.05</text><line x1="796.2" y1="139.20" x2="812.2" y2="139.20" stroke="#222" stroke-width="2.2"/><text x="0" y="0" transform="translate(775.9000000000001,140.20) rotate(-90)" text-anchor="middle" font-size="25" fill="#111">0.10</text><line x1="946.4" y1="677.5" x2="946.4" y2="693.0" stroke="#222" stroke-width="2.2"/><line x1="1177.0" y1="677.5" x2="1177.0" y2="693.0" stroke="#222" stroke-width="2.2"/><text x="927.2" y="731.0" text-anchor="middle" font-size="33" font-weight="bold" fill="#111">Pre-Exercise</text><text x="1186.8" y="731.0" text-anchor="middle" font-size="33" font-weight="bold" fill="#111">Post-Exercise</text><text x="1065.4" y="46.0" text-anchor="middle" font-size="38" font-weight="bold" fill="#111">C4OH</text><text x="0" y="0" transform="translate(718.8,488.0) rotate(-90)" font-size="38" font-weight="bold" fill="#111">C4OH, µM</text><line x1="976.3" y1="141.5" x2="1105.4" y2="141.5" stroke="#b0b0b0" stroke-width="3" stroke-linecap="round"/><text x="1039.3" y="135.5" text-anchor="middle" font-size="26" font-weight="bold" letter-spacing="3.1" fill="#111">****</text></g>
<g><line x1="1497.6" y1="357.8" x2="1996.0" y2="357.8" stroke="#606060" stroke-width="3" stroke-dasharray="3,9.85"/><path d="M1631.50,174.60 L1631.34,175.60 L1631.32,176.60 L1631.31,177.60 L1631.29,178.60 L1631.27,179.60 L1631.26,180.60 L1631.24,181.60 L1631.22,182.60 L1631.19,183.60 L1631.17,184.60 L1631.14,185.60 L1631.11,186.60 L1631.08,187.60 L1631.05,188.60 L1631.02,189.60 L1630.98,190.60 L1630.94,191.60 L1630.90,192.60 L1630.86,193.60 L1630.81,194.60 L1630.76,195.60 L1630.71,196.60 L1630.66,197.60 L1630.60,198.60 L1630.54,199.60 L1630.47,200.60 L1630.40,201.60 L1630.33,202.60 L1630.25,203.60 L1630.17,204.60 L1630.08,205.60 L1629.99,206.60 L1629.89,207.60 L1629.79,208.60 L1629.69,209.60 L1629.57,210.60 L1629.46,211.60 L1629.33,212.60 L1629.21,213.60 L1629.07,214.60 L1628.93,215.60 L1628.78,216.60 L1628.63,217.60 L1628.46,218.60 L1628.30,219.60 L1628.12,220.60 L1627.93,221.60 L1627.74,222.60 L1627.54,223.60 L1627.33,224.60 L1627.12,225.60 L1626.89,226.60 L1626.66,227.60 L1626.41,228.60 L1626.16,229.60 L1625.90,230.60 L1625.63,231.60 L1625.35,232.60 L1625.06,233.60 L1624.76,234.60 L1624.45,235.60 L1624.12,236.60 L1623.79,237.60 L1623.45,238.60 L1623.09,239.60 L1622.73,240.60 L1622.35,241.60 L1621.97,242.60 L1621.57,243.60 L1621.16,244.60 L1620.74,245.60 L1620.31,246.60 L1619.86,247.60 L1619.41,248.60 L1618.94,249.60 L1618.46,250.60 L1617.97,251.60 L1617.47,252.60 L1616.95,253.60 L1616.43,254.60 L1615.89,255.60 L1615.34,256.60 L1614.78,257.60 L1614.20,258.60 L1613.62,259.60 L1613.02,260.60 L1612.42,261.60 L1611.80,262.60 L1611.17,263.60 L1610.53,264.60 L1609.88,265.60 L1609.22,266.60 L1608.54,267.60 L1607.86,268.60 L1607.17,269.60 L1606.46,270.60 L1605.75,271.60 L1605.03,272.60 L1604.30,273.60 L1603.56,274.60 L1602.81,275.60 L1602.06,276.60 L1601.29,277.60 L1600.52,278.60 L1599.74,279.60 L1598.96,280.60 L1598.17,281.60 L1597.37,282.60 L1596.57,283.60 L1595.77,284.60 L1594.95,285.60 L1594.14,286.60 L1593.32,287.60 L1592.50,288.60 L1591.68,289.60 L1590.86,290.60 L1590.04,291.60 L1589.21,292.60 L1588.39,293.60 L1587.57,294.60 L1586.75,295.60 L1585.93,296.60 L1585.12,297.60 L1584.31,298.60 L1583.51,299.60 L1582.71,300.60 L1581.92,301.60 L1581.14,302.60 L1580.36,303.60 L1579.60,304.60 L1578.84,305.60 L1578.10,306.60 L1577.37,307.60 L1576.65,308.60 L1575.94,309.60 L1575.25,310.60 L1574.57,311.60 L1573.92,312.60 L1573.27,313.60 L1572.65,314.60 L1572.05,315.60 L1571.46,316.60 L1570.90,317.60 L1570.35,318.60 L1569.83,319.60 L1569.34,320.60 L1568.86,321.60 L1568.41,322.60 L1567.99,323.60 L1567.59,324.60 L1567.21,325.60 L1566.87,326.60 L1566.55,327.60 L1566.26,328.60 L1565.99,329.60 L1565.76,330.60 L1565.55,331.60 L1565.37,332.60 L1565.22,333.60 L1565.10,334.60 L1565.01,335.60 L1564.95,336.60 L1564.92,337.60 L1564.92,338.60 L1564.94,339.60 L1565.00,340.60 L1565.08,341.60 L1565.19,342.60 L1565.33,343.60 L1565.49,344.60 L1565.68,345.60 L1565.90,346.60 L1566.14,347.60 L1566.40,348.60 L1566.69,349.60 L1567.00,350.60 L1567.32,351.60 L1567.67,352.60 L1568.04,353.60 L1568.43,354.60 L1568.83,355.60 L1569.25,356.60 L1569.68,357.60 L1570.13,358.60 L1570.58,359.60 L1571.05,360.60 L1571.52,361.60 L1572.00,362.60 L1572.49,363.60 L1572.98,364.60 L1573.47,365.60 L1573.96,366.60 L1574.45,367.60 L1574.94,368.60 L1575.43,369.60 L1575.91,370.60 L1576.38,371.60 L1576.84,372.60 L1577.30,373.60 L1577.74,374.60 L1578.17,375.60 L1578.59,376.60 L1578.99,377.60 L1579.37,378.60 L1579.74,379.60 L1580.09,380.60 L1580.41,381.60 L1580.72,382.60 L1581.00,383.60 L1581.26,384.60 L1581.50,385.60 L1581.71,386.60 L1581.89,387.60 L1582.05,388.60 L1582.18,389.60 L1582.29,390.60 L1582.36,391.60 L1582.41,392.60 L1582.43,393.60 L1582.42,394.60 L1582.38,395.60 L1582.31,396.60 L1582.22,397.60 L1582.09,398.60 L1581.94,399.60 L1581.76,400.60 L1581.55,401.60 L1581.31,402.60 L1581.05,403.60 L1580.76,404.60 L1580.44,405.60 L1580.10,406.60 L1579.74,407.60 L1579.35,408.60 L1578.94,409.60 L1578.51,410.60 L1578.06,411.60 L1577.59,412.60 L1577.10,413.60 L1576.60,414.60 L1576.08,415.60 L1575.55,416.60 L1575.00,417.60 L1574.44,418.60 L1573.87,419.60 L1573.30,420.60 L1572.71,421.60 L1572.12,422.60 L1571.53,423.60 L1570.93,424.60 L1570.33,425.60 L1569.74,426.60 L1569.14,427.60 L1568.54,428.60 L1567.95,429.60 L1567.37,430.60 L1566.79,431.60 L1566.22,432.60 L1565.66,433.60 L1565.11,434.60 L1564.57,435.60 L1564.04,436.60 L1563.53,437.60 L1563.04,438.60 L1562.56,439.60 L1562.10,440.60 L1561.66,441.60 L1561.24,442.60 L1560.84,443.60 L1560.46,444.60 L1560.10,445.60 L1559.77,446.60 L1559.46,447.60 L1559.17,448.60 L1558.91,449.60 L1558.68,450.60 L1558.47,451.60 L1558.29,452.60 L1558.13,453.60 L1558.01,454.60 L1557.91,455.60 L1557.83,456.60 L1557.79,457.60 L1557.77,458.60 L1557.79,459.60 L1557.82,460.60 L1557.89,461.60 L1557.99,462.60 L1558.11,463.60 L1558.26,464.60 L1558.44,465.60 L1558.64,466.60 L1558.87,467.60 L1559.13,468.60 L1559.41,469.60 L1559.72,470.60 L1560.05,471.60 L1560.40,472.60 L1560.78,473.60 L1561.19,474.60 L1561.61,475.60 L1562.05,476.60 L1562.52,477.60 L1563.01,478.60 L1563.51,479.60 L1564.04,480.60 L1564.58,481.60 L1565.14,482.60 L1565.71,483.60 L1566.31,484.60 L1566.91,485.60 L1567.53,486.60 L1568.16,487.60 L1568.81,488.60 L1569.46,489.60 L1570.13,490.60 L1570.81,491.60 L1571.49,492.60 L1572.18,493.60 L1572.89,494.60 L1573.59,495.60 L1574.31,496.60 L1575.02,497.60 L1575.75,498.60 L1576.47,499.60 L1577.20,500.60 L1577.93,501.60 L1578.66,502.60 L1579.40,503.60 L1580.13,504.60 L1580.87,505.60 L1581.60,506.60 L1582.33,507.60 L1583.06,508.60 L1583.79,509.60 L1584.52,510.60 L1585.24,511.60 L1585.96,512.60 L1586.67,513.60 L1587.38,514.60 L1588.09,515.60 L1588.79,516.60 L1589.49,517.60 L1590.18,518.60 L1590.86,519.60 L1591.54,520.60 L1592.22,521.60 L1592.89,522.60 L1593.55,523.60 L1594.20,524.60 L1594.85,525.60 L1595.50,526.60 L1596.13,527.60 L1596.76,528.60 L1597.39,529.60 L1598.01,530.60 L1598.62,531.60 L1599.22,532.60 L1599.82,533.60 L1600.41,534.60 L1601.00,535.60 L1601.58,536.60 L1602.15,537.60 L1602.72,538.60 L1603.28,539.60 L1603.84,540.60 L1604.39,541.60 L1604.93,542.60 L1605.47,543.60 L1606.00,544.60 L1606.53,545.60 L1607.05,546.60 L1607.57,547.60 L1608.08,548.60 L1608.59,549.60 L1609.09,550.60 L1609.58,551.60 L1610.07,552.60 L1610.56,553.60 L1611.04,554.60 L1611.51,555.60 L1611.98,556.60 L1612.45,557.60 L1612.91,558.60 L1613.36,559.60 L1613.81,560.60 L1614.26,561.60 L1614.70,562.60 L1615.13,563.60 L1615.56,564.60 L1615.99,565.60 L1616.41,566.60 L1616.82,567.60 L1617.23,568.60 L1617.63,569.60 L1618.03,570.60 L1618.42,571.60 L1618.80,572.60 L1619.18,573.60 L1619.56,574.60 L1619.92,575.60 L1620.29,576.60 L1620.64,577.60 L1620.99,578.60 L1621.33,579.60 L1621.67,580.60 L1622.00,581.60 L1622.33,582.60 L1622.64,583.60 L1622.96,584.60 L1623.26,585.60 L1623.56,586.60 L1623.85,587.60 L1624.13,588.60 L1624.41,589.60 L1624.68,590.60 L1624.95,591.60 L1625.21,592.60 L1625.46,593.60 L1625.70,594.60 L1625.94,595.60 L1626.17,596.60 L1626.40,597.60 L1626.62,598.60 L1626.83,599.60 L1627.03,600.60 L1627.23,601.60 L1627.42,602.60 L1627.61,603.60 L1627.79,604.60 L1627.96,605.60 L1628.13,606.60 L1628.29,607.60 L1628.45,608.60 L1628.60,609.60 L1628.74,610.60 L1628.88,611.60 L1629.02,612.60 L1629.15,613.60 L1629.27,614.60 L1629.39,615.60 L1629.50,616.60 L1629.61,617.60 L1629.71,618.60 L1629.81,619.60 L1629.91,620.60 L1630.00,621.60 L1630.08,622.60 L1630.16,623.60 L1630.24,624.60 L1630.32,625.60 L1630.39,626.60 L1630.45,627.60 L1630.52,628.60 L1630.58,629.60 L1630.64,630.60 L1630.69,631.60 L1630.74,632.60 L1630.79,633.60 L1630.84,634.60 L1630.88,635.60 L1630.92,636.60 L1630.96,637.60 L1631.00,638.60 L1631.03,639.60 L1631.06,640.60 L1631.09,641.60 L1631.12,642.60 L1631.15,643.60 L1631.17,644.60 L1631.20,645.60 L1631.22,646.60 L1631.24,647.60 L1631.26,648.60 L1631.28,649.60 L1631.29,650.60 L1631.31,651.60 L1631.32,652.60 L1631.34,653.60 L1631.35,654.60 L1631.50,654.70 L1631.50,654.70 L1631.65,654.60 L1631.66,653.60 L1631.68,652.60 L1631.69,651.60 L1631.71,650.60 L1631.72,649.60 L1631.74,648.60 L1631.76,647.60 L1631.78,646.60 L1631.80,645.60 L1631.83,644.60 L1631.85,643.60 L1631.88,642.60 L1631.91,641.60 L1631.94,640.60 L1631.97,639.60 L1632.00,638.60 L1632.04,637.60 L1632.08,636.60 L1632.12,635.60 L1632.16,634.60 L1632.21,633.60 L1632.26,632.60 L1632.31,631.60 L1632.36,630.60 L1632.42,629.60 L1632.48,628.60 L1632.55,627.60 L1632.61,626.60 L1632.68,625.60 L1632.76,624.60 L1632.84,623.60 L1632.92,622.60 L1633.00,621.60 L1633.09,620.60 L1633.19,619.60 L1633.29,618.60 L1633.39,617.60 L1633.50,616.60 L1633.61,615.60 L1633.73,614.60 L1633.85,613.60 L1633.98,612.60 L1634.12,611.60 L1634.26,610.60 L1634.40,609.60 L1634.55,608.60 L1634.71,607.60 L1634.87,606.60 L1635.04,605.60 L1635.21,604.60 L1635.39,603.60 L1635.58,602.60 L1635.77,601.60 L1635.97,600.60 L1636.17,599.60 L1636.38,598.60 L1636.60,597.60 L1636.83,596.60 L1637.06,595.60 L1637.30,594.60 L1637.54,593.60 L1637.79,592.60 L1638.05,591.60 L1638.32,590.60 L1638.59,589.60 L1638.87,588.60 L1639.15,587.60 L1639.44,586.60 L1639.74,585.60 L1640.04,584.60 L1640.36,583.60 L1640.67,582.60 L1641.00,581.60 L1641.33,580.60 L1641.67,579.60 L1642.01,578.60 L1642.36,577.60 L1642.71,576.60 L1643.08,575.60 L1643.44,574.60 L1643.82,573.60 L1644.20,572.60 L1644.58,571.60 L1644.97,570.60 L1645.37,569.60 L1645.77,568.60 L1646.18,567.60 L1646.59,566.60 L1647.01,565.60 L1647.44,564.60 L1647.87,563.60 L1648.30,562.60 L1648.74,561.60 L1649.19,560.60 L1649.64,559.60 L1650.09,558.60 L1650.55,557.60 L1651.02,556.60 L1651.49,555.60 L1651.96,554.60 L1652.44,553.60 L1652.93,552.60 L1653.42,551.60 L1653.91,550.60 L1654.41,549.60 L1654.92,548.60 L1655.43,547.60 L1655.95,546.60 L1656.47,545.60 L1657.00,544.60 L1657.53,543.60 L1658.07,542.60 L1658.61,541.60 L1659.16,540.60 L1659.72,539.60 L1660.28,538.60 L1660.85,537.60 L1661.42,536.60 L1662.00,535.60 L1662.59,534.60 L1663.18,533.60 L1663.78,532.60 L1664.38,531.60 L1664.99,530.60 L1665.61,529.60 L1666.24,528.60 L1666.87,527.60 L1667.50,526.60 L1668.15,525.60 L1668.80,524.60 L1669.45,523.60 L1670.11,522.60 L1670.78,521.60 L1671.46,520.60 L1672.14,519.60 L1672.82,518.60 L1673.51,517.60 L1674.21,516.60 L1674.91,515.60 L1675.62,514.60 L1676.33,513.60 L1677.04,512.60 L1677.76,511.60 L1678.48,510.60 L1679.21,509.60 L1679.94,508.60 L1680.67,507.60 L1681.40,506.60 L1682.13,505.60 L1682.87,504.60 L1683.60,503.60 L1684.34,502.60 L1685.07,501.60 L1685.80,500.60 L1686.53,499.60 L1687.25,498.60 L1687.98,497.60 L1688.69,496.60 L1689.41,495.60 L1690.11,494.60 L1690.82,493.60 L1691.51,492.60 L1692.19,491.60 L1692.87,490.60 L1693.54,489.60 L1694.19,488.60 L1694.84,487.60 L1695.47,486.60 L1696.09,485.60 L1696.69,484.60 L1697.29,483.60 L1697.86,482.60 L1698.42,481.60 L1698.96,480.60 L1699.49,479.60 L1699.99,478.60 L1700.48,477.60 L1700.95,476.60 L1701.39,475.60 L1701.81,474.60 L1702.22,473.60 L1702.60,472.60 L1702.95,471.60 L1703.28,470.60 L1703.59,469.60 L1703.87,468.60 L1704.13,467.60 L1704.36,466.60 L1704.56,465.60 L1704.74,464.60 L1704.89,463.60 L1705.01,462.60 L1705.11,461.60 L1705.18,460.60 L1705.21,459.60 L1705.23,458.60 L1705.21,457.60 L1705.17,456.60 L1705.09,455.60 L1704.99,454.60 L1704.87,453.60 L1704.71,452.60 L1704.53,451.60 L1704.32,450.60 L1704.09,449.60 L1703.83,448.60 L1703.54,447.60 L1703.23,446.60 L1702.90,445.60 L1702.54,444.60 L1702.16,443.60 L1701.76,442.60 L1701.34,441.60 L1700.90,440.60 L1700.44,439.60 L1699.96,438.60 L1699.47,437.60 L1698.96,436.60 L1698.43,435.60 L1697.89,434.60 L1697.34,433.60 L1696.78,432.60 L1696.21,431.60 L1695.63,430.60 L1695.05,429.60 L1694.46,428.60 L1693.86,427.60 L1693.26,426.60 L1692.67,425.60 L1692.07,424.60 L1691.47,423.60 L1690.88,422.60 L1690.29,421.60 L1689.70,420.60 L1689.13,419.60 L1688.56,418.60 L1688.00,417.60 L1687.45,416.60 L1686.92,415.60 L1686.40,414.60 L1685.90,413.60 L1685.41,412.60 L1684.94,411.60 L1684.49,410.60 L1684.06,409.60 L1683.65,408.60 L1683.26,407.60 L1682.90,406.60 L1682.56,405.60 L1682.24,404.60 L1681.95,403.60 L1681.69,402.60 L1681.45,401.60 L1681.24,400.60 L1681.06,399.60 L1680.91,398.60 L1680.78,397.60 L1680.69,396.60 L1680.62,395.60 L1680.58,394.60 L1680.57,393.60 L1680.59,392.60 L1680.64,391.60 L1680.71,390.60 L1680.82,389.60 L1680.95,388.60 L1681.11,387.60 L1681.29,386.60 L1681.50,385.60 L1681.74,384.60 L1682.00,383.60 L1682.28,382.60 L1682.59,381.60 L1682.91,380.60 L1683.26,379.60 L1683.63,378.60 L1684.01,377.60 L1684.41,376.60 L1684.83,375.60 L1685.26,374.60 L1685.70,373.60 L1686.16,372.60 L1686.62,371.60 L1687.09,370.60 L1687.57,369.60 L1688.06,368.60 L1688.55,367.60 L1689.04,366.60 L1689.53,365.60 L1690.02,364.60 L1690.51,363.60 L1691.00,362.60 L1691.48,361.60 L1691.95,360.60 L1692.42,359.60 L1692.87,358.60 L1693.32,357.60 L1693.75,356.60 L1694.17,355.60 L1694.57,354.60 L1694.96,353.60 L1695.33,352.60 L1695.68,351.60 L1696.00,350.60 L1696.31,349.60 L1696.60,348.60 L1696.86,347.60 L1697.10,346.60 L1697.32,345.60 L1697.51,344.60 L1697.67,343.60 L1697.81,342.60 L1697.92,341.60 L1698.00,340.60 L1698.06,339.60 L1698.08,338.60 L1698.08,337.60 L1698.05,336.60 L1697.99,335.60 L1697.90,334.60 L1697.78,333.60 L1697.63,332.60 L1697.45,331.60 L1697.24,330.60 L1697.01,329.60 L1696.74,328.60 L1696.45,327.60 L1696.13,326.60 L1695.79,325.60 L1695.41,324.60 L1695.01,323.60 L1694.59,322.60 L1694.14,321.60 L1693.66,320.60 L1693.17,319.60 L1692.65,318.60 L1692.10,317.60 L1691.54,316.60 L1690.95,315.60 L1690.35,314.60 L1689.73,313.60 L1689.08,312.60 L1688.43,311.60 L1687.75,310.60 L1687.06,309.60 L1686.35,308.60 L1685.63,307.60 L1684.90,306.60 L1684.16,305.60 L1683.40,304.60 L1682.64,303.60 L1681.86,302.60 L1681.08,301.60 L1680.29,300.60 L1679.49,299.60 L1678.69,298.60 L1677.88,297.60 L1677.07,296.60 L1676.25,295.60 L1675.43,294.60 L1674.61,293.60 L1673.79,292.60 L1672.96,291.60 L1672.14,290.60 L1671.32,289.60 L1670.50,288.60 L1669.68,287.60 L1668.86,286.60 L1668.05,285.60 L1667.23,284.60 L1666.43,283.60 L1665.63,282.60 L1664.83,281.60 L1664.04,280.60 L1663.26,279.60 L1662.48,278.60 L1661.71,277.60 L1660.94,276.60 L1660.19,275.60 L1659.44,274.60 L1658.70,273.60 L1657.97,272.60 L1657.25,271.60 L1656.54,270.60 L1655.83,269.60 L1655.14,268.60 L1654.46,267.60 L1653.78,266.60 L1653.12,265.60 L1652.47,264.60 L1651.83,263.60 L1651.20,262.60 L1650.58,261.60 L1649.98,260.60 L1649.38,259.60 L1648.80,258.60 L1648.22,257.60 L1647.66,256.60 L1647.11,255.60 L1646.57,254.60 L1646.05,253.60 L1645.53,252.60 L1645.03,251.60 L1644.54,250.60 L1644.06,249.60 L1643.59,248.60 L1643.14,247.60 L1642.69,246.60 L1642.26,245.60 L1641.84,244.60 L1641.43,243.60 L1641.03,242.60 L1640.65,241.60 L1640.27,240.60 L1639.91,239.60 L1639.55,238.60 L1639.21,237.60 L1638.88,236.60 L1638.55,235.60 L1638.24,234.60 L1637.94,233.60 L1637.65,232.60 L1637.37,231.60 L1637.10,230.60 L1636.84,229.60 L1636.59,228.60 L1636.34,227.60 L1636.11,226.60 L1635.88,225.60 L1635.67,224.60 L1635.46,223.60 L1635.26,222.60 L1635.07,221.60 L1634.88,220.60 L1634.70,219.60 L1634.54,218.60 L1634.37,217.60 L1634.22,216.60 L1634.07,215.60 L1633.93,214.60 L1633.79,213.60 L1633.67,212.60 L1633.54,211.60 L1633.43,210.60 L1633.31,209.60 L1633.21,208.60 L1633.11,207.60 L1633.01,206.60 L1632.92,205.60 L1632.83,204.60 L1632.75,203.60 L1632.67,202.60 L1632.60,201.60 L1632.53,200.60 L1632.46,199.60 L1632.40,198.60 L1632.34,197.60 L1632.29,196.60 L1632.24,195.60 L1632.19,194.60 L1632.14,193.60 L1632.10,192.60 L1632.06,191.60 L1632.02,190.60 L1631.98,189.60 L1631.95,188.60 L1631.92,187.60 L1631.89,186.60 L1631.86,185.60 L1631.83,184.60 L1631.81,183.60 L1631.78,182.60 L1631.76,181.60 L1631.74,180.60 L1631.73,179.60 L1631.71,178.60 L1631.69,177.60 L1631.68,176.60 L1631.66,175.60 L1631.50,174.60Z" fill="#000"/><path d="M1862.00,113.10 L1861.76,114.10 L1861.74,115.10 L1861.71,116.10 L1861.69,117.10 L1861.66,118.10 L1861.63,119.10 L1861.60,120.10 L1861.57,121.10 L1861.54,122.10 L1861.50,123.10 L1861.46,124.10 L1861.41,125.10 L1861.36,126.10 L1861.31,127.10 L1861.26,128.10 L1861.20,129.10 L1861.14,130.10 L1861.07,131.10 L1861.00,132.10 L1860.93,133.10 L1860.85,134.10 L1860.76,135.10 L1860.67,136.10 L1860.58,137.10 L1860.47,138.10 L1860.37,139.10 L1860.25,140.10 L1860.13,141.10 L1860.00,142.10 L1859.86,143.10 L1859.72,144.10 L1859.56,145.10 L1859.40,146.10 L1859.23,147.10 L1859.05,148.10 L1858.86,149.10 L1858.66,150.10 L1858.44,151.10 L1858.22,152.10 L1857.99,153.10 L1857.74,154.10 L1857.48,155.10 L1857.21,156.10 L1856.93,157.10 L1856.63,158.10 L1856.32,159.10 L1856.00,160.10 L1855.66,161.10 L1855.30,162.10 L1854.93,163.10 L1854.54,164.10 L1854.14,165.10 L1853.72,166.10 L1853.28,167.10 L1852.83,168.10 L1852.36,169.10 L1851.87,170.10 L1851.36,171.10 L1850.83,172.10 L1850.28,173.10 L1849.72,174.10 L1849.13,175.10 L1848.52,176.10 L1847.90,177.10 L1847.25,178.10 L1846.59,179.10 L1845.90,180.10 L1845.19,181.10 L1844.46,182.10 L1843.71,183.10 L1842.94,184.10 L1842.15,185.10 L1841.34,186.10 L1840.51,187.10 L1839.66,188.10 L1838.78,189.10 L1837.89,190.10 L1836.98,191.10 L1836.04,192.10 L1835.09,193.10 L1834.12,194.10 L1833.13,195.10 L1832.12,196.10 L1831.10,197.10 L1830.06,198.10 L1829.00,199.10 L1827.92,200.10 L1826.83,201.10 L1825.73,202.10 L1824.61,203.10 L1823.48,204.10 L1822.34,205.10 L1821.18,206.10 L1820.02,207.10 L1818.84,208.10 L1817.66,209.10 L1816.47,210.10 L1815.27,211.10 L1814.07,212.10 L1812.86,213.10 L1811.65,214.10 L1810.43,215.10 L1809.22,216.10 L1808.00,217.10 L1806.78,218.10 L1805.57,219.10 L1804.36,220.10 L1803.16,221.10 L1801.96,222.10 L1800.77,223.10 L1799.58,224.10 L1798.41,225.10 L1797.24,226.10 L1796.09,227.10 L1794.95,228.10 L1793.82,229.10 L1792.71,230.10 L1791.62,231.10 L1790.54,232.10 L1789.48,233.10 L1788.45,234.10 L1787.43,235.10 L1786.43,236.10 L1785.46,237.10 L1784.51,238.10 L1783.58,239.10 L1782.68,240.10 L1781.81,241.10 L1780.96,242.10 L1780.14,243.10 L1779.35,244.10 L1778.59,245.10 L1777.85,246.10 L1777.15,247.10 L1776.48,248.10 L1775.84,249.10 L1775.23,250.10 L1774.66,251.10 L1774.11,252.10 L1773.60,253.10 L1773.12,254.10 L1772.68,255.10 L1772.27,256.10 L1771.89,257.10 L1771.54,258.10 L1771.23,259.10 L1770.95,260.10 L1770.70,261.10 L1770.49,262.10 L1770.31,263.10 L1770.16,264.10 L1770.05,265.10 L1769.96,266.10 L1769.91,267.10 L1769.89,268.10 L1769.89,269.10 L1769.93,270.10 L1770.00,271.10 L1770.09,272.10 L1770.22,273.10 L1770.37,274.10 L1770.54,275.10 L1770.74,276.10 L1770.97,277.10 L1771.22,278.10 L1771.50,279.10 L1771.80,280.10 L1772.12,281.10 L1772.46,282.10 L1772.82,283.10 L1773.20,284.10 L1773.59,285.10 L1774.01,286.10 L1774.44,287.10 L1774.88,288.10 L1775.34,289.10 L1775.82,290.10 L1776.30,291.10 L1776.80,292.10 L1777.31,293.10 L1777.83,294.10 L1778.35,295.10 L1778.89,296.10 L1779.43,297.10 L1779.97,298.10 L1780.52,299.10 L1781.08,300.10 L1781.64,301.10 L1782.20,302.10 L1782.76,303.10 L1783.32,304.10 L1783.88,305.10 L1784.44,306.10 L1785.00,307.10 L1785.55,308.10 L1786.11,309.10 L1786.66,310.10 L1787.20,311.10 L1787.74,312.10 L1788.27,313.10 L1788.79,314.10 L1789.31,315.10 L1789.82,316.10 L1790.33,317.10 L1790.82,318.10 L1791.30,319.10 L1791.78,320.10 L1792.25,321.10 L1792.70,322.10 L1793.15,323.10 L1793.58,324.10 L1794.00,325.10 L1794.41,326.10 L1794.81,327.10 L1795.20,328.10 L1795.58,329.10 L1795.95,330.10 L1796.30,331.10 L1796.64,332.10 L1796.97,333.10 L1797.29,334.10 L1797.60,335.10 L1797.90,336.10 L1798.18,337.10 L1798.46,338.10 L1798.72,339.10 L1798.98,340.10 L1799.22,341.10 L1799.46,342.10 L1799.68,343.10 L1799.90,344.10 L1800.10,345.10 L1800.30,346.10 L1800.49,347.10 L1800.68,348.10 L1800.85,349.10 L1801.03,350.10 L1801.19,351.10 L1801.35,352.10 L1801.51,353.10 L1801.66,354.10 L1801.81,355.10 L1801.95,356.10 L1802.09,357.10 L1802.24,358.10 L1802.38,359.10 L1802.52,360.10 L1802.66,361.10 L1802.80,362.10 L1802.94,363.10 L1803.09,364.10 L1803.24,365.10 L1803.39,366.10 L1803.55,367.10 L1803.71,368.10 L1803.88,369.10 L1804.05,370.10 L1804.23,371.10 L1804.42,372.10 L1804.61,373.10 L1804.81,374.10 L1805.03,375.10 L1805.25,376.10 L1805.48,377.10 L1805.72,378.10 L1805.97,379.10 L1806.24,380.10 L1806.51,381.10 L1806.80,382.10 L1807.10,383.10 L1807.41,384.10 L1807.73,385.10 L1808.07,386.10 L1808.42,387.10 L1808.79,388.10 L1809.17,389.10 L1809.56,390.10 L1809.96,391.10 L1810.38,392.10 L1810.82,393.10 L1811.27,394.10 L1811.73,395.10 L1812.20,396.10 L1812.69,397.10 L1813.19,398.10 L1813.71,399.10 L1814.24,400.10 L1814.78,401.10 L1815.34,402.10 L1815.90,403.10 L1816.48,404.10 L1817.07,405.10 L1817.67,406.10 L1818.29,407.10 L1818.91,408.10 L1819.54,409.10 L1820.18,410.10 L1820.83,411.10 L1821.49,412.10 L1822.16,413.10 L1822.84,414.10 L1823.52,415.10 L1824.20,416.10 L1824.90,417.10 L1825.60,418.10 L1826.30,419.10 L1827.00,420.10 L1827.71,421.10 L1828.42,422.10 L1829.14,423.10 L1829.85,424.10 L1830.57,425.10 L1831.28,426.10 L1832.00,427.10 L1832.71,428.10 L1833.42,429.10 L1834.13,430.10 L1834.84,431.10 L1835.54,432.10 L1836.24,433.10 L1836.93,434.10 L1837.62,435.10 L1838.30,436.10 L1838.97,437.10 L1839.64,438.10 L1840.30,439.10 L1840.96,440.10 L1841.60,441.10 L1842.24,442.10 L1842.86,443.10 L1843.48,444.10 L1844.09,445.10 L1844.69,446.10 L1845.28,447.10 L1845.85,448.10 L1846.42,449.10 L1846.97,450.10 L1847.52,451.10 L1848.05,452.10 L1848.57,453.10 L1849.08,454.10 L1849.58,455.10 L1850.06,456.10 L1850.53,457.10 L1851.00,458.10 L1851.44,459.10 L1851.88,460.10 L1852.30,461.10 L1852.72,462.10 L1853.12,463.10 L1853.50,464.10 L1853.88,465.10 L1854.24,466.10 L1854.60,467.10 L1854.94,468.10 L1855.26,469.10 L1855.58,470.10 L1855.89,471.10 L1856.18,472.10 L1856.47,473.10 L1856.74,474.10 L1857.01,475.10 L1857.26,476.10 L1857.50,477.10 L1857.74,478.10 L1857.96,479.10 L1858.17,480.10 L1858.38,481.10 L1858.58,482.10 L1858.76,483.10 L1858.94,484.10 L1859.12,485.10 L1859.28,486.10 L1859.43,487.10 L1859.58,488.10 L1859.72,489.10 L1859.86,490.10 L1859.99,491.10 L1860.11,492.10 L1860.22,493.10 L1860.33,494.10 L1860.44,495.10 L1860.53,496.10 L1860.63,497.10 L1860.72,498.10 L1860.80,499.10 L1860.88,500.10 L1860.95,501.10 L1861.02,502.10 L1861.09,503.10 L1861.15,504.10 L1861.21,505.10 L1861.26,506.10 L1861.31,507.10 L1861.36,508.10 L1861.41,509.10 L1861.45,510.10 L1861.49,511.10 L1861.52,512.10 L1861.56,513.10 L1861.59,514.10 L1861.62,515.10 L1861.65,516.10 L1861.68,517.10 L1861.70,518.10 L1861.72,519.10 L1861.75,520.10 L1861.77,521.10 L1861.78,522.10 L1862.00,522.70 L1862.00,522.70 L1862.22,522.10 L1862.23,521.10 L1862.25,520.10 L1862.28,519.10 L1862.30,518.10 L1862.32,517.10 L1862.35,516.10 L1862.38,515.10 L1862.41,514.10 L1862.44,513.10 L1862.48,512.10 L1862.51,511.10 L1862.55,510.10 L1862.59,509.10 L1862.64,508.10 L1862.69,507.10 L1862.74,506.10 L1862.79,505.10 L1862.85,504.10 L1862.91,503.10 L1862.98,502.10 L1863.05,501.10 L1863.12,500.10 L1863.20,499.10 L1863.28,498.10 L1863.37,497.10 L1863.47,496.10 L1863.56,495.10 L1863.67,494.10 L1863.78,493.10 L1863.89,492.10 L1864.01,491.10 L1864.14,490.10 L1864.28,489.10 L1864.42,488.10 L1864.57,487.10 L1864.72,486.10 L1864.88,485.10 L1865.06,484.10 L1865.24,483.10 L1865.42,482.10 L1865.62,481.10 L1865.83,480.10 L1866.04,479.10 L1866.26,478.10 L1866.50,477.10 L1866.74,476.10 L1866.99,475.10 L1867.26,474.10 L1867.53,473.10 L1867.82,472.10 L1868.11,471.10 L1868.42,470.10 L1868.74,469.10 L1869.06,468.10 L1869.40,467.10 L1869.76,466.10 L1870.12,465.10 L1870.50,464.10 L1870.88,463.10 L1871.28,462.10 L1871.70,461.10 L1872.12,460.10 L1872.56,459.10 L1873.00,458.10 L1873.47,457.10 L1873.94,456.10 L1874.42,455.10 L1874.92,454.10 L1875.43,453.10 L1875.95,452.10 L1876.48,451.10 L1877.03,450.10 L1877.58,449.10 L1878.15,448.10 L1878.72,447.10 L1879.31,446.10 L1879.91,445.10 L1880.52,444.10 L1881.14,443.10 L1881.76,442.10 L1882.40,441.10 L1883.04,440.10 L1883.70,439.10 L1884.36,438.10 L1885.03,437.10 L1885.70,436.10 L1886.38,435.10 L1887.07,434.10 L1887.76,433.10 L1888.46,432.10 L1889.16,431.10 L1889.87,430.10 L1890.58,429.10 L1891.29,428.10 L1892.00,427.10 L1892.72,426.10 L1893.43,425.10 L1894.15,424.10 L1894.86,423.10 L1895.58,422.10 L1896.29,421.10 L1897.00,420.10 L1897.70,419.10 L1898.40,418.10 L1899.10,417.10 L1899.80,416.10 L1900.48,415.10 L1901.16,414.10 L1901.84,413.10 L1902.51,412.10 L1903.17,411.10 L1903.82,410.10 L1904.46,409.10 L1905.09,408.10 L1905.71,407.10 L1906.33,406.10 L1906.93,405.10 L1907.52,404.10 L1908.10,403.10 L1908.66,402.10 L1909.22,401.10 L1909.76,400.10 L1910.29,399.10 L1910.81,398.10 L1911.31,397.10 L1911.80,396.10 L1912.27,395.10 L1912.73,394.10 L1913.18,393.10 L1913.62,392.10 L1914.04,391.10 L1914.44,390.10 L1914.83,389.10 L1915.21,388.10 L1915.58,387.10 L1915.93,386.10 L1916.27,385.10 L1916.59,384.10 L1916.90,383.10 L1917.20,382.10 L1917.49,381.10 L1917.76,380.10 L1918.03,379.10 L1918.28,378.10 L1918.52,377.10 L1918.75,376.10 L1918.97,375.10 L1919.19,374.10 L1919.39,373.10 L1919.58,372.10 L1919.77,371.10 L1919.95,370.10 L1920.12,369.10 L1920.29,368.10 L1920.45,367.10 L1920.61,366.10 L1920.76,365.10 L1920.91,364.10 L1921.06,363.10 L1921.20,362.10 L1921.34,361.10 L1921.48,360.10 L1921.62,359.10 L1921.76,358.10 L1921.91,357.10 L1922.05,356.10 L1922.19,355.10 L1922.34,354.10 L1922.49,353.10 L1922.65,352.10 L1922.81,351.10 L1922.97,350.10 L1923.15,349.10 L1923.32,348.10 L1923.51,347.10 L1923.70,346.10 L1923.90,345.10 L1924.10,344.10 L1924.32,343.10 L1924.54,342.10 L1924.78,341.10 L1925.02,340.10 L1925.28,339.10 L1925.54,338.10 L1925.82,337.10 L1926.10,336.10 L1926.40,335.10 L1926.71,334.10 L1927.03,333.10 L1927.36,332.10 L1927.70,331.10 L1928.05,330.10 L1928.42,329.10 L1928.80,328.10 L1929.19,327.10 L1929.59,326.10 L1930.00,325.10 L1930.42,324.10 L1930.85,323.10 L1931.30,322.10 L1931.75,321.10 L1932.22,320.10 L1932.70,319.10 L1933.18,318.10 L1933.67,317.10 L1934.18,316.10 L1934.69,315.10 L1935.21,314.10 L1935.73,313.10 L1936.26,312.10 L1936.80,311.10 L1937.34,310.10 L1937.89,309.10 L1938.45,308.10 L1939.00,307.10 L1939.56,306.10 L1940.12,305.10 L1940.68,304.10 L1941.24,303.10 L1941.80,302.10 L1942.36,301.10 L1942.92,300.10 L1943.48,299.10 L1944.03,298.10 L1944.57,297.10 L1945.11,296.10 L1945.65,295.10 L1946.17,294.10 L1946.69,293.10 L1947.20,292.10 L1947.70,291.10 L1948.18,290.10 L1948.66,289.10 L1949.12,288.10 L1949.56,287.10 L1949.99,286.10 L1950.41,285.10 L1950.80,284.10 L1951.18,283.10 L1951.54,282.10 L1951.88,281.10 L1952.20,280.10 L1952.50,279.10 L1952.78,278.10 L1953.03,277.10 L1953.26,276.10 L1953.46,275.10 L1953.63,274.10 L1953.78,273.10 L1953.91,272.10 L1954.00,271.10 L1954.07,270.10 L1954.11,269.10 L1954.11,268.10 L1954.09,267.10 L1954.04,266.10 L1953.95,265.10 L1953.84,264.10 L1953.69,263.10 L1953.51,262.10 L1953.30,261.10 L1953.05,260.10 L1952.77,259.10 L1952.46,258.10 L1952.11,257.10 L1951.73,256.10 L1951.32,255.10 L1950.88,254.10 L1950.40,253.10 L1949.89,252.10 L1949.34,251.10 L1948.77,250.10 L1948.16,249.10 L1947.52,248.10 L1946.85,247.10 L1946.15,246.10 L1945.41,245.10 L1944.65,244.10 L1943.86,243.10 L1943.04,242.10 L1942.19,241.10 L1941.32,240.10 L1940.42,239.10 L1939.49,238.10 L1938.54,237.10 L1937.57,236.10 L1936.57,235.10 L1935.55,234.10 L1934.52,233.10 L1933.46,232.10 L1932.38,231.10 L1931.29,230.10 L1930.18,229.10 L1929.05,228.10 L1927.91,227.10 L1926.76,226.10 L1925.59,225.10 L1924.42,224.10 L1923.23,223.10 L1922.04,222.10 L1920.84,221.10 L1919.64,220.10 L1918.43,219.10 L1917.22,218.10 L1916.00,217.10 L1914.78,216.10 L1913.57,215.10 L1912.35,214.10 L1911.14,213.10 L1909.93,212.10 L1908.73,211.10 L1907.53,210.10 L1906.34,209.10 L1905.16,208.10 L1903.98,207.10 L1902.82,206.10 L1901.66,205.10 L1900.52,204.10 L1899.39,203.10 L1898.27,202.10 L1897.17,201.10 L1896.08,200.10 L1895.00,199.10 L1893.94,198.10 L1892.90,197.10 L1891.88,196.10 L1890.87,195.10 L1889.88,194.10 L1888.91,193.10 L1887.96,192.10 L1887.02,191.10 L1886.11,190.10 L1885.22,189.10 L1884.34,188.10 L1883.49,187.10 L1882.66,186.10 L1881.85,185.10 L1881.06,184.10 L1880.29,183.10 L1879.54,182.10 L1878.81,181.10 L1878.10,180.10 L1877.41,179.10 L1876.75,178.10 L1876.10,177.10 L1875.48,176.10 L1874.87,175.10 L1874.28,174.10 L1873.72,173.10 L1873.17,172.10 L1872.64,171.10 L1872.13,170.10 L1871.64,169.10 L1871.17,168.10 L1870.72,167.10 L1870.28,166.10 L1869.86,165.10 L1869.46,164.10 L1869.07,163.10 L1868.70,162.10 L1868.34,161.10 L1868.00,160.10 L1867.68,159.10 L1867.37,158.10 L1867.07,157.10 L1866.79,156.10 L1866.52,155.10 L1866.26,154.10 L1866.01,153.10 L1865.78,152.10 L1865.56,151.10 L1865.34,150.10 L1865.14,149.10 L1864.95,148.10 L1864.77,147.10 L1864.60,146.10 L1864.44,145.10 L1864.28,144.10 L1864.14,143.10 L1864.00,142.10 L1863.87,141.10 L1863.75,140.10 L1863.63,139.10 L1863.53,138.10 L1863.42,137.10 L1863.33,136.10 L1863.24,135.10 L1863.15,134.10 L1863.07,133.10 L1863.00,132.10 L1862.93,131.10 L1862.86,130.10 L1862.80,129.10 L1862.74,128.10 L1862.69,127.10 L1862.64,126.10 L1862.59,125.10 L1862.54,124.10 L1862.50,123.10 L1862.46,122.10 L1862.43,121.10 L1862.40,120.10 L1862.37,119.10 L1862.34,118.10 L1862.31,117.10 L1862.29,116.10 L1862.26,115.10 L1862.24,114.10 L1862.00,113.10Z" fill="#000"/><line x1="1517.2" y1="408.8" x2="1745.8" y2="408.8" stroke="#000" stroke-width="3.6" stroke-linecap="round"/><line x1="1747.7" y1="306.7" x2="1976.3" y2="306.7" stroke="#000" stroke-width="3.6" stroke-linecap="round"/><line x1="1611.9" y1="291" x2="1651.1" y2="291" stroke="#b8b8b8" stroke-width="2.6"/><line x1="1611.9" y1="329" x2="1651.1" y2="329" stroke="#b8b8b8" stroke-width="2.6"/><line x1="1611.9" y1="336" x2="1651.1" y2="336" stroke="#fff" stroke-width="2.6"/><line x1="1611.9" y1="344.7" x2="1651.1" y2="344.7" stroke="#fff" stroke-width="2.6"/><line x1="1611.9" y1="363.9" x2="1651.1" y2="363.9" stroke="#fff" stroke-width="2.6"/><line x1="1611.9" y1="435.3" x2="1651.1" y2="435.3" stroke="#fff" stroke-width="2.6"/><line x1="1611.9" y1="448.5" x2="1651.1" y2="448.5" stroke="#b8b8b8" stroke-width="2.6"/><line x1="1611.9" y1="459" x2="1651.1" y2="459" stroke="#fff" stroke-width="2.6"/><line x1="1611.9" y1="469.8" x2="1651.1" y2="469.8" stroke="#b8b8b8" stroke-width="2.6"/><line x1="1611.9" y1="482.3" x2="1651.1" y2="482.3" stroke="#fff" stroke-width="2.6"/><line x1="1611.9" y1="539.6" x2="1651.1" y2="539.6" stroke="#fff" stroke-width="2.6"/><line x1="1842.4" y1="228.8" x2="1881.6" y2="228.8" stroke="#b8b8b8" stroke-width="2.6"/><line x1="1842.4" y1="249.7" x2="1881.6" y2="249.7" stroke="#fff" stroke-width="2.6"/><line x1="1842.4" y1="267.8" x2="1881.6" y2="267.8" stroke="#fff" stroke-width="4.0"/><line x1="1842.4" y1="292.4" x2="1881.6" y2="292.4" stroke="#fff" stroke-width="2.6"/><line x1="1842.4" y1="314.2" x2="1881.6" y2="314.2" stroke="#fff" stroke-width="2.6"/><line x1="1842.4" y1="335.2" x2="1881.6" y2="335.2" stroke="#fff" stroke-width="2.6"/><line x1="1842.4" y1="376.5" x2="1881.6" y2="376.5" stroke="#b8b8b8" stroke-width="2.6"/><line x1="1842.4" y1="385.8" x2="1881.6" y2="385.8" stroke="#fff" stroke-width="2.6"/><line x1="1842.4" y1="407" x2="1881.6" y2="407" stroke="#fff" stroke-width="2.6"/><rect x="1497.6" y="91.5" width="498.4" height="586.0" fill="none" stroke="#222" stroke-width="2.3" stroke-linejoin="round"/><line x1="1481.6" y1="659.00" x2="1497.6" y2="659.00" stroke="#222" stroke-width="2.2"/><text x="0" y="0" transform="translate(1461.3,660.00) rotate(-90)" text-anchor="middle" font-size="25" fill="#111">0.02</text><line x1="1481.6" y1="463.94" x2="1497.6" y2="463.94" stroke="#222" stroke-width="2.2"/><text x="0" y="0" transform="translate(1461.3,464.94) rotate(-90)" text-anchor="middle" font-size="25" fill="#111">0.03</text><line x1="1481.6" y1="325.55" x2="1497.6" y2="325.55" stroke="#222" stroke-width="2.2"/><text x="0" y="0" transform="translate(1461.3,326.55) rotate(-90)" text-anchor="middle" font-size="25" fill="#111">0.04</text><line x1="1481.6" y1="218.20" x2="1497.6" y2="218.20" stroke="#222" stroke-width="2.2"/><text x="0" y="0" transform="translate(1461.3,219.20) rotate(-90)" text-anchor="middle" font-size="25" fill="#111">0.05</text><line x1="1481.6" y1="130.49" x2="1497.6" y2="130.49" stroke="#222" stroke-width="2.2"/><text x="0" y="0" transform="translate(1461.3,131.49) rotate(-90)" text-anchor="middle" font-size="25" fill="#111">0.06</text><line x1="1631.5" y1="677.5" x2="1631.5" y2="693.0" stroke="#222" stroke-width="2.2"/><line x1="1862.0" y1="677.5" x2="1862.0" y2="693.0" stroke="#222" stroke-width="2.2"/><text x="1612.4" y="731.0" text-anchor="middle" font-size="33" font-weight="bold" fill="#111">Pre-Exercise</text><text x="1870.0" y="731.0" text-anchor="middle" font-size="33" font-weight="bold" fill="#111">Post-Exercise</text><text x="1754.3" y="46.0" text-anchor="middle" font-size="38" font-weight="bold" fill="#111">Ci4-DC/C4-DC</text><text x="0" y="0" transform="translate(1415.0,565.9) rotate(-90)" font-size="38" font-weight="bold" fill="#111">Ci4-DC/C4-DC, µM</text><line x1="1668.3" y1="141.5" x2="1797.8" y2="141.5" stroke="#b0b0b0" stroke-width="3" stroke-linecap="round"/><text x="1731.7" y="133.9" text-anchor="middle" font-size="26" font-weight="bold" letter-spacing="3.1" fill="#111">***</text></g>
<g><line x1="127.1" y1="1243.4" x2="625.5" y2="1243.4" stroke="#606060" stroke-width="3" stroke-dasharray="3,9.85"/><path d="M261.20,976.30 L260.95,977.30 L260.93,978.30 L260.91,979.30 L260.88,980.30 L260.86,981.30 L260.83,982.30 L260.80,983.30 L260.77,984.30 L260.74,985.30 L260.71,986.30 L260.67,987.30 L260.64,988.30 L260.60,989.30 L260.55,990.30 L260.51,991.30 L260.46,992.30 L260.41,993.30 L260.36,994.30 L260.30,995.30 L260.24,996.30 L260.18,997.30 L260.12,998.30 L260.05,999.30 L259.97,1000.30 L259.90,1001.30 L259.82,1002.30 L259.73,1003.30 L259.65,1004.30 L259.55,1005.30 L259.46,1006.30 L259.36,1007.30 L259.25,1008.30 L259.14,1009.30 L259.03,1010.30 L258.91,1011.30 L258.78,1012.30 L258.65,1013.30 L258.52,1014.30 L258.38,1015.30 L258.23,1016.30 L258.08,1017.30 L257.93,1018.30 L257.76,1019.30 L257.60,1020.30 L257.42,1021.30 L257.24,1022.30 L257.06,1023.30 L256.87,1024.30 L256.67,1025.30 L256.47,1026.30 L256.26,1027.30 L256.04,1028.30 L255.82,1029.30 L255.60,1030.30 L255.36,1031.30 L255.13,1032.30 L254.88,1033.30 L254.63,1034.30 L254.37,1035.30 L254.11,1036.30 L253.84,1037.30 L253.57,1038.30 L253.29,1039.30 L253.01,1040.30 L252.71,1041.30 L252.42,1042.30 L252.12,1043.30 L251.81,1044.30 L251.50,1045.30 L251.18,1046.30 L250.86,1047.30 L250.54,1048.30 L250.21,1049.30 L249.87,1050.30 L249.53,1051.30 L249.19,1052.30 L248.84,1053.30 L248.49,1054.30 L248.13,1055.30 L247.77,1056.30 L247.41,1057.30 L247.05,1058.30 L246.68,1059.30 L246.30,1060.30 L245.92,1061.30 L245.54,1062.30 L245.16,1063.30 L244.77,1064.30 L244.39,1065.30 L243.99,1066.30 L243.60,1067.30 L243.20,1068.30 L242.80,1069.30 L242.39,1070.30 L241.98,1071.30 L241.57,1072.30 L241.16,1073.30 L240.74,1074.30 L240.32,1075.30 L239.89,1076.30 L239.47,1077.30 L239.03,1078.30 L238.60,1079.30 L238.16,1080.30 L237.71,1081.30 L237.26,1082.30 L236.81,1083.30 L236.35,1084.30 L235.89,1085.30 L235.42,1086.30 L234.94,1087.30 L234.46,1088.30 L233.98,1089.30 L233.48,1090.30 L232.99,1091.30 L232.48,1092.30 L231.97,1093.30 L231.44,1094.30 L230.92,1095.30 L230.38,1096.30 L229.83,1097.30 L229.28,1098.30 L228.72,1099.30 L228.15,1100.30 L227.56,1101.30 L226.97,1102.30 L226.37,1103.30 L225.76,1104.30 L225.14,1105.30 L224.51,1106.30 L223.87,1107.30 L223.22,1108.30 L222.56,1109.30 L221.88,1110.30 L221.20,1111.30 L220.51,1112.30 L219.80,1113.30 L219.08,1114.30 L218.36,1115.30 L217.62,1116.30 L216.87,1117.30 L216.11,1118.30 L215.34,1119.30 L214.56,1120.30 L213.77,1121.30 L212.97,1122.30 L212.17,1123.30 L211.35,1124.30 L210.52,1125.30 L209.69,1126.30 L208.85,1127.30 L208.00,1128.30 L207.14,1129.30 L206.28,1130.30 L205.41,1131.30 L204.54,1132.30 L203.66,1133.30 L202.77,1134.30 L201.89,1135.30 L201.00,1136.30 L200.10,1137.30 L199.21,1138.30 L198.32,1139.30 L197.42,1140.30 L196.53,1141.30 L195.64,1142.30 L194.75,1143.30 L193.86,1144.30 L192.98,1145.30 L192.10,1146.30 L191.22,1147.30 L190.36,1148.30 L189.50,1149.30 L188.65,1150.30 L187.80,1151.30 L186.97,1152.30 L186.15,1153.30 L185.33,1154.30 L184.53,1155.30 L183.75,1156.30 L182.98,1157.30 L182.22,1158.30 L181.47,1159.30 L180.75,1160.30 L180.04,1161.30 L179.35,1162.30 L178.67,1163.30 L178.02,1164.30 L177.39,1165.30 L176.77,1166.30 L176.18,1167.30 L175.61,1168.30 L175.07,1169.30 L174.55,1170.30 L174.05,1171.30 L173.58,1172.30 L173.13,1173.30 L172.71,1174.30 L172.31,1175.30 L171.95,1176.30 L171.61,1177.30 L171.30,1178.30 L171.02,1179.30 L170.76,1180.30 L170.54,1181.30 L170.35,1182.30 L170.18,1183.30 L170.05,1184.30 L169.95,1185.30 L169.88,1186.30 L169.85,1187.30 L169.84,1188.30 L169.87,1189.30 L169.93,1190.30 L170.02,1191.30 L170.14,1192.30 L170.30,1193.30 L170.48,1194.30 L170.70,1195.30 L170.96,1196.30 L171.24,1197.30 L171.56,1198.30 L171.90,1199.30 L172.28,1200.30 L172.69,1201.30 L173.14,1202.30 L173.61,1203.30 L174.11,1204.30 L174.64,1205.30 L175.20,1206.30 L175.79,1207.30 L176.41,1208.30 L177.05,1209.30 L177.72,1210.30 L178.42,1211.30 L179.14,1212.30 L179.88,1213.30 L180.65,1214.30 L181.44,1215.30 L182.25,1216.30 L183.08,1217.30 L183.94,1218.30 L184.81,1219.30 L185.69,1220.30 L186.60,1221.30 L187.52,1222.30 L188.45,1223.30 L189.39,1224.30 L190.35,1225.30 L191.32,1226.30 L192.30,1227.30 L193.28,1228.30 L194.27,1229.30 L195.27,1230.30 L196.27,1231.30 L197.27,1232.30 L198.28,1233.30 L199.28,1234.30 L200.29,1235.30 L201.29,1236.30 L202.29,1237.30 L203.29,1238.30 L204.28,1239.30 L205.26,1240.30 L206.24,1241.30 L207.21,1242.30 L208.16,1243.30 L209.11,1244.30 L210.04,1245.30 L210.97,1246.30 L211.87,1247.30 L212.77,1248.30 L213.64,1249.30 L214.50,1250.30 L215.35,1251.30 L216.18,1252.30 L216.98,1253.30 L217.77,1254.30 L218.54,1255.30 L219.29,1256.30 L220.02,1257.30 L220.73,1258.30 L221.42,1259.30 L222.09,1260.30 L222.73,1261.30 L223.36,1262.30 L223.96,1263.30 L224.54,1264.30 L225.10,1265.30 L225.64,1266.30 L226.16,1267.30 L226.65,1268.30 L227.12,1269.30 L227.58,1270.30 L228.01,1271.30 L228.42,1272.30 L228.81,1273.30 L229.18,1274.30 L229.54,1275.30 L229.87,1276.30 L230.19,1277.30 L230.49,1278.30 L230.77,1279.30 L231.03,1280.30 L231.28,1281.30 L231.52,1282.30 L231.73,1283.30 L231.94,1284.30 L232.13,1285.30 L232.31,1286.30 L232.48,1287.30 L232.63,1288.30 L232.78,1289.30 L232.91,1290.30 L233.04,1291.30 L233.15,1292.30 L233.26,1293.30 L233.37,1294.30 L233.46,1295.30 L233.55,1296.30 L233.64,1297.30 L233.72,1298.30 L233.79,1299.30 L233.87,1300.30 L233.94,1301.30 L234.01,1302.30 L234.08,1303.30 L234.15,1304.30 L234.21,1305.30 L234.28,1306.30 L234.35,1307.30 L234.42,1308.30 L234.50,1309.30 L234.57,1310.30 L234.65,1311.30 L234.73,1312.30 L234.82,1313.30 L234.90,1314.30 L235.00,1315.30 L235.10,1316.30 L235.20,1317.30 L235.31,1318.30 L235.43,1319.30 L235.55,1320.30 L235.67,1321.30 L235.81,1322.30 L235.95,1323.30 L236.09,1324.30 L236.25,1325.30 L236.41,1326.30 L236.58,1327.30 L236.75,1328.30 L236.93,1329.30 L237.12,1330.30 L237.32,1331.30 L237.52,1332.30 L237.73,1333.30 L237.95,1334.30 L238.18,1335.30 L238.41,1336.30 L238.65,1337.30 L238.90,1338.30 L239.15,1339.30 L239.41,1340.30 L239.67,1341.30 L239.95,1342.30 L240.22,1343.30 L240.51,1344.30 L240.80,1345.30 L241.09,1346.30 L241.39,1347.30 L241.70,1348.30 L242.00,1349.30 L242.32,1350.30 L242.64,1351.30 L242.96,1352.30 L243.28,1353.30 L243.61,1354.30 L243.94,1355.30 L244.27,1356.30 L244.61,1357.30 L244.94,1358.30 L245.28,1359.30 L245.62,1360.30 L245.96,1361.30 L246.31,1362.30 L246.65,1363.30 L246.99,1364.30 L247.33,1365.30 L247.67,1366.30 L248.01,1367.30 L248.35,1368.30 L248.69,1369.30 L249.02,1370.30 L249.35,1371.30 L249.68,1372.30 L250.01,1373.30 L250.34,1374.30 L250.66,1375.30 L250.98,1376.30 L251.29,1377.30 L251.60,1378.30 L251.91,1379.30 L252.21,1380.30 L252.50,1381.30 L252.80,1382.30 L253.08,1383.30 L253.37,1384.30 L253.64,1385.30 L253.92,1386.30 L254.18,1387.30 L254.44,1388.30 L254.70,1389.30 L254.95,1390.30 L255.19,1391.30 L255.43,1392.30 L255.66,1393.30 L255.89,1394.30 L256.11,1395.30 L256.32,1396.30 L256.53,1397.30 L256.73,1398.30 L256.93,1399.30 L257.12,1400.30 L257.30,1401.30 L257.48,1402.30 L257.65,1403.30 L257.82,1404.30 L257.98,1405.30 L258.14,1406.30 L258.29,1407.30 L258.43,1408.30 L258.57,1409.30 L258.70,1410.30 L258.83,1411.30 L258.96,1412.30 L259.07,1413.30 L259.19,1414.30 L259.30,1415.30 L259.40,1416.30 L259.50,1417.30 L259.59,1418.30 L259.68,1419.30 L259.77,1420.30 L259.85,1421.30 L259.93,1422.30 L260.01,1423.30 L260.08,1424.30 L260.15,1425.30 L260.21,1426.30 L260.27,1427.30 L260.33,1428.30 L260.38,1429.30 L260.44,1430.30 L260.48,1431.30 L260.53,1432.30 L260.57,1433.30 L260.62,1434.30 L260.65,1435.30 L260.69,1436.30 L260.73,1437.30 L260.76,1438.30 L260.79,1439.30 L260.82,1440.30 L260.85,1441.30 L260.87,1442.30 L260.89,1443.30 L260.92,1444.30 L260.94,1445.30 L261.20,1446.00 L261.20,1446.00 L261.46,1445.30 L261.48,1444.30 L261.51,1443.30 L261.53,1442.30 L261.55,1441.30 L261.58,1440.30 L261.61,1439.30 L261.64,1438.30 L261.67,1437.30 L261.71,1436.30 L261.75,1435.30 L261.78,1434.30 L261.83,1433.30 L261.87,1432.30 L261.92,1431.30 L261.96,1430.30 L262.02,1429.30 L262.07,1428.30 L262.13,1427.30 L262.19,1426.30 L262.25,1425.30 L262.32,1424.30 L262.39,1423.30 L262.47,1422.30 L262.55,1421.30 L262.63,1420.30 L262.72,1419.30 L262.81,1418.30 L262.90,1417.30 L263.00,1416.30 L263.10,1415.30 L263.21,1414.30 L263.33,1413.30 L263.44,1412.30 L263.57,1411.30 L263.70,1410.30 L263.83,1409.30 L263.97,1408.30 L264.11,1407.30 L264.26,1406.30 L264.42,1405.30 L264.58,1404.30 L264.75,1403.30 L264.92,1402.30 L265.10,1401.30 L265.28,1400.30 L265.47,1399.30 L265.67,1398.30 L265.87,1397.30 L266.08,1396.30 L266.29,1395.30 L266.51,1394.30 L266.74,1393.30 L266.97,1392.30 L267.21,1391.30 L267.45,1390.30 L267.70,1389.30 L267.96,1388.30 L268.22,1387.30 L268.48,1386.30 L268.76,1385.30 L269.03,1384.30 L269.32,1383.30 L269.60,1382.30 L269.90,1381.30 L270.19,1380.30 L270.49,1379.30 L270.80,1378.30 L271.11,1377.30 L271.42,1376.30 L271.74,1375.30 L272.06,1374.30 L272.39,1373.30 L272.72,1372.30 L273.05,1371.30 L273.38,1370.30 L273.71,1369.30 L274.05,1368.30 L274.39,1367.30 L274.73,1366.30 L275.07,1365.30 L275.41,1364.30 L275.75,1363.30 L276.09,1362.30 L276.44,1361.30 L276.78,1360.30 L277.12,1359.30 L277.46,1358.30 L277.79,1357.30 L278.13,1356.30 L278.46,1355.30 L278.79,1354.30 L279.12,1353.30 L279.44,1352.30 L279.76,1351.30 L280.08,1350.30 L280.40,1349.30 L280.70,1348.30 L281.01,1347.30 L281.31,1346.30 L281.60,1345.30 L281.89,1344.30 L282.18,1343.30 L282.45,1342.30 L282.73,1341.30 L282.99,1340.30 L283.25,1339.30 L283.50,1338.30 L283.75,1337.30 L283.99,1336.30 L284.22,1335.30 L284.45,1334.30 L284.67,1333.30 L284.88,1332.30 L285.08,1331.30 L285.28,1330.30 L285.47,1329.30 L285.65,1328.30 L285.82,1327.30 L285.99,1326.30 L286.15,1325.30 L286.31,1324.30 L286.45,1323.30 L286.59,1322.30 L286.73,1321.30 L286.85,1320.30 L286.97,1319.30 L287.09,1318.30 L287.20,1317.30 L287.30,1316.30 L287.40,1315.30 L287.50,1314.30 L287.58,1313.30 L287.67,1312.30 L287.75,1311.30 L287.83,1310.30 L287.90,1309.30 L287.98,1308.30 L288.05,1307.30 L288.12,1306.30 L288.19,1305.30 L288.25,1304.30 L288.32,1303.30 L288.39,1302.30 L288.46,1301.30 L288.53,1300.30 L288.61,1299.30 L288.68,1298.30 L288.76,1297.30 L288.85,1296.30 L288.94,1295.30 L289.03,1294.30 L289.14,1293.30 L289.25,1292.30 L289.36,1291.30 L289.49,1290.30 L289.62,1289.30 L289.77,1288.30 L289.92,1287.30 L290.09,1286.30 L290.27,1285.30 L290.46,1284.30 L290.67,1283.30 L290.88,1282.30 L291.12,1281.30 L291.37,1280.30 L291.63,1279.30 L291.91,1278.30 L292.21,1277.30 L292.53,1276.30 L292.86,1275.30 L293.22,1274.30 L293.59,1273.30 L293.98,1272.30 L294.39,1271.30 L294.82,1270.30 L295.28,1269.30 L295.75,1268.30 L296.24,1267.30 L296.76,1266.30 L297.30,1265.30 L297.86,1264.30 L298.44,1263.30 L299.04,1262.30 L299.67,1261.30 L300.31,1260.30 L300.98,1259.30 L301.67,1258.30 L302.38,1257.30 L303.11,1256.30 L303.86,1255.30 L304.63,1254.30 L305.42,1253.30 L306.22,1252.30 L307.05,1251.30 L307.90,1250.30 L308.76,1249.30 L309.63,1248.30 L310.53,1247.30 L311.43,1246.30 L312.36,1245.30 L313.29,1244.30 L314.24,1243.30 L315.19,1242.30 L316.16,1241.30 L317.14,1240.30 L318.12,1239.30 L319.11,1238.30 L320.11,1237.30 L321.11,1236.30 L322.11,1235.30 L323.12,1234.30 L324.12,1233.30 L325.13,1232.30 L326.13,1231.30 L327.13,1230.30 L328.13,1229.30 L329.12,1228.30 L330.10,1227.30 L331.08,1226.30 L332.05,1225.30 L333.01,1224.30 L333.95,1223.30 L334.88,1222.30 L335.80,1221.30 L336.71,1220.30 L337.59,1219.30 L338.46,1218.30 L339.32,1217.30 L340.15,1216.30 L340.96,1215.30 L341.75,1214.30 L342.52,1213.30 L343.26,1212.30 L343.98,1211.30 L344.68,1210.30 L345.35,1209.30 L345.99,1208.30 L346.61,1207.30 L347.20,1206.30 L347.76,1205.30 L348.29,1204.30 L348.79,1203.30 L349.26,1202.30 L349.71,1201.30 L350.12,1200.30 L350.50,1199.30 L350.84,1198.30 L351.16,1197.30 L351.44,1196.30 L351.70,1195.30 L351.92,1194.30 L352.10,1193.30 L352.26,1192.30 L352.38,1191.30 L352.47,1190.30 L352.53,1189.30 L352.56,1188.30 L352.55,1187.30 L352.52,1186.30 L352.45,1185.30 L352.35,1184.30 L352.22,1183.30 L352.05,1182.30 L351.86,1181.30 L351.64,1180.30 L351.38,1179.30 L351.10,1178.30 L350.79,1177.30 L350.45,1176.30 L350.09,1175.30 L349.69,1174.30 L349.27,1173.30 L348.82,1172.30 L348.35,1171.30 L347.85,1170.30 L347.33,1169.30 L346.79,1168.30 L346.22,1167.30 L345.63,1166.30 L345.01,1165.30 L344.38,1164.30 L343.73,1163.30 L343.05,1162.30 L342.36,1161.30 L341.65,1160.30 L340.93,1159.30 L340.18,1158.30 L339.42,1157.30 L338.65,1156.30 L337.87,1155.30 L337.07,1154.30 L336.25,1153.30 L335.43,1152.30 L334.60,1151.30 L333.75,1150.30 L332.90,1149.30 L332.04,1148.30 L331.18,1147.30 L330.30,1146.30 L329.42,1145.30 L328.54,1144.30 L327.65,1143.30 L326.76,1142.30 L325.87,1141.30 L324.98,1140.30 L324.08,1139.30 L323.19,1138.30 L322.30,1137.30 L321.40,1136.30 L320.51,1135.30 L319.63,1134.30 L318.74,1133.30 L317.86,1132.30 L316.99,1131.30 L316.12,1130.30 L315.26,1129.30 L314.40,1128.30 L313.55,1127.30 L312.71,1126.30 L311.88,1125.30 L311.05,1124.30 L310.23,1123.30 L309.43,1122.30 L308.63,1121.30 L307.84,1120.30 L307.06,1119.30 L306.29,1118.30 L305.53,1117.30 L304.78,1116.30 L304.04,1115.30 L303.32,1114.30 L302.60,1113.30 L301.89,1112.30 L301.20,1111.30 L300.52,1110.30 L299.84,1109.30 L299.18,1108.30 L298.53,1107.30 L297.89,1106.30 L297.26,1105.30 L296.64,1104.30 L296.03,1103.30 L295.43,1102.30 L294.84,1101.30 L294.25,1100.30 L293.68,1099.30 L293.12,1098.30 L292.57,1097.30 L292.02,1096.30 L291.48,1095.30 L290.96,1094.30 L290.43,1093.30 L289.92,1092.30 L289.41,1091.30 L288.92,1090.30 L288.42,1089.30 L287.94,1088.30 L287.46,1087.30 L286.98,1086.30 L286.51,1085.30 L286.05,1084.30 L285.59,1083.30 L285.14,1082.30 L284.69,1081.30 L284.24,1080.30 L283.80,1079.30 L283.37,1078.30 L282.93,1077.30 L282.51,1076.30 L282.08,1075.30 L281.66,1074.30 L281.24,1073.30 L280.83,1072.30 L280.42,1071.30 L280.01,1070.30 L279.60,1069.30 L279.20,1068.30 L278.80,1067.30 L278.41,1066.30 L278.01,1065.30 L277.63,1064.30 L277.24,1063.30 L276.86,1062.30 L276.48,1061.30 L276.10,1060.30 L275.72,1059.30 L275.35,1058.30 L274.99,1057.30 L274.63,1056.30 L274.27,1055.30 L273.91,1054.30 L273.56,1053.30 L273.21,1052.30 L272.87,1051.30 L272.53,1050.30 L272.19,1049.30 L271.86,1048.30 L271.54,1047.30 L271.22,1046.30 L270.90,1045.30 L270.59,1044.30 L270.28,1043.30 L269.98,1042.30 L269.69,1041.30 L269.39,1040.30 L269.11,1039.30 L268.83,1038.30 L268.56,1037.30 L268.29,1036.30 L268.03,1035.30 L267.77,1034.30 L267.52,1033.30 L267.27,1032.30 L267.04,1031.30 L266.80,1030.30 L266.58,1029.30 L266.36,1028.30 L266.14,1027.30 L265.93,1026.30 L265.73,1025.30 L265.53,1024.30 L265.34,1023.30 L265.16,1022.30 L264.98,1021.30 L264.80,1020.30 L264.64,1019.30 L264.47,1018.30 L264.32,1017.30 L264.17,1016.30 L264.02,1015.30 L263.88,1014.30 L263.75,1013.30 L263.62,1012.30 L263.49,1011.30 L263.37,1010.30 L263.26,1009.30 L263.15,1008.30 L263.04,1007.30 L262.94,1006.30 L262.85,1005.30 L262.75,1004.30 L262.67,1003.30 L262.58,1002.30 L262.50,1001.30 L262.43,1000.30 L262.35,999.30 L262.28,998.30 L262.22,997.30 L262.16,996.30 L262.10,995.30 L262.04,994.30 L261.99,993.30 L261.94,992.30 L261.89,991.30 L261.85,990.30 L261.80,989.30 L261.76,988.30 L261.73,987.30 L261.69,986.30 L261.66,985.30 L261.63,984.30 L261.60,983.30 L261.57,982.30 L261.54,981.30 L261.52,980.30 L261.49,979.30 L261.47,978.30 L261.45,977.30 L261.20,976.30Z" fill="#000"/><path d="M491.90,1066.30 L491.58,1067.30 L491.55,1068.30 L491.52,1069.30 L491.49,1070.30 L491.45,1071.30 L491.41,1072.30 L491.37,1073.30 L491.33,1074.30 L491.28,1075.30 L491.23,1076.30 L491.17,1077.30 L491.12,1078.30 L491.05,1079.30 L490.99,1080.30 L490.92,1081.30 L490.84,1082.30 L490.76,1083.30 L490.67,1084.30 L490.58,1085.30 L490.48,1086.30 L490.38,1087.30 L490.27,1088.30 L490.15,1089.30 L490.03,1090.30 L489.90,1091.30 L489.76,1092.30 L489.61,1093.30 L489.46,1094.30 L489.30,1095.30 L489.12,1096.30 L488.94,1097.30 L488.75,1098.30 L488.56,1099.30 L488.35,1100.30 L488.13,1101.30 L487.90,1102.30 L487.66,1103.30 L487.40,1104.30 L487.14,1105.30 L486.87,1106.30 L486.58,1107.30 L486.28,1108.30 L485.97,1109.30 L485.64,1110.30 L485.31,1111.30 L484.96,1112.30 L484.59,1113.30 L484.22,1114.30 L483.82,1115.30 L483.42,1116.30 L483.00,1117.30 L482.57,1118.30 L482.13,1119.30 L481.67,1120.30 L481.19,1121.30 L480.70,1122.30 L480.20,1123.30 L479.69,1124.30 L479.16,1125.30 L478.61,1126.30 L478.06,1127.30 L477.49,1128.30 L476.91,1129.30 L476.31,1130.30 L475.70,1131.30 L475.08,1132.30 L474.45,1133.30 L473.80,1134.30 L473.15,1135.30 L472.48,1136.30 L471.80,1137.30 L471.11,1138.30 L470.42,1139.30 L469.71,1140.30 L468.99,1141.30 L468.27,1142.30 L467.54,1143.30 L466.80,1144.30 L466.05,1145.30 L465.30,1146.30 L464.54,1147.30 L463.78,1148.30 L463.02,1149.30 L462.25,1150.30 L461.47,1151.30 L460.70,1152.30 L459.92,1153.30 L459.14,1154.30 L458.37,1155.30 L457.59,1156.30 L456.81,1157.30 L456.03,1158.30 L455.26,1159.30 L454.49,1160.30 L453.72,1161.30 L452.95,1162.30 L452.19,1163.30 L451.43,1164.30 L450.68,1165.30 L449.93,1166.30 L449.19,1167.30 L448.46,1168.30 L447.73,1169.30 L447.01,1170.30 L446.30,1171.30 L445.59,1172.30 L444.90,1173.30 L444.21,1174.30 L443.53,1175.30 L442.86,1176.30 L442.20,1177.30 L441.55,1178.30 L440.91,1179.30 L440.28,1180.30 L439.66,1181.30 L439.05,1182.30 L438.45,1183.30 L437.86,1184.30 L437.28,1185.30 L436.72,1186.30 L436.16,1187.30 L435.62,1188.30 L435.08,1189.30 L434.56,1190.30 L434.05,1191.30 L433.55,1192.30 L433.06,1193.30 L432.59,1194.30 L432.13,1195.30 L431.67,1196.30 L431.23,1197.30 L430.80,1198.30 L430.39,1199.30 L429.98,1200.30 L429.59,1201.30 L429.21,1202.30 L428.84,1203.30 L428.49,1204.30 L428.15,1205.30 L427.82,1206.30 L427.50,1207.30 L427.20,1208.30 L426.91,1209.30 L426.63,1210.30 L426.37,1211.30 L426.12,1212.30 L425.88,1213.30 L425.66,1214.30 L425.45,1215.30 L425.26,1216.30 L425.08,1217.30 L424.92,1218.30 L424.77,1219.30 L424.63,1220.30 L424.51,1221.30 L424.41,1222.30 L424.32,1223.30 L424.25,1224.30 L424.20,1225.30 L424.16,1226.30 L424.14,1227.30 L424.13,1228.30 L424.14,1229.30 L424.17,1230.30 L424.22,1231.30 L424.28,1232.30 L424.36,1233.30 L424.46,1234.30 L424.57,1235.30 L424.70,1236.30 L424.85,1237.30 L425.02,1238.30 L425.21,1239.30 L425.41,1240.30 L425.63,1241.30 L425.87,1242.30 L426.13,1243.30 L426.40,1244.30 L426.69,1245.30 L427.00,1246.30 L427.33,1247.30 L427.67,1248.30 L428.03,1249.30 L428.41,1250.30 L428.80,1251.30 L429.21,1252.30 L429.64,1253.30 L430.08,1254.30 L430.54,1255.30 L431.01,1256.30 L431.50,1257.30 L432.00,1258.30 L432.52,1259.30 L433.05,1260.30 L433.59,1261.30 L434.14,1262.30 L434.71,1263.30 L435.29,1264.30 L435.88,1265.30 L436.48,1266.30 L437.09,1267.30 L437.71,1268.30 L438.34,1269.30 L438.98,1270.30 L439.63,1271.30 L440.28,1272.30 L440.94,1273.30 L441.61,1274.30 L442.28,1275.30 L442.95,1276.30 L443.63,1277.30 L444.31,1278.30 L444.99,1279.30 L445.68,1280.30 L446.36,1281.30 L447.05,1282.30 L447.73,1283.30 L448.41,1284.30 L449.09,1285.30 L449.77,1286.30 L450.44,1287.30 L451.10,1288.30 L451.76,1289.30 L452.41,1290.30 L453.06,1291.30 L453.69,1292.30 L454.32,1293.30 L454.94,1294.30 L455.54,1295.30 L456.13,1296.30 L456.71,1297.30 L457.28,1298.30 L457.83,1299.30 L458.36,1300.30 L458.88,1301.30 L459.38,1302.30 L459.86,1303.30 L460.33,1304.30 L460.77,1305.30 L461.19,1306.30 L461.60,1307.30 L461.98,1308.30 L462.34,1309.30 L462.67,1310.30 L462.98,1311.30 L463.27,1312.30 L463.53,1313.30 L463.77,1314.30 L463.98,1315.30 L464.16,1316.30 L464.32,1317.30 L464.45,1318.30 L464.56,1319.30 L464.63,1320.30 L464.68,1321.30 L464.70,1322.30 L464.69,1323.30 L464.65,1324.30 L464.58,1325.30 L464.49,1326.30 L464.37,1327.30 L464.21,1328.30 L464.03,1329.30 L463.83,1330.30 L463.59,1331.30 L463.33,1332.30 L463.04,1333.30 L462.72,1334.30 L462.38,1335.30 L462.01,1336.30 L461.62,1337.30 L461.20,1338.30 L460.76,1339.30 L460.29,1340.30 L459.81,1341.30 L459.30,1342.30 L458.77,1343.30 L458.23,1344.30 L457.66,1345.30 L457.08,1346.30 L456.48,1347.30 L455.86,1348.30 L455.23,1349.30 L454.59,1350.30 L453.94,1351.30 L453.28,1352.30 L452.60,1353.30 L451.92,1354.30 L451.23,1355.30 L450.54,1356.30 L449.85,1357.30 L449.15,1358.30 L448.45,1359.30 L447.75,1360.30 L447.05,1361.30 L446.35,1362.30 L445.66,1363.30 L444.98,1364.30 L444.30,1365.30 L443.63,1366.30 L442.97,1367.30 L442.33,1368.30 L441.69,1369.30 L441.07,1370.30 L440.47,1371.30 L439.88,1372.30 L439.31,1373.30 L438.76,1374.30 L438.23,1375.30 L437.72,1376.30 L437.23,1377.30 L436.77,1378.30 L436.33,1379.30 L435.92,1380.30 L435.53,1381.30 L435.17,1382.30 L434.84,1383.30 L434.54,1384.30 L434.27,1385.30 L434.03,1386.30 L433.82,1387.30 L433.64,1388.30 L433.49,1389.30 L433.38,1390.30 L433.30,1391.30 L433.25,1392.30 L433.23,1393.30 L433.25,1394.30 L433.30,1395.30 L433.39,1396.30 L433.51,1397.30 L433.66,1398.30 L433.85,1399.30 L434.07,1400.30 L434.32,1401.30 L434.61,1402.30 L434.93,1403.30 L435.28,1404.30 L435.66,1405.30 L436.07,1406.30 L436.52,1407.30 L436.99,1408.30 L437.49,1409.30 L438.02,1410.30 L438.58,1411.30 L439.16,1412.30 L439.77,1413.30 L440.40,1414.30 L441.06,1415.30 L441.74,1416.30 L442.44,1417.30 L443.17,1418.30 L443.91,1419.30 L444.67,1420.30 L445.45,1421.30 L446.24,1422.30 L447.05,1423.30 L447.87,1424.30 L448.70,1425.30 L449.55,1426.30 L450.41,1427.30 L451.27,1428.30 L452.14,1429.30 L453.02,1430.30 L453.91,1431.30 L454.80,1432.30 L455.69,1433.30 L456.58,1434.30 L457.48,1435.30 L458.37,1436.30 L459.26,1437.30 L460.15,1438.30 L461.04,1439.30 L461.92,1440.30 L462.80,1441.30 L463.67,1442.30 L464.53,1443.30 L465.38,1444.30 L466.23,1445.30 L467.06,1446.30 L467.89,1447.30 L468.70,1448.30 L469.50,1449.30 L470.29,1450.30 L471.06,1451.30 L471.82,1452.30 L472.57,1453.30 L473.30,1454.30 L474.02,1455.30 L474.72,1456.30 L475.41,1457.30 L476.07,1458.30 L476.73,1459.30 L477.36,1460.30 L477.98,1461.30 L478.59,1462.30 L479.17,1463.30 L479.74,1464.30 L480.29,1465.30 L480.83,1466.30 L481.34,1467.30 L481.84,1468.30 L482.33,1469.30 L482.80,1470.30 L483.25,1471.30 L483.68,1472.30 L484.10,1473.30 L484.50,1474.30 L484.89,1475.30 L485.26,1476.30 L485.62,1477.30 L485.96,1478.30 L486.28,1479.30 L486.60,1480.30 L486.90,1481.30 L487.18,1482.30 L487.46,1483.30 L487.72,1484.30 L487.96,1485.30 L488.20,1486.30 L488.43,1487.30 L488.64,1488.30 L488.84,1489.30 L489.03,1490.30 L489.22,1491.30 L489.39,1492.30 L489.55,1493.30 L489.70,1494.30 L489.85,1495.30 L489.99,1496.30 L490.12,1497.30 L490.24,1498.30 L490.35,1499.30 L490.46,1500.30 L490.56,1501.30 L490.66,1502.30 L490.75,1503.30 L490.83,1504.30 L490.91,1505.30 L490.98,1506.30 L491.05,1507.30 L491.12,1508.30 L491.18,1509.30 L491.23,1510.30 L491.28,1511.30 L491.33,1512.30 L491.38,1513.30 L491.42,1514.30 L491.46,1515.30 L491.49,1516.30 L491.53,1517.30 L491.90,1518.20 L491.90,1518.20 L492.27,1517.30 L492.31,1516.30 L492.34,1515.30 L492.38,1514.30 L492.42,1513.30 L492.47,1512.30 L492.52,1511.30 L492.57,1510.30 L492.62,1509.30 L492.68,1508.30 L492.75,1507.30 L492.82,1506.30 L492.89,1505.30 L492.97,1504.30 L493.05,1503.30 L493.14,1502.30 L493.24,1501.30 L493.34,1500.30 L493.45,1499.30 L493.56,1498.30 L493.68,1497.30 L493.81,1496.30 L493.95,1495.30 L494.10,1494.30 L494.25,1493.30 L494.41,1492.30 L494.58,1491.30 L494.77,1490.30 L494.96,1489.30 L495.16,1488.30 L495.37,1487.30 L495.60,1486.30 L495.84,1485.30 L496.08,1484.30 L496.34,1483.30 L496.62,1482.30 L496.90,1481.30 L497.20,1480.30 L497.52,1479.30 L497.84,1478.30 L498.18,1477.30 L498.54,1476.30 L498.91,1475.30 L499.30,1474.30 L499.70,1473.30 L500.12,1472.30 L500.55,1471.30 L501.00,1470.30 L501.47,1469.30 L501.96,1468.30 L502.46,1467.30 L502.97,1466.30 L503.51,1465.30 L504.06,1464.30 L504.63,1463.30 L505.21,1462.30 L505.82,1461.30 L506.44,1460.30 L507.07,1459.30 L507.73,1458.30 L508.39,1457.30 L509.08,1456.30 L509.78,1455.30 L510.50,1454.30 L511.23,1453.30 L511.98,1452.30 L512.74,1451.30 L513.51,1450.30 L514.30,1449.30 L515.10,1448.30 L515.91,1447.30 L516.74,1446.30 L517.57,1445.30 L518.42,1444.30 L519.27,1443.30 L520.13,1442.30 L521.00,1441.30 L521.88,1440.30 L522.76,1439.30 L523.65,1438.30 L524.54,1437.30 L525.43,1436.30 L526.32,1435.30 L527.22,1434.30 L528.11,1433.30 L529.00,1432.30 L529.89,1431.30 L530.78,1430.30 L531.66,1429.30 L532.53,1428.30 L533.39,1427.30 L534.25,1426.30 L535.10,1425.30 L535.93,1424.30 L536.75,1423.30 L537.56,1422.30 L538.35,1421.30 L539.13,1420.30 L539.89,1419.30 L540.63,1418.30 L541.36,1417.30 L542.06,1416.30 L542.74,1415.30 L543.40,1414.30 L544.03,1413.30 L544.64,1412.30 L545.22,1411.30 L545.78,1410.30 L546.31,1409.30 L546.81,1408.30 L547.28,1407.30 L547.73,1406.30 L548.14,1405.30 L548.52,1404.30 L548.87,1403.30 L549.19,1402.30 L549.48,1401.30 L549.73,1400.30 L549.95,1399.30 L550.14,1398.30 L550.29,1397.30 L550.41,1396.30 L550.50,1395.30 L550.55,1394.30 L550.57,1393.30 L550.55,1392.30 L550.50,1391.30 L550.42,1390.30 L550.31,1389.30 L550.16,1388.30 L549.98,1387.30 L549.77,1386.30 L549.53,1385.30 L549.26,1384.30 L548.96,1383.30 L548.63,1382.30 L548.27,1381.30 L547.88,1380.30 L547.47,1379.30 L547.03,1378.30 L546.57,1377.30 L546.08,1376.30 L545.57,1375.30 L545.04,1374.30 L544.49,1373.30 L543.92,1372.30 L543.33,1371.30 L542.73,1370.30 L542.11,1369.30 L541.47,1368.30 L540.83,1367.30 L540.17,1366.30 L539.50,1365.30 L538.82,1364.30 L538.14,1363.30 L537.45,1362.30 L536.75,1361.30 L536.05,1360.30 L535.35,1359.30 L534.65,1358.30 L533.95,1357.30 L533.26,1356.30 L532.57,1355.30 L531.88,1354.30 L531.20,1353.30 L530.52,1352.30 L529.86,1351.30 L529.21,1350.30 L528.57,1349.30 L527.94,1348.30 L527.32,1347.30 L526.72,1346.30 L526.14,1345.30 L525.57,1344.30 L525.03,1343.30 L524.50,1342.30 L523.99,1341.30 L523.51,1340.30 L523.04,1339.30 L522.60,1338.30 L522.18,1337.30 L521.79,1336.30 L521.42,1335.30 L521.08,1334.30 L520.76,1333.30 L520.47,1332.30 L520.21,1331.30 L519.97,1330.30 L519.77,1329.30 L519.59,1328.30 L519.43,1327.30 L519.31,1326.30 L519.22,1325.30 L519.15,1324.30 L519.11,1323.30 L519.10,1322.30 L519.12,1321.30 L519.17,1320.30 L519.24,1319.30 L519.35,1318.30 L519.48,1317.30 L519.64,1316.30 L519.82,1315.30 L520.03,1314.30 L520.27,1313.30 L520.53,1312.30 L520.82,1311.30 L521.13,1310.30 L521.46,1309.30 L521.82,1308.30 L522.20,1307.30 L522.61,1306.30 L523.03,1305.30 L523.47,1304.30 L523.94,1303.30 L524.42,1302.30 L524.92,1301.30 L525.44,1300.30 L525.97,1299.30 L526.52,1298.30 L527.09,1297.30 L527.67,1296.30 L528.26,1295.30 L528.86,1294.30 L529.48,1293.30 L530.11,1292.30 L530.74,1291.30 L531.39,1290.30 L532.04,1289.30 L532.70,1288.30 L533.36,1287.30 L534.03,1286.30 L534.71,1285.30 L535.39,1284.30 L536.07,1283.30 L536.75,1282.30 L537.44,1281.30 L538.12,1280.30 L538.81,1279.30 L539.49,1278.30 L540.17,1277.30 L540.85,1276.30 L541.52,1275.30 L542.19,1274.30 L542.86,1273.30 L543.52,1272.30 L544.17,1271.30 L544.82,1270.30 L545.46,1269.30 L546.09,1268.30 L546.71,1267.30 L547.32,1266.30 L547.92,1265.30 L548.51,1264.30 L549.09,1263.30 L549.66,1262.30 L550.21,1261.30 L550.75,1260.30 L551.28,1259.30 L551.80,1258.30 L552.30,1257.30 L552.79,1256.30 L553.26,1255.30 L553.72,1254.30 L554.16,1253.30 L554.59,1252.30 L555.00,1251.30 L555.39,1250.30 L555.77,1249.30 L556.13,1248.30 L556.47,1247.30 L556.80,1246.30 L557.11,1245.30 L557.40,1244.30 L557.67,1243.30 L557.93,1242.30 L558.17,1241.30 L558.39,1240.30 L558.59,1239.30 L558.78,1238.30 L558.95,1237.30 L559.10,1236.30 L559.23,1235.30 L559.34,1234.30 L559.44,1233.30 L559.52,1232.30 L559.58,1231.30 L559.63,1230.30 L559.66,1229.30 L559.67,1228.30 L559.66,1227.30 L559.64,1226.30 L559.60,1225.30 L559.55,1224.30 L559.48,1223.30 L559.39,1222.30 L559.29,1221.30 L559.17,1220.30 L559.03,1219.30 L558.88,1218.30 L558.72,1217.30 L558.54,1216.30 L558.35,1215.30 L558.14,1214.30 L557.92,1213.30 L557.68,1212.30 L557.43,1211.30 L557.17,1210.30 L556.89,1209.30 L556.60,1208.30 L556.30,1207.30 L555.98,1206.30 L555.65,1205.30 L555.31,1204.30 L554.96,1203.30 L554.59,1202.30 L554.21,1201.30 L553.82,1200.30 L553.41,1199.30 L553.00,1198.30 L552.57,1197.30 L552.13,1196.30 L551.67,1195.30 L551.21,1194.30 L550.74,1193.30 L550.25,1192.30 L549.75,1191.30 L549.24,1190.30 L548.72,1189.30 L548.18,1188.30 L547.64,1187.30 L547.08,1186.30 L546.52,1185.30 L545.94,1184.30 L545.35,1183.30 L544.75,1182.30 L544.14,1181.30 L543.52,1180.30 L542.89,1179.30 L542.25,1178.30 L541.60,1177.30 L540.94,1176.30 L540.27,1175.30 L539.59,1174.30 L538.90,1173.30 L538.21,1172.30 L537.50,1171.30 L536.79,1170.30 L536.07,1169.30 L535.34,1168.30 L534.61,1167.30 L533.87,1166.30 L533.12,1165.30 L532.37,1164.30 L531.61,1163.30 L530.85,1162.30 L530.08,1161.30 L529.31,1160.30 L528.54,1159.30 L527.77,1158.30 L526.99,1157.30 L526.21,1156.30 L525.43,1155.30 L524.66,1154.30 L523.88,1153.30 L523.10,1152.30 L522.33,1151.30 L521.55,1150.30 L520.78,1149.30 L520.02,1148.30 L519.26,1147.30 L518.50,1146.30 L517.75,1145.30 L517.00,1144.30 L516.26,1143.30 L515.53,1142.30 L514.81,1141.30 L514.09,1140.30 L513.38,1139.30 L512.69,1138.30 L512.00,1137.30 L511.32,1136.30 L510.65,1135.30 L510.00,1134.30 L509.35,1133.30 L508.72,1132.30 L508.10,1131.30 L507.49,1130.30 L506.89,1129.30 L506.31,1128.30 L505.74,1127.30 L505.19,1126.30 L504.64,1125.30 L504.11,1124.30 L503.60,1123.30 L503.10,1122.30 L502.61,1121.30 L502.13,1120.30 L501.67,1119.30 L501.23,1118.30 L500.80,1117.30 L500.38,1116.30 L499.98,1115.30 L499.58,1114.30 L499.21,1113.30 L498.84,1112.30 L498.49,1111.30 L498.16,1110.30 L497.83,1109.30 L497.52,1108.30 L497.22,1107.30 L496.93,1106.30 L496.66,1105.30 L496.40,1104.30 L496.14,1103.30 L495.90,1102.30 L495.67,1101.30 L495.45,1100.30 L495.24,1099.30 L495.05,1098.30 L494.86,1097.30 L494.68,1096.30 L494.50,1095.30 L494.34,1094.30 L494.19,1093.30 L494.04,1092.30 L493.90,1091.30 L493.77,1090.30 L493.65,1089.30 L493.53,1088.30 L493.42,1087.30 L493.32,1086.30 L493.22,1085.30 L493.13,1084.30 L493.04,1083.30 L492.96,1082.30 L492.88,1081.30 L492.81,1080.30 L492.75,1079.30 L492.68,1078.30 L492.63,1077.30 L492.57,1076.30 L492.52,1075.30 L492.47,1074.30 L492.43,1073.30 L492.39,1072.30 L492.35,1071.30 L492.31,1070.30 L492.28,1069.30 L492.25,1068.30 L492.22,1067.30 L491.90,1066.30Z" fill="#000"/><line x1="146.89999999999998" y1="1199.9" x2="375.5" y2="1199.9" stroke="#000" stroke-width="3.6" stroke-linecap="round"/><line x1="377.59999999999997" y1="1287.3" x2="606.1999999999999" y2="1287.3" stroke="#000" stroke-width="3.6" stroke-linecap="round"/><line x1="241.6" y1="1084.5" x2="280.8" y2="1084.5" stroke="#fff" stroke-width="2.6"/><line x1="241.6" y1="1135.6" x2="280.8" y2="1135.6" stroke="#b8b8b8" stroke-width="2.6"/><line x1="241.6" y1="1166.5" x2="280.8" y2="1166.5" stroke="#fff" stroke-width="4.0"/><line x1="241.6" y1="1203.1" x2="280.8" y2="1203.1" stroke="#fff" stroke-width="4.0"/><line x1="241.6" y1="1215.1" x2="280.8" y2="1215.1" stroke="#fff" stroke-width="2.6"/><line x1="241.6" y1="1227.3" x2="280.8" y2="1227.3" stroke="#b8b8b8" stroke-width="2.6"/><line x1="241.6" y1="1293.7" x2="280.8" y2="1293.7" stroke="#fff" stroke-width="2.6"/><line x1="241.6" y1="1338.7" x2="280.8" y2="1338.7" stroke="#fff" stroke-width="2.6"/><line x1="472.29999999999995" y1="1175" x2="511.5" y2="1175" stroke="#fff" stroke-width="2.6"/><line x1="472.29999999999995" y1="1222.8" x2="511.5" y2="1222.8" stroke="#fff" stroke-width="4.0"/><line x1="472.29999999999995" y1="1243.4" x2="511.5" y2="1243.4" stroke="#fff" stroke-width="2.6"/><line x1="472.29999999999995" y1="1259.5" x2="511.5" y2="1259.5" stroke="#fff" stroke-width="2.6"/><line x1="472.29999999999995" y1="1291.9" x2="511.5" y2="1291.9" stroke="#b8b8b8" stroke-width="2.6"/><line x1="472.29999999999995" y1="1374.8" x2="511.5" y2="1374.8" stroke="#fff" stroke-width="2.6"/><line x1="472.29999999999995" y1="1389.4" x2="511.5" y2="1389.4" stroke="#fff" stroke-width="2.6"/><line x1="472.29999999999995" y1="1397.8" x2="511.5" y2="1397.8" stroke="#fff" stroke-width="2.6"/><line x1="472.29999999999995" y1="1410" x2="511.5" y2="1410" stroke="#fff" stroke-width="2.6"/><rect x="127.1" y="954.6" width="498.4" height="585.9" fill="none" stroke="#222" stroke-width="2.3" stroke-linejoin="round"/><line x1="111.1" y1="1391.90" x2="127.1" y2="1391.90" stroke="#222" stroke-width="2.2"/><text x="0" y="0" transform="translate(90.8,1392.90) rotate(-90)" text-anchor="middle" font-size="25" fill="#111">60</text><line x1="111.1" y1="1256.77" x2="127.1" y2="1256.77" stroke="#222" stroke-width="2.2"/><text x="0" y="0" transform="translate(90.8,1257.77) rotate(-90)" text-anchor="middle" font-size="25" fill="#111">80</text><line x1="111.1" y1="1151.95" x2="127.1" y2="1151.95" stroke="#222" stroke-width="2.2"/><text x="0" y="0" transform="translate(90.8,1152.95) rotate(-90)" text-anchor="middle" font-size="25" fill="#111">100</text><line x1="111.1" y1="1066.31" x2="127.1" y2="1066.31" stroke="#222" stroke-width="2.2"/><text x="0" y="0" transform="translate(90.8,1067.31) rotate(-90)" text-anchor="middle" font-size="25" fill="#111">120</text><line x1="111.1" y1="993.90" x2="127.1" y2="993.90" stroke="#222" stroke-width="2.2"/><text x="0" y="0" transform="translate(90.8,994.90) rotate(-90)" text-anchor="middle" font-size="25" fill="#111">140</text><line x1="261.2" y1="1540.5" x2="261.2" y2="1556.0" stroke="#222" stroke-width="2.2"/><line x1="491.9" y1="1540.5" x2="491.9" y2="1556.0" stroke="#222" stroke-width="2.2"/><text x="248.7" y="1590.0" text-anchor="middle" font-size="33" font-weight="bold" fill="#111">Pre-Exercise</text><text x="511.4" y="1590.0" text-anchor="middle" font-size="33" font-weight="bold" fill="#111">Post-Exercise</text><text x="384.7" y="920.6" text-anchor="middle" font-size="38" font-weight="bold" fill="#111">Arginine</text><text x="0" y="0" transform="translate(44.2,1358.9) rotate(-90)" font-size="38" font-weight="bold" fill="#111">Arginine, µM</text><line x1="314.8" y1="1042.6" x2="443.8" y2="1042.6" stroke="#b0b0b0" stroke-width="3" stroke-linecap="round"/><text x="377.8" y="1039.0" text-anchor="middle" font-size="26" font-weight="bold" letter-spacing="3.1" fill="#111">*</text></g>
<g><line x1="812.2" y1="1248.6" x2="1310.6" y2="1248.6" stroke="#606060" stroke-width="3" stroke-dasharray="3,9.85"/><path d="M945.90,976.30 L945.72,977.30 L945.70,978.30 L945.69,979.30 L945.67,980.30 L945.66,981.30 L945.64,982.30 L945.62,983.30 L945.60,984.30 L945.58,985.30 L945.55,986.30 L945.53,987.30 L945.50,988.30 L945.47,989.30 L945.44,990.30 L945.41,991.30 L945.38,992.30 L945.34,993.30 L945.30,994.30 L945.26,995.30 L945.22,996.30 L945.17,997.30 L945.13,998.30 L945.07,999.30 L945.02,1000.30 L944.96,1001.30 L944.90,1002.30 L944.84,1003.30 L944.78,1004.30 L944.71,1005.30 L944.63,1006.30 L944.55,1007.30 L944.47,1008.30 L944.39,1009.30 L944.30,1010.30 L944.20,1011.30 L944.10,1012.30 L944.00,1013.30 L943.89,1014.30 L943.78,1015.30 L943.66,1016.30 L943.53,1017.30 L943.40,1018.30 L943.27,1019.30 L943.13,1020.30 L942.98,1021.30 L942.82,1022.30 L942.66,1023.30 L942.49,1024.30 L942.32,1025.30 L942.14,1026.30 L941.95,1027.30 L941.75,1028.30 L941.55,1029.30 L941.33,1030.30 L941.11,1031.30 L940.88,1032.30 L940.65,1033.30 L940.40,1034.30 L940.15,1035.30 L939.88,1036.30 L939.61,1037.30 L939.33,1038.30 L939.04,1039.30 L938.74,1040.30 L938.43,1041.30 L938.11,1042.30 L937.78,1043.30 L937.44,1044.30 L937.10,1045.30 L936.74,1046.30 L936.37,1047.30 L935.99,1048.30 L935.60,1049.30 L935.20,1050.30 L934.79,1051.30 L934.37,1052.30 L933.94,1053.30 L933.50,1054.30 L933.05,1055.30 L932.59,1056.30 L932.11,1057.30 L931.63,1058.30 L931.14,1059.30 L930.64,1060.30 L930.13,1061.30 L929.60,1062.30 L929.07,1063.30 L928.53,1064.30 L927.98,1065.30 L927.42,1066.30 L926.85,1067.30 L926.27,1068.30 L925.69,1069.30 L925.09,1070.30 L924.49,1071.30 L923.88,1072.30 L923.26,1073.30 L922.63,1074.30 L922.00,1075.30 L921.36,1076.30 L920.71,1077.30 L920.06,1078.30 L919.40,1079.30 L918.73,1080.30 L918.06,1081.30 L917.39,1082.30 L916.71,1083.30 L916.03,1084.30 L915.34,1085.30 L914.66,1086.30 L913.97,1087.30 L913.27,1088.30 L912.58,1089.30 L911.88,1090.30 L911.18,1091.30 L910.49,1092.30 L909.79,1093.30 L909.09,1094.30 L908.40,1095.30 L907.70,1096.30 L907.01,1097.30 L906.32,1098.30 L905.63,1099.30 L904.95,1100.30 L904.27,1101.30 L903.59,1102.30 L902.92,1103.30 L902.25,1104.30 L901.59,1105.30 L900.94,1106.30 L900.29,1107.30 L899.65,1108.30 L899.01,1109.30 L898.39,1110.30 L897.77,1111.30 L897.16,1112.30 L896.55,1113.30 L895.96,1114.30 L895.37,1115.30 L894.80,1116.30 L894.23,1117.30 L893.68,1118.30 L893.13,1119.30 L892.59,1120.30 L892.07,1121.30 L891.55,1122.30 L891.05,1123.30 L890.55,1124.30 L890.07,1125.30 L889.60,1126.30 L889.14,1127.30 L888.69,1128.30 L888.25,1129.30 L887.82,1130.30 L887.41,1131.30 L887.00,1132.30 L886.61,1133.30 L886.22,1134.30 L885.85,1135.30 L885.49,1136.30 L885.14,1137.30 L884.79,1138.30 L884.46,1139.30 L884.14,1140.30 L883.82,1141.30 L883.52,1142.30 L883.22,1143.30 L882.94,1144.30 L882.66,1145.30 L882.39,1146.30 L882.12,1147.30 L881.87,1148.30 L881.62,1149.30 L881.38,1150.30 L881.14,1151.30 L880.91,1152.30 L880.69,1153.30 L880.47,1154.30 L880.25,1155.30 L880.04,1156.30 L879.84,1157.30 L879.63,1158.30 L879.43,1159.30 L879.24,1160.30 L879.04,1161.30 L878.85,1162.30 L878.66,1163.30 L878.47,1164.30 L878.29,1165.30 L878.10,1166.30 L877.91,1167.30 L877.73,1168.30 L877.54,1169.30 L877.36,1170.30 L877.17,1171.30 L876.99,1172.30 L876.80,1173.30 L876.61,1174.30 L876.42,1175.30 L876.23,1176.30 L876.04,1177.30 L875.84,1178.30 L875.65,1179.30 L875.45,1180.30 L875.25,1181.30 L875.05,1182.30 L874.84,1183.30 L874.64,1184.30 L874.43,1185.30 L874.22,1186.30 L874.01,1187.30 L873.80,1188.30 L873.58,1189.30 L873.36,1190.30 L873.15,1191.30 L872.93,1192.30 L872.71,1193.30 L872.49,1194.30 L872.27,1195.30 L872.04,1196.30 L871.82,1197.30 L871.60,1198.30 L871.38,1199.30 L871.16,1200.30 L870.93,1201.30 L870.71,1202.30 L870.49,1203.30 L870.28,1204.30 L870.06,1205.30 L869.84,1206.30 L869.63,1207.30 L869.42,1208.30 L869.21,1209.30 L869.01,1210.30 L868.81,1211.30 L868.61,1212.30 L868.42,1213.30 L868.23,1214.30 L868.04,1215.30 L867.86,1216.30 L867.68,1217.30 L867.51,1218.30 L867.34,1219.30 L867.18,1220.30 L867.02,1221.30 L866.87,1222.30 L866.73,1223.30 L866.59,1224.30 L866.46,1225.30 L866.33,1226.30 L866.21,1227.30 L866.10,1228.30 L866.00,1229.30 L865.90,1230.30 L865.81,1231.30 L865.72,1232.30 L865.65,1233.30 L865.58,1234.30 L865.52,1235.30 L865.46,1236.30 L865.42,1237.30 L865.38,1238.30 L865.35,1239.30 L865.33,1240.30 L865.31,1241.30 L865.31,1242.30 L865.31,1243.30 L865.32,1244.30 L865.34,1245.30 L865.37,1246.30 L865.40,1247.30 L865.45,1248.30 L865.50,1249.30 L865.56,1250.30 L865.63,1251.30 L865.71,1252.30 L865.79,1253.30 L865.89,1254.30 L866.00,1255.30 L866.11,1256.30 L866.23,1257.30 L866.36,1258.30 L866.51,1259.30 L866.66,1260.30 L866.82,1261.30 L866.99,1262.30 L867.16,1263.30 L867.35,1264.30 L867.55,1265.30 L867.76,1266.30 L867.98,1267.30 L868.21,1268.30 L868.44,1269.30 L868.69,1270.30 L868.95,1271.30 L869.22,1272.30 L869.50,1273.30 L869.79,1274.30 L870.09,1275.30 L870.41,1276.30 L870.73,1277.30 L871.07,1278.30 L871.41,1279.30 L871.77,1280.30 L872.14,1281.30 L872.52,1282.30 L872.91,1283.30 L873.32,1284.30 L873.73,1285.30 L874.16,1286.30 L874.60,1287.30 L875.05,1288.30 L875.51,1289.30 L875.99,1290.30 L876.48,1291.30 L876.98,1292.30 L877.49,1293.30 L878.01,1294.30 L878.55,1295.30 L879.09,1296.30 L879.65,1297.30 L880.22,1298.30 L880.81,1299.30 L881.40,1300.30 L882.01,1301.30 L882.62,1302.30 L883.25,1303.30 L883.89,1304.30 L884.54,1305.30 L885.20,1306.30 L885.87,1307.30 L886.55,1308.30 L887.24,1309.30 L887.94,1310.30 L888.65,1311.30 L889.37,1312.30 L890.10,1313.30 L890.83,1314.30 L891.57,1315.30 L892.32,1316.30 L893.08,1317.30 L893.84,1318.30 L894.61,1319.30 L895.39,1320.30 L896.17,1321.30 L896.96,1322.30 L897.75,1323.30 L898.55,1324.30 L899.35,1325.30 L900.15,1326.30 L900.96,1327.30 L901.76,1328.30 L902.57,1329.30 L903.38,1330.30 L904.20,1331.30 L905.01,1332.30 L905.82,1333.30 L906.63,1334.30 L907.44,1335.30 L908.25,1336.30 L909.06,1337.30 L909.86,1338.30 L910.66,1339.30 L911.46,1340.30 L912.25,1341.30 L913.04,1342.30 L913.82,1343.30 L914.60,1344.30 L915.37,1345.30 L916.14,1346.30 L916.90,1347.30 L917.65,1348.30 L918.39,1349.30 L919.13,1350.30 L919.86,1351.30 L920.58,1352.30 L921.29,1353.30 L921.99,1354.30 L922.68,1355.30 L923.37,1356.30 L924.04,1357.30 L924.70,1358.30 L925.35,1359.30 L925.99,1360.30 L926.62,1361.30 L927.24,1362.30 L927.85,1363.30 L928.44,1364.30 L929.02,1365.30 L929.60,1366.30 L930.16,1367.30 L930.70,1368.30 L931.24,1369.30 L931.76,1370.30 L932.28,1371.30 L932.77,1372.30 L933.26,1373.30 L933.74,1374.30 L934.20,1375.30 L934.65,1376.30 L935.09,1377.30 L935.52,1378.30 L935.93,1379.30 L936.33,1380.30 L936.72,1381.30 L937.10,1382.30 L937.47,1383.30 L937.83,1384.30 L938.17,1385.30 L938.51,1386.30 L938.83,1387.30 L939.15,1388.30 L939.45,1389.30 L939.74,1390.30 L940.02,1391.30 L940.29,1392.30 L940.55,1393.30 L940.81,1394.30 L941.05,1395.30 L941.28,1396.30 L941.51,1397.30 L941.72,1398.30 L941.93,1399.30 L942.13,1400.30 L942.32,1401.30 L942.50,1402.30 L942.68,1403.30 L942.85,1404.30 L943.01,1405.30 L943.16,1406.30 L943.31,1407.30 L943.45,1408.30 L943.58,1409.30 L943.71,1410.30 L943.83,1411.30 L943.95,1412.30 L944.06,1413.30 L944.16,1414.30 L944.26,1415.30 L944.36,1416.30 L944.45,1417.30 L944.53,1418.30 L944.62,1419.30 L944.69,1420.30 L944.77,1421.30 L944.83,1422.30 L944.90,1423.30 L944.96,1424.30 L945.02,1425.30 L945.08,1426.30 L945.13,1427.30 L945.18,1428.30 L945.22,1429.30 L945.27,1430.30 L945.31,1431.30 L945.35,1432.30 L945.39,1433.30 L945.42,1434.30 L945.45,1435.30 L945.48,1436.30 L945.51,1437.30 L945.54,1438.30 L945.56,1439.30 L945.59,1440.30 L945.61,1441.30 L945.63,1442.30 L945.65,1443.30 L945.90,1443.40 L945.90,1443.40 L946.15,1443.30 L946.17,1442.30 L946.19,1441.30 L946.21,1440.30 L946.24,1439.30 L946.26,1438.30 L946.29,1437.30 L946.32,1436.30 L946.35,1435.30 L946.38,1434.30 L946.41,1433.30 L946.45,1432.30 L946.49,1431.30 L946.53,1430.30 L946.58,1429.30 L946.62,1428.30 L946.67,1427.30 L946.72,1426.30 L946.78,1425.30 L946.84,1424.30 L946.90,1423.30 L946.97,1422.30 L947.03,1421.30 L947.11,1420.30 L947.18,1419.30 L947.27,1418.30 L947.35,1417.30 L947.44,1416.30 L947.54,1415.30 L947.64,1414.30 L947.74,1413.30 L947.85,1412.30 L947.97,1411.30 L948.09,1410.30 L948.22,1409.30 L948.35,1408.30 L948.49,1407.30 L948.64,1406.30 L948.79,1405.30 L948.95,1404.30 L949.12,1403.30 L949.30,1402.30 L949.48,1401.30 L949.67,1400.30 L949.87,1399.30 L950.08,1398.30 L950.29,1397.30 L950.52,1396.30 L950.75,1395.30 L950.99,1394.30 L951.25,1393.30 L951.51,1392.30 L951.78,1391.30 L952.06,1390.30 L952.35,1389.30 L952.65,1388.30 L952.97,1387.30 L953.29,1386.30 L953.63,1385.30 L953.97,1384.30 L954.33,1383.30 L954.70,1382.30 L955.08,1381.30 L955.47,1380.30 L955.87,1379.30 L956.28,1378.30 L956.71,1377.30 L957.15,1376.30 L957.60,1375.30 L958.06,1374.30 L958.54,1373.30 L959.03,1372.30 L959.52,1371.30 L960.04,1370.30 L960.56,1369.30 L961.10,1368.30 L961.64,1367.30 L962.20,1366.30 L962.78,1365.30 L963.36,1364.30 L963.95,1363.30 L964.56,1362.30 L965.18,1361.30 L965.81,1360.30 L966.45,1359.30 L967.10,1358.30 L967.76,1357.30 L968.43,1356.30 L969.12,1355.30 L969.81,1354.30 L970.51,1353.30 L971.22,1352.30 L971.94,1351.30 L972.67,1350.30 L973.41,1349.30 L974.15,1348.30 L974.90,1347.30 L975.66,1346.30 L976.43,1345.30 L977.20,1344.30 L977.98,1343.30 L978.76,1342.30 L979.55,1341.30 L980.34,1340.30 L981.14,1339.30 L981.94,1338.30 L982.74,1337.30 L983.55,1336.30 L984.36,1335.30 L985.17,1334.30 L985.98,1333.30 L986.79,1332.30 L987.60,1331.30 L988.42,1330.30 L989.23,1329.30 L990.04,1328.30 L990.84,1327.30 L991.65,1326.30 L992.45,1325.30 L993.25,1324.30 L994.05,1323.30 L994.84,1322.30 L995.63,1321.30 L996.41,1320.30 L997.19,1319.30 L997.96,1318.30 L998.72,1317.30 L999.48,1316.30 L1000.23,1315.30 L1000.97,1314.30 L1001.70,1313.30 L1002.43,1312.30 L1003.15,1311.30 L1003.86,1310.30 L1004.56,1309.30 L1005.25,1308.30 L1005.93,1307.30 L1006.60,1306.30 L1007.26,1305.30 L1007.91,1304.30 L1008.55,1303.30 L1009.18,1302.30 L1009.79,1301.30 L1010.40,1300.30 L1010.99,1299.30 L1011.58,1298.30 L1012.15,1297.30 L1012.71,1296.30 L1013.25,1295.30 L1013.79,1294.30 L1014.31,1293.30 L1014.82,1292.30 L1015.32,1291.30 L1015.81,1290.30 L1016.29,1289.30 L1016.75,1288.30 L1017.20,1287.30 L1017.64,1286.30 L1018.07,1285.30 L1018.48,1284.30 L1018.89,1283.30 L1019.28,1282.30 L1019.66,1281.30 L1020.03,1280.30 L1020.39,1279.30 L1020.73,1278.30 L1021.07,1277.30 L1021.39,1276.30 L1021.71,1275.30 L1022.01,1274.30 L1022.30,1273.30 L1022.58,1272.30 L1022.85,1271.30 L1023.11,1270.30 L1023.36,1269.30 L1023.59,1268.30 L1023.82,1267.30 L1024.04,1266.30 L1024.25,1265.30 L1024.45,1264.30 L1024.64,1263.30 L1024.81,1262.30 L1024.98,1261.30 L1025.14,1260.30 L1025.29,1259.30 L1025.44,1258.30 L1025.57,1257.30 L1025.69,1256.30 L1025.80,1255.30 L1025.91,1254.30 L1026.01,1253.30 L1026.09,1252.30 L1026.17,1251.30 L1026.24,1250.30 L1026.30,1249.30 L1026.35,1248.30 L1026.40,1247.30 L1026.43,1246.30 L1026.46,1245.30 L1026.48,1244.30 L1026.49,1243.30 L1026.49,1242.30 L1026.49,1241.30 L1026.47,1240.30 L1026.45,1239.30 L1026.42,1238.30 L1026.38,1237.30 L1026.34,1236.30 L1026.28,1235.30 L1026.22,1234.30 L1026.15,1233.30 L1026.08,1232.30 L1025.99,1231.30 L1025.90,1230.30 L1025.80,1229.30 L1025.70,1228.30 L1025.59,1227.30 L1025.47,1226.30 L1025.34,1225.30 L1025.21,1224.30 L1025.07,1223.30 L1024.93,1222.30 L1024.78,1221.30 L1024.62,1220.30 L1024.46,1219.30 L1024.29,1218.30 L1024.12,1217.30 L1023.94,1216.30 L1023.76,1215.30 L1023.57,1214.30 L1023.38,1213.30 L1023.19,1212.30 L1022.99,1211.30 L1022.79,1210.30 L1022.59,1209.30 L1022.38,1208.30 L1022.17,1207.30 L1021.96,1206.30 L1021.74,1205.30 L1021.52,1204.30 L1021.31,1203.30 L1021.09,1202.30 L1020.87,1201.30 L1020.64,1200.30 L1020.42,1199.30 L1020.20,1198.30 L1019.98,1197.30 L1019.76,1196.30 L1019.53,1195.30 L1019.31,1194.30 L1019.09,1193.30 L1018.87,1192.30 L1018.65,1191.30 L1018.44,1190.30 L1018.22,1189.30 L1018.00,1188.30 L1017.79,1187.30 L1017.58,1186.30 L1017.37,1185.30 L1017.16,1184.30 L1016.96,1183.30 L1016.75,1182.30 L1016.55,1181.30 L1016.35,1180.30 L1016.15,1179.30 L1015.96,1178.30 L1015.76,1177.30 L1015.57,1176.30 L1015.38,1175.30 L1015.19,1174.30 L1015.00,1173.30 L1014.81,1172.30 L1014.63,1171.30 L1014.44,1170.30 L1014.26,1169.30 L1014.07,1168.30 L1013.89,1167.30 L1013.70,1166.30 L1013.51,1165.30 L1013.33,1164.30 L1013.14,1163.30 L1012.95,1162.30 L1012.76,1161.30 L1012.56,1160.30 L1012.37,1159.30 L1012.17,1158.30 L1011.96,1157.30 L1011.76,1156.30 L1011.55,1155.30 L1011.33,1154.30 L1011.11,1153.30 L1010.89,1152.30 L1010.66,1151.30 L1010.42,1150.30 L1010.18,1149.30 L1009.93,1148.30 L1009.68,1147.30 L1009.41,1146.30 L1009.14,1145.30 L1008.86,1144.30 L1008.58,1143.30 L1008.28,1142.30 L1007.98,1141.30 L1007.66,1140.30 L1007.34,1139.30 L1007.01,1138.30 L1006.66,1137.30 L1006.31,1136.30 L1005.95,1135.30 L1005.58,1134.30 L1005.19,1133.30 L1004.80,1132.30 L1004.39,1131.30 L1003.98,1130.30 L1003.55,1129.30 L1003.11,1128.30 L1002.66,1127.30 L1002.20,1126.30 L1001.73,1125.30 L1001.25,1124.30 L1000.75,1123.30 L1000.25,1122.30 L999.73,1121.30 L999.21,1120.30 L998.67,1119.30 L998.12,1118.30 L997.57,1117.30 L997.00,1116.30 L996.43,1115.30 L995.84,1114.30 L995.25,1113.30 L994.64,1112.30 L994.03,1111.30 L993.41,1110.30 L992.79,1109.30 L992.15,1108.30 L991.51,1107.30 L990.86,1106.30 L990.21,1105.30 L989.55,1104.30 L988.88,1103.30 L988.21,1102.30 L987.53,1101.30 L986.85,1100.30 L986.17,1099.30 L985.48,1098.30 L984.79,1097.30 L984.10,1096.30 L983.40,1095.30 L982.71,1094.30 L982.01,1093.30 L981.31,1092.30 L980.62,1091.30 L979.92,1090.30 L979.22,1089.30 L978.53,1088.30 L977.83,1087.30 L977.14,1086.30 L976.46,1085.30 L975.77,1084.30 L975.09,1083.30 L974.41,1082.30 L973.74,1081.30 L973.07,1080.30 L972.40,1079.30 L971.74,1078.30 L971.09,1077.30 L970.44,1076.30 L969.80,1075.30 L969.17,1074.30 L968.54,1073.30 L967.92,1072.30 L967.31,1071.30 L966.71,1070.30 L966.11,1069.30 L965.53,1068.30 L964.95,1067.30 L964.38,1066.30 L963.82,1065.30 L963.27,1064.30 L962.73,1063.30 L962.20,1062.30 L961.67,1061.30 L961.16,1060.30 L960.66,1059.30 L960.17,1058.30 L959.69,1057.30 L959.21,1056.30 L958.75,1055.30 L958.30,1054.30 L957.86,1053.30 L957.43,1052.30 L957.01,1051.30 L956.60,1050.30 L956.20,1049.30 L955.81,1048.30 L955.43,1047.30 L955.06,1046.30 L954.70,1045.30 L954.36,1044.30 L954.02,1043.30 L953.69,1042.30 L953.37,1041.30 L953.06,1040.30 L952.76,1039.30 L952.47,1038.30 L952.19,1037.30 L951.92,1036.30 L951.65,1035.30 L951.40,1034.30 L951.15,1033.30 L950.92,1032.30 L950.69,1031.30 L950.47,1030.30 L950.25,1029.30 L950.05,1028.30 L949.85,1027.30 L949.66,1026.30 L949.48,1025.30 L949.31,1024.30 L949.14,1023.30 L948.98,1022.30 L948.82,1021.30 L948.67,1020.30 L948.53,1019.30 L948.40,1018.30 L948.27,1017.30 L948.14,1016.30 L948.02,1015.30 L947.91,1014.30 L947.80,1013.30 L947.70,1012.30 L947.60,1011.30 L947.50,1010.30 L947.41,1009.30 L947.33,1008.30 L947.25,1007.30 L947.17,1006.30 L947.09,1005.30 L947.02,1004.30 L946.96,1003.30 L946.90,1002.30 L946.84,1001.30 L946.78,1000.30 L946.73,999.30 L946.67,998.30 L946.63,997.30 L946.58,996.30 L946.54,995.30 L946.50,994.30 L946.46,993.30 L946.42,992.30 L946.39,991.30 L946.36,990.30 L946.33,989.30 L946.30,988.30 L946.27,987.30 L946.25,986.30 L946.22,985.30 L946.20,984.30 L946.18,983.30 L946.16,982.30 L946.14,981.30 L946.13,980.30 L946.11,979.30 L946.10,978.30 L946.08,977.30 L945.90,976.30Z" fill="#000"/><path d="M1176.80,1068.70 L1176.63,1069.70 L1176.61,1070.70 L1176.60,1071.70 L1176.58,1072.70 L1176.56,1073.70 L1176.54,1074.70 L1176.52,1075.70 L1176.50,1076.70 L1176.47,1077.70 L1176.45,1078.70 L1176.42,1079.70 L1176.39,1080.70 L1176.36,1081.70 L1176.32,1082.70 L1176.28,1083.70 L1176.24,1084.70 L1176.20,1085.70 L1176.16,1086.70 L1176.11,1087.70 L1176.06,1088.70 L1176.01,1089.70 L1175.95,1090.70 L1175.89,1091.70 L1175.82,1092.70 L1175.75,1093.70 L1175.68,1094.70 L1175.60,1095.70 L1175.52,1096.70 L1175.43,1097.70 L1175.34,1098.70 L1175.24,1099.70 L1175.14,1100.70 L1175.03,1101.70 L1174.92,1102.70 L1174.80,1103.70 L1174.67,1104.70 L1174.53,1105.70 L1174.39,1106.70 L1174.24,1107.70 L1174.09,1108.70 L1173.92,1109.70 L1173.75,1110.70 L1173.57,1111.70 L1173.38,1112.70 L1173.18,1113.70 L1172.98,1114.70 L1172.76,1115.70 L1172.53,1116.70 L1172.29,1117.70 L1172.04,1118.70 L1171.78,1119.70 L1171.51,1120.70 L1171.23,1121.70 L1170.94,1122.70 L1170.63,1123.70 L1170.32,1124.70 L1169.99,1125.70 L1169.64,1126.70 L1169.29,1127.70 L1168.92,1128.70 L1168.53,1129.70 L1168.13,1130.70 L1167.72,1131.70 L1167.30,1132.70 L1166.86,1133.70 L1166.40,1134.70 L1165.93,1135.70 L1165.45,1136.70 L1164.95,1137.70 L1164.43,1138.70 L1163.90,1139.70 L1163.36,1140.70 L1162.79,1141.70 L1162.22,1142.70 L1161.62,1143.70 L1161.01,1144.70 L1160.39,1145.70 L1159.75,1146.70 L1159.09,1147.70 L1158.42,1148.70 L1157.73,1149.70 L1157.03,1150.70 L1156.31,1151.70 L1155.57,1152.70 L1154.83,1153.70 L1154.06,1154.70 L1153.28,1155.70 L1152.49,1156.70 L1151.68,1157.70 L1150.86,1158.70 L1150.03,1159.70 L1149.18,1160.70 L1148.32,1161.70 L1147.45,1162.70 L1146.56,1163.70 L1145.66,1164.70 L1144.76,1165.70 L1143.84,1166.70 L1142.91,1167.70 L1141.97,1168.70 L1141.03,1169.70 L1140.07,1170.70 L1139.11,1171.70 L1138.13,1172.70 L1137.16,1173.70 L1136.17,1174.70 L1135.18,1175.70 L1134.19,1176.70 L1133.19,1177.70 L1132.19,1178.70 L1131.18,1179.70 L1130.17,1180.70 L1129.17,1181.70 L1128.16,1182.70 L1127.15,1183.70 L1126.14,1184.70 L1125.13,1185.70 L1124.12,1186.70 L1123.12,1187.70 L1122.12,1188.70 L1121.12,1189.70 L1120.13,1190.70 L1119.14,1191.70 L1118.16,1192.70 L1117.19,1193.70 L1116.22,1194.70 L1115.26,1195.70 L1114.31,1196.70 L1113.37,1197.70 L1112.44,1198.70 L1111.52,1199.70 L1110.61,1200.70 L1109.71,1201.70 L1108.83,1202.70 L1107.95,1203.70 L1107.09,1204.70 L1106.25,1205.70 L1105.42,1206.70 L1104.60,1207.70 L1103.80,1208.70 L1103.01,1209.70 L1102.24,1210.70 L1101.48,1211.70 L1100.74,1212.70 L1100.02,1213.70 L1099.31,1214.70 L1098.62,1215.70 L1097.95,1216.70 L1097.30,1217.70 L1096.66,1218.70 L1096.04,1219.70 L1095.44,1220.70 L1094.86,1221.70 L1094.29,1222.70 L1093.75,1223.70 L1093.22,1224.70 L1092.71,1225.70 L1092.22,1226.70 L1091.74,1227.70 L1091.28,1228.70 L1090.85,1229.70 L1090.42,1230.70 L1090.02,1231.70 L1089.64,1232.70 L1089.27,1233.70 L1088.91,1234.70 L1088.58,1235.70 L1088.26,1236.70 L1087.96,1237.70 L1087.67,1238.70 L1087.40,1239.70 L1087.14,1240.70 L1086.90,1241.70 L1086.67,1242.70 L1086.46,1243.70 L1086.26,1244.70 L1086.08,1245.70 L1085.90,1246.70 L1085.74,1247.70 L1085.59,1248.70 L1085.46,1249.70 L1085.33,1250.70 L1085.22,1251.70 L1085.12,1252.70 L1085.02,1253.70 L1084.94,1254.70 L1084.87,1255.70 L1084.80,1256.70 L1084.74,1257.70 L1084.70,1258.70 L1084.65,1259.70 L1084.62,1260.70 L1084.60,1261.70 L1084.58,1262.70 L1084.56,1263.70 L1084.56,1264.70 L1084.56,1265.70 L1084.56,1266.70 L1084.57,1267.70 L1084.59,1268.70 L1084.61,1269.70 L1084.63,1270.70 L1084.66,1271.70 L1084.70,1272.70 L1084.74,1273.70 L1084.78,1274.70 L1084.83,1275.70 L1084.88,1276.70 L1084.94,1277.70 L1085.00,1278.70 L1085.06,1279.70 L1085.13,1280.70 L1085.20,1281.70 L1085.28,1282.70 L1085.37,1283.70 L1085.45,1284.70 L1085.55,1285.70 L1085.65,1286.70 L1085.75,1287.70 L1085.86,1288.70 L1085.98,1289.70 L1086.10,1290.70 L1086.23,1291.70 L1086.37,1292.70 L1086.51,1293.70 L1086.66,1294.70 L1086.82,1295.70 L1086.99,1296.70 L1087.17,1297.70 L1087.35,1298.70 L1087.55,1299.70 L1087.75,1300.70 L1087.97,1301.70 L1088.19,1302.70 L1088.43,1303.70 L1088.68,1304.70 L1088.94,1305.70 L1089.21,1306.70 L1089.49,1307.70 L1089.79,1308.70 L1090.09,1309.70 L1090.42,1310.70 L1090.75,1311.70 L1091.10,1312.70 L1091.46,1313.70 L1091.83,1314.70 L1092.22,1315.70 L1092.62,1316.70 L1093.04,1317.70 L1093.47,1318.70 L1093.91,1319.70 L1094.37,1320.70 L1094.84,1321.70 L1095.32,1322.70 L1095.82,1323.70 L1096.33,1324.70 L1096.86,1325.70 L1097.39,1326.70 L1097.95,1327.70 L1098.51,1328.70 L1099.09,1329.70 L1099.67,1330.70 L1100.27,1331.70 L1100.88,1332.70 L1101.51,1333.70 L1102.14,1334.70 L1102.78,1335.70 L1103.44,1336.70 L1104.10,1337.70 L1104.77,1338.70 L1105.45,1339.70 L1106.14,1340.70 L1106.83,1341.70 L1107.53,1342.70 L1108.24,1343.70 L1108.95,1344.70 L1109.67,1345.70 L1110.40,1346.70 L1111.13,1347.70 L1111.86,1348.70 L1112.60,1349.70 L1113.34,1350.70 L1114.08,1351.70 L1114.82,1352.70 L1115.57,1353.70 L1116.31,1354.70 L1117.06,1355.70 L1117.81,1356.70 L1118.56,1357.70 L1119.30,1358.70 L1120.05,1359.70 L1120.80,1360.70 L1121.54,1361.70 L1122.28,1362.70 L1123.02,1363.70 L1123.76,1364.70 L1124.49,1365.70 L1125.22,1366.70 L1125.95,1367.70 L1126.68,1368.70 L1127.40,1369.70 L1128.11,1370.70 L1128.83,1371.70 L1129.54,1372.70 L1130.25,1373.70 L1130.95,1374.70 L1131.65,1375.70 L1132.34,1376.70 L1133.03,1377.70 L1133.71,1378.70 L1134.39,1379.70 L1135.07,1380.70 L1135.74,1381.70 L1136.41,1382.70 L1137.07,1383.70 L1137.73,1384.70 L1138.39,1385.70 L1139.04,1386.70 L1139.68,1387.70 L1140.33,1388.70 L1140.96,1389.70 L1141.60,1390.70 L1142.23,1391.70 L1142.85,1392.70 L1143.47,1393.70 L1144.09,1394.70 L1144.70,1395.70 L1145.31,1396.70 L1145.91,1397.70 L1146.52,1398.70 L1147.11,1399.70 L1147.70,1400.70 L1148.29,1401.70 L1148.88,1402.70 L1149.46,1403.70 L1150.03,1404.70 L1150.60,1405.70 L1151.17,1406.70 L1151.73,1407.70 L1152.29,1408.70 L1152.85,1409.70 L1153.40,1410.70 L1153.94,1411.70 L1154.48,1412.70 L1155.01,1413.70 L1155.54,1414.70 L1156.07,1415.70 L1156.59,1416.70 L1157.10,1417.70 L1157.61,1418.70 L1158.11,1419.70 L1158.61,1420.70 L1159.10,1421.70 L1159.58,1422.70 L1160.06,1423.70 L1160.53,1424.70 L1161.00,1425.70 L1161.46,1426.70 L1161.91,1427.70 L1162.36,1428.70 L1162.80,1429.70 L1163.23,1430.70 L1163.65,1431.70 L1164.07,1432.70 L1164.48,1433.70 L1164.88,1434.70 L1165.28,1435.70 L1165.67,1436.70 L1166.05,1437.70 L1166.42,1438.70 L1166.78,1439.70 L1167.14,1440.70 L1167.49,1441.70 L1167.83,1442.70 L1168.16,1443.70 L1168.49,1444.70 L1168.80,1445.70 L1169.11,1446.70 L1169.41,1447.70 L1169.70,1448.70 L1169.99,1449.70 L1170.27,1450.70 L1170.53,1451.70 L1170.80,1452.70 L1171.05,1453.70 L1171.30,1454.70 L1171.53,1455.70 L1171.76,1456.70 L1171.99,1457.70 L1172.20,1458.70 L1172.41,1459.70 L1172.61,1460.70 L1172.81,1461.70 L1173.00,1462.70 L1173.18,1463.70 L1173.35,1464.70 L1173.52,1465.70 L1173.68,1466.70 L1173.84,1467.70 L1173.99,1468.70 L1174.13,1469.70 L1174.27,1470.70 L1174.40,1471.70 L1174.52,1472.70 L1174.65,1473.70 L1174.76,1474.70 L1174.87,1475.70 L1174.98,1476.70 L1175.08,1477.70 L1175.17,1478.70 L1175.27,1479.70 L1175.35,1480.70 L1175.44,1481.70 L1175.52,1482.70 L1175.59,1483.70 L1175.66,1484.70 L1175.73,1485.70 L1175.80,1486.70 L1175.86,1487.70 L1175.91,1488.70 L1175.97,1489.70 L1176.02,1490.70 L1176.07,1491.70 L1176.12,1492.70 L1176.16,1493.70 L1176.20,1494.70 L1176.24,1495.70 L1176.28,1496.70 L1176.31,1497.70 L1176.35,1498.70 L1176.38,1499.70 L1176.41,1500.70 L1176.43,1501.70 L1176.46,1502.70 L1176.48,1503.70 L1176.50,1504.70 L1176.53,1505.70 L1176.55,1506.70 L1176.56,1507.70 L1176.58,1508.70 L1176.60,1509.70 L1176.61,1510.70 L1176.63,1511.70 L1176.64,1512.70 L1176.65,1513.70 L1176.66,1514.70 L1176.67,1515.70 L1176.68,1516.70 L1176.80,1517.30 L1176.80,1517.30 L1176.92,1516.70 L1176.93,1515.70 L1176.94,1514.70 L1176.95,1513.70 L1176.96,1512.70 L1176.97,1511.70 L1176.99,1510.70 L1177.00,1509.70 L1177.02,1508.70 L1177.04,1507.70 L1177.05,1506.70 L1177.07,1505.70 L1177.10,1504.70 L1177.12,1503.70 L1177.14,1502.70 L1177.17,1501.70 L1177.19,1500.70 L1177.22,1499.70 L1177.25,1498.70 L1177.29,1497.70 L1177.32,1496.70 L1177.36,1495.70 L1177.40,1494.70 L1177.44,1493.70 L1177.48,1492.70 L1177.53,1491.70 L1177.58,1490.70 L1177.63,1489.70 L1177.69,1488.70 L1177.74,1487.70 L1177.80,1486.70 L1177.87,1485.70 L1177.94,1484.70 L1178.01,1483.70 L1178.08,1482.70 L1178.16,1481.70 L1178.25,1480.70 L1178.33,1479.70 L1178.43,1478.70 L1178.52,1477.70 L1178.62,1476.70 L1178.73,1475.70 L1178.84,1474.70 L1178.95,1473.70 L1179.08,1472.70 L1179.20,1471.70 L1179.33,1470.70 L1179.47,1469.70 L1179.61,1468.70 L1179.76,1467.70 L1179.92,1466.70 L1180.08,1465.70 L1180.25,1464.70 L1180.42,1463.70 L1180.60,1462.70 L1180.79,1461.70 L1180.99,1460.70 L1181.19,1459.70 L1181.40,1458.70 L1181.61,1457.70 L1181.84,1456.70 L1182.07,1455.70 L1182.30,1454.70 L1182.55,1453.70 L1182.80,1452.70 L1183.07,1451.70 L1183.33,1450.70 L1183.61,1449.70 L1183.90,1448.70 L1184.19,1447.70 L1184.49,1446.70 L1184.80,1445.70 L1185.11,1444.70 L1185.44,1443.70 L1185.77,1442.70 L1186.11,1441.70 L1186.46,1440.70 L1186.82,1439.70 L1187.18,1438.70 L1187.55,1437.70 L1187.93,1436.70 L1188.32,1435.70 L1188.72,1434.70 L1189.12,1433.70 L1189.53,1432.70 L1189.95,1431.70 L1190.37,1430.70 L1190.80,1429.70 L1191.24,1428.70 L1191.69,1427.70 L1192.14,1426.70 L1192.60,1425.70 L1193.07,1424.70 L1193.54,1423.70 L1194.02,1422.70 L1194.50,1421.70 L1194.99,1420.70 L1195.49,1419.70 L1195.99,1418.70 L1196.50,1417.70 L1197.01,1416.70 L1197.53,1415.70 L1198.06,1414.70 L1198.59,1413.70 L1199.12,1412.70 L1199.66,1411.70 L1200.20,1410.70 L1200.75,1409.70 L1201.31,1408.70 L1201.87,1407.70 L1202.43,1406.70 L1203.00,1405.70 L1203.57,1404.70 L1204.14,1403.70 L1204.72,1402.70 L1205.31,1401.70 L1205.90,1400.70 L1206.49,1399.70 L1207.08,1398.70 L1207.69,1397.70 L1208.29,1396.70 L1208.90,1395.70 L1209.51,1394.70 L1210.13,1393.70 L1210.75,1392.70 L1211.37,1391.70 L1212.00,1390.70 L1212.64,1389.70 L1213.27,1388.70 L1213.92,1387.70 L1214.56,1386.70 L1215.21,1385.70 L1215.87,1384.70 L1216.53,1383.70 L1217.19,1382.70 L1217.86,1381.70 L1218.53,1380.70 L1219.21,1379.70 L1219.89,1378.70 L1220.57,1377.70 L1221.26,1376.70 L1221.95,1375.70 L1222.65,1374.70 L1223.35,1373.70 L1224.06,1372.70 L1224.77,1371.70 L1225.49,1370.70 L1226.20,1369.70 L1226.92,1368.70 L1227.65,1367.70 L1228.38,1366.70 L1229.11,1365.70 L1229.84,1364.70 L1230.58,1363.70 L1231.32,1362.70 L1232.06,1361.70 L1232.80,1360.70 L1233.55,1359.70 L1234.30,1358.70 L1235.04,1357.70 L1235.79,1356.70 L1236.54,1355.70 L1237.29,1354.70 L1238.03,1353.70 L1238.78,1352.70 L1239.52,1351.70 L1240.26,1350.70 L1241.00,1349.70 L1241.74,1348.70 L1242.47,1347.70 L1243.20,1346.70 L1243.93,1345.70 L1244.65,1344.70 L1245.36,1343.70 L1246.07,1342.70 L1246.77,1341.70 L1247.46,1340.70 L1248.15,1339.70 L1248.83,1338.70 L1249.50,1337.70 L1250.16,1336.70 L1250.82,1335.70 L1251.46,1334.70 L1252.09,1333.70 L1252.72,1332.70 L1253.33,1331.70 L1253.93,1330.70 L1254.51,1329.70 L1255.09,1328.70 L1255.65,1327.70 L1256.21,1326.70 L1256.74,1325.70 L1257.27,1324.70 L1257.78,1323.70 L1258.28,1322.70 L1258.76,1321.70 L1259.23,1320.70 L1259.69,1319.70 L1260.13,1318.70 L1260.56,1317.70 L1260.98,1316.70 L1261.38,1315.70 L1261.77,1314.70 L1262.14,1313.70 L1262.50,1312.70 L1262.85,1311.70 L1263.18,1310.70 L1263.51,1309.70 L1263.81,1308.70 L1264.11,1307.70 L1264.39,1306.70 L1264.66,1305.70 L1264.92,1304.70 L1265.17,1303.70 L1265.41,1302.70 L1265.63,1301.70 L1265.85,1300.70 L1266.05,1299.70 L1266.25,1298.70 L1266.43,1297.70 L1266.61,1296.70 L1266.78,1295.70 L1266.94,1294.70 L1267.09,1293.70 L1267.23,1292.70 L1267.37,1291.70 L1267.50,1290.70 L1267.62,1289.70 L1267.74,1288.70 L1267.85,1287.70 L1267.95,1286.70 L1268.05,1285.70 L1268.15,1284.70 L1268.23,1283.70 L1268.32,1282.70 L1268.40,1281.70 L1268.47,1280.70 L1268.54,1279.70 L1268.60,1278.70 L1268.66,1277.70 L1268.72,1276.70 L1268.77,1275.70 L1268.82,1274.70 L1268.86,1273.70 L1268.90,1272.70 L1268.94,1271.70 L1268.97,1270.70 L1268.99,1269.70 L1269.01,1268.70 L1269.03,1267.70 L1269.04,1266.70 L1269.04,1265.70 L1269.04,1264.70 L1269.04,1263.70 L1269.02,1262.70 L1269.00,1261.70 L1268.98,1260.70 L1268.95,1259.70 L1268.90,1258.70 L1268.86,1257.70 L1268.80,1256.70 L1268.73,1255.70 L1268.66,1254.70 L1268.58,1253.70 L1268.48,1252.70 L1268.38,1251.70 L1268.27,1250.70 L1268.14,1249.70 L1268.01,1248.70 L1267.86,1247.70 L1267.70,1246.70 L1267.52,1245.70 L1267.34,1244.70 L1267.14,1243.70 L1266.93,1242.70 L1266.70,1241.70 L1266.46,1240.70 L1266.20,1239.70 L1265.93,1238.70 L1265.64,1237.70 L1265.34,1236.70 L1265.02,1235.70 L1264.69,1234.70 L1264.33,1233.70 L1263.96,1232.70 L1263.58,1231.70 L1263.18,1230.70 L1262.75,1229.70 L1262.32,1228.70 L1261.86,1227.70 L1261.38,1226.70 L1260.89,1225.70 L1260.38,1224.70 L1259.85,1223.70 L1259.31,1222.70 L1258.74,1221.70 L1258.16,1220.70 L1257.56,1219.70 L1256.94,1218.70 L1256.30,1217.70 L1255.65,1216.70 L1254.98,1215.70 L1254.29,1214.70 L1253.58,1213.70 L1252.86,1212.70 L1252.12,1211.70 L1251.36,1210.70 L1250.59,1209.70 L1249.80,1208.70 L1249.00,1207.70 L1248.18,1206.70 L1247.35,1205.70 L1246.51,1204.70 L1245.65,1203.70 L1244.77,1202.70 L1243.89,1201.70 L1242.99,1200.70 L1242.08,1199.70 L1241.16,1198.70 L1240.23,1197.70 L1239.29,1196.70 L1238.34,1195.70 L1237.38,1194.70 L1236.41,1193.70 L1235.44,1192.70 L1234.46,1191.70 L1233.47,1190.70 L1232.48,1189.70 L1231.48,1188.70 L1230.48,1187.70 L1229.48,1186.70 L1228.47,1185.70 L1227.46,1184.70 L1226.45,1183.70 L1225.44,1182.70 L1224.43,1181.70 L1223.43,1180.70 L1222.42,1179.70 L1221.41,1178.70 L1220.41,1177.70 L1219.41,1176.70 L1218.42,1175.70 L1217.43,1174.70 L1216.44,1173.70 L1215.47,1172.70 L1214.49,1171.70 L1213.53,1170.70 L1212.57,1169.70 L1211.63,1168.70 L1210.69,1167.70 L1209.76,1166.70 L1208.84,1165.70 L1207.94,1164.70 L1207.04,1163.70 L1206.15,1162.70 L1205.28,1161.70 L1204.42,1160.70 L1203.57,1159.70 L1202.74,1158.70 L1201.92,1157.70 L1201.11,1156.70 L1200.32,1155.70 L1199.54,1154.70 L1198.77,1153.70 L1198.03,1152.70 L1197.29,1151.70 L1196.57,1150.70 L1195.87,1149.70 L1195.18,1148.70 L1194.51,1147.70 L1193.85,1146.70 L1193.21,1145.70 L1192.59,1144.70 L1191.98,1143.70 L1191.38,1142.70 L1190.81,1141.70 L1190.24,1140.70 L1189.70,1139.70 L1189.17,1138.70 L1188.65,1137.70 L1188.15,1136.70 L1187.67,1135.70 L1187.20,1134.70 L1186.74,1133.70 L1186.30,1132.70 L1185.88,1131.70 L1185.47,1130.70 L1185.07,1129.70 L1184.68,1128.70 L1184.31,1127.70 L1183.96,1126.70 L1183.61,1125.70 L1183.28,1124.70 L1182.97,1123.70 L1182.66,1122.70 L1182.37,1121.70 L1182.09,1120.70 L1181.82,1119.70 L1181.56,1118.70 L1181.31,1117.70 L1181.07,1116.70 L1180.84,1115.70 L1180.62,1114.70 L1180.42,1113.70 L1180.22,1112.70 L1180.03,1111.70 L1179.85,1110.70 L1179.68,1109.70 L1179.51,1108.70 L1179.36,1107.70 L1179.21,1106.70 L1179.07,1105.70 L1178.93,1104.70 L1178.80,1103.70 L1178.68,1102.70 L1178.57,1101.70 L1178.46,1100.70 L1178.36,1099.70 L1178.26,1098.70 L1178.17,1097.70 L1178.08,1096.70 L1178.00,1095.70 L1177.92,1094.70 L1177.85,1093.70 L1177.78,1092.70 L1177.71,1091.70 L1177.65,1090.70 L1177.59,1089.70 L1177.54,1088.70 L1177.49,1087.70 L1177.44,1086.70 L1177.40,1085.70 L1177.36,1084.70 L1177.32,1083.70 L1177.28,1082.70 L1177.24,1081.70 L1177.21,1080.70 L1177.18,1079.70 L1177.15,1078.70 L1177.13,1077.70 L1177.10,1076.70 L1177.08,1075.70 L1177.06,1074.70 L1177.04,1073.70 L1177.02,1072.70 L1177.00,1071.70 L1176.99,1070.70 L1176.97,1069.70 L1176.80,1068.70Z" fill="#000"/><line x1="831.6" y1="1217.4" x2="1060.2" y2="1217.4" stroke="#000" stroke-width="3.6" stroke-linecap="round"/><line x1="1062.5" y1="1280.4" x2="1291.1" y2="1280.4" stroke="#000" stroke-width="3.6" stroke-linecap="round"/><line x1="926.3" y1="1108.4" x2="965.5" y2="1108.4" stroke="#b8b8b8" stroke-width="2.6"/><line x1="926.3" y1="1130.7" x2="965.5" y2="1130.7" stroke="#b8b8b8" stroke-width="2.6"/><line x1="926.3" y1="1148.7" x2="965.5" y2="1148.7" stroke="#fff" stroke-width="2.6"/><line x1="926.3" y1="1175.6" x2="965.5" y2="1175.6" stroke="#b8b8b8" stroke-width="2.6"/><line x1="926.3" y1="1207.8" x2="965.5" y2="1207.8" stroke="#fff" stroke-width="2.6"/><line x1="926.3" y1="1222.1" x2="965.5" y2="1222.1" stroke="#fff" stroke-width="2.6"/><line x1="926.3" y1="1245.7" x2="965.5" y2="1245.7" stroke="#b8b8b8" stroke-width="2.6"/><line x1="926.3" y1="1262.5" x2="965.5" y2="1262.5" stroke="#b8b8b8" stroke-width="2.6"/><line x1="926.3" y1="1269.4" x2="965.5" y2="1269.4" stroke="#b8b8b8" stroke-width="2.6"/><line x1="926.3" y1="1311.3" x2="965.5" y2="1311.3" stroke="#fff" stroke-width="4.0"/><line x1="1157.2" y1="1201" x2="1196.3999999999999" y2="1201" stroke="#b8b8b8" stroke-width="2.6"/><line x1="1157.2" y1="1224.9" x2="1196.3999999999999" y2="1224.9" stroke="#fff" stroke-width="2.6"/><line x1="1157.2" y1="1228.4" x2="1196.3999999999999" y2="1228.4" stroke="#b8b8b8" stroke-width="2.6"/><line x1="1157.2" y1="1258.9" x2="1196.3999999999999" y2="1258.9" stroke="#b8b8b8" stroke-width="2.6"/><line x1="1157.2" y1="1275.6" x2="1196.3999999999999" y2="1275.6" stroke="#b8b8b8" stroke-width="2.6"/><line x1="1157.2" y1="1307.8" x2="1196.3999999999999" y2="1307.8" stroke="#b8b8b8" stroke-width="2.6"/><line x1="1157.2" y1="1316.7" x2="1196.3999999999999" y2="1316.7" stroke="#fff" stroke-width="2.6"/><line x1="1157.2" y1="1324.6" x2="1196.3999999999999" y2="1324.6" stroke="#fff" stroke-width="2.6"/><line x1="1157.2" y1="1335.4" x2="1196.3999999999999" y2="1335.4" stroke="#b8b8b8" stroke-width="2.6"/><line x1="1157.2" y1="1386" x2="1196.3999999999999" y2="1386" stroke="#fff" stroke-width="2.6"/><rect x="812.2" y="954.6" width="498.4" height="585.9" fill="none" stroke="#222" stroke-width="2.3" stroke-linejoin="round"/><line x1="796.2" y1="1331.90" x2="812.2" y2="1331.90" stroke="#222" stroke-width="2.2"/><text x="0" y="0" transform="translate(775.9000000000001,1332.90) rotate(-90)" text-anchor="middle" font-size="25" fill="#111">40</text><line x1="796.2" y1="1186.50" x2="812.2" y2="1186.50" stroke="#222" stroke-width="2.2"/><text x="0" y="0" transform="translate(775.9000000000001,1187.50) rotate(-90)" text-anchor="middle" font-size="25" fill="#111">60</text><line x1="796.2" y1="1083.34" x2="812.2" y2="1083.34" stroke="#222" stroke-width="2.2"/><text x="0" y="0" transform="translate(775.9000000000001,1084.34) rotate(-90)" text-anchor="middle" font-size="25" fill="#111">80</text><line x1="796.2" y1="1003.32" x2="812.2" y2="1003.32" stroke="#222" stroke-width="2.2"/><text x="0" y="0" transform="translate(775.9000000000001,1004.32) rotate(-90)" text-anchor="middle" font-size="25" fill="#111">100</text><line x1="945.9" y1="1540.5" x2="945.9" y2="1556.0" stroke="#222" stroke-width="2.2"/><line x1="1176.8" y1="1540.5" x2="1176.8" y2="1556.0" stroke="#222" stroke-width="2.2"/><text x="959.8" y="1590.0" text-anchor="middle" font-size="33" font-weight="bold" fill="#111">Pre-Exercise</text><text x="1213.4" y="1590.0" text-anchor="middle" font-size="33" font-weight="bold" fill="#111">Post-Exercise</text><text x="1064.0" y="920.6" text-anchor="middle" font-size="38" font-weight="bold" fill="#111">Ornithine</text><text x="0" y="0" transform="translate(718.8,1365.0) rotate(-90)" font-size="38" font-weight="bold" fill="#111">Ornithine, µM</text><line x1="1018.3" y1="1042.5" x2="1148.2" y2="1042.5" stroke="#b0b0b0" stroke-width="3" stroke-linecap="round"/><text x="1085.0" y="1038.9" text-anchor="middle" font-size="26" font-weight="bold" letter-spacing="3.1" fill="#111">*</text></g>
<g><line x1="1497.6" y1="1250.0" x2="1996.0" y2="1250.0" stroke="#606060" stroke-width="3" stroke-dasharray="3,9.85"/><path d="M1631.50,976.30 L1631.33,977.30 L1631.31,978.30 L1631.30,979.30 L1631.29,980.30 L1631.27,981.30 L1631.26,982.30 L1631.24,983.30 L1631.22,984.30 L1631.20,985.30 L1631.18,986.30 L1631.16,987.30 L1631.14,988.30 L1631.12,989.30 L1631.09,990.30 L1631.07,991.30 L1631.04,992.30 L1631.01,993.30 L1630.98,994.30 L1630.94,995.30 L1630.91,996.30 L1630.87,997.30 L1630.84,998.30 L1630.79,999.30 L1630.75,1000.30 L1630.71,1001.30 L1630.66,1002.30 L1630.61,1003.30 L1630.56,1004.30 L1630.50,1005.30 L1630.45,1006.30 L1630.39,1007.30 L1630.32,1008.30 L1630.26,1009.30 L1630.19,1010.30 L1630.11,1011.30 L1630.04,1012.30 L1629.96,1013.30 L1629.87,1014.30 L1629.79,1015.30 L1629.69,1016.30 L1629.60,1017.30 L1629.50,1018.30 L1629.40,1019.30 L1629.29,1020.30 L1629.17,1021.30 L1629.06,1022.30 L1628.93,1023.30 L1628.81,1024.30 L1628.67,1025.30 L1628.54,1026.30 L1628.39,1027.30 L1628.24,1028.30 L1628.09,1029.30 L1627.93,1030.30 L1627.76,1031.30 L1627.59,1032.30 L1627.41,1033.30 L1627.22,1034.30 L1627.03,1035.30 L1626.83,1036.30 L1626.63,1037.30 L1626.41,1038.30 L1626.19,1039.30 L1625.97,1040.30 L1625.73,1041.30 L1625.49,1042.30 L1625.24,1043.30 L1624.98,1044.30 L1624.72,1045.30 L1624.45,1046.30 L1624.16,1047.30 L1623.88,1048.30 L1623.58,1049.30 L1623.27,1050.30 L1622.96,1051.30 L1622.64,1052.30 L1622.31,1053.30 L1621.97,1054.30 L1621.62,1055.30 L1621.26,1056.30 L1620.90,1057.30 L1620.52,1058.30 L1620.14,1059.30 L1619.75,1060.30 L1619.35,1061.30 L1618.94,1062.30 L1618.53,1063.30 L1618.10,1064.30 L1617.67,1065.30 L1617.22,1066.30 L1616.77,1067.30 L1616.31,1068.30 L1615.84,1069.30 L1615.37,1070.30 L1614.88,1071.30 L1614.39,1072.30 L1613.89,1073.30 L1613.38,1074.30 L1612.87,1075.30 L1612.35,1076.30 L1611.82,1077.30 L1611.28,1078.30 L1610.73,1079.30 L1610.18,1080.30 L1609.63,1081.30 L1609.06,1082.30 L1608.49,1083.30 L1607.92,1084.30 L1607.34,1085.30 L1606.75,1086.30 L1606.16,1087.30 L1605.56,1088.30 L1604.96,1089.30 L1604.36,1090.30 L1603.75,1091.30 L1603.13,1092.30 L1602.52,1093.30 L1601.90,1094.30 L1601.28,1095.30 L1600.65,1096.30 L1600.02,1097.30 L1599.40,1098.30 L1598.76,1099.30 L1598.13,1100.30 L1597.50,1101.30 L1596.87,1102.30 L1596.23,1103.30 L1595.60,1104.30 L1594.97,1105.30 L1594.34,1106.30 L1593.71,1107.30 L1593.08,1108.30 L1592.45,1109.30 L1591.82,1110.30 L1591.20,1111.30 L1590.57,1112.30 L1589.96,1113.30 L1589.34,1114.30 L1588.73,1115.30 L1588.12,1116.30 L1587.51,1117.30 L1586.91,1118.30 L1586.31,1119.30 L1585.72,1120.30 L1585.13,1121.30 L1584.55,1122.30 L1583.97,1123.30 L1583.40,1124.30 L1582.83,1125.30 L1582.27,1126.30 L1581.72,1127.30 L1581.17,1128.30 L1580.62,1129.30 L1580.08,1130.30 L1579.55,1131.30 L1579.02,1132.30 L1578.50,1133.30 L1577.99,1134.30 L1577.48,1135.30 L1576.98,1136.30 L1576.48,1137.30 L1575.99,1138.30 L1575.51,1139.30 L1575.03,1140.30 L1574.56,1141.30 L1574.10,1142.30 L1573.64,1143.30 L1573.18,1144.30 L1572.73,1145.30 L1572.29,1146.30 L1571.85,1147.30 L1571.42,1148.30 L1570.99,1149.30 L1570.57,1150.30 L1570.15,1151.30 L1569.74,1152.30 L1569.33,1153.30 L1568.93,1154.30 L1568.53,1155.30 L1568.13,1156.30 L1567.74,1157.30 L1567.35,1158.30 L1566.96,1159.30 L1566.58,1160.30 L1566.20,1161.30 L1565.82,1162.30 L1565.45,1163.30 L1565.08,1164.30 L1564.71,1165.30 L1564.34,1166.30 L1563.98,1167.30 L1563.61,1168.30 L1563.25,1169.30 L1562.89,1170.30 L1562.53,1171.30 L1562.17,1172.30 L1561.81,1173.30 L1561.46,1174.30 L1561.10,1175.30 L1560.75,1176.30 L1560.39,1177.30 L1560.04,1178.30 L1559.69,1179.30 L1559.33,1180.30 L1558.98,1181.30 L1558.63,1182.30 L1558.28,1183.30 L1557.93,1184.30 L1557.58,1185.30 L1557.23,1186.30 L1556.88,1187.30 L1556.53,1188.30 L1556.18,1189.30 L1555.84,1190.30 L1555.49,1191.30 L1555.14,1192.30 L1554.80,1193.30 L1554.46,1194.30 L1554.12,1195.30 L1553.78,1196.30 L1553.44,1197.30 L1553.10,1198.30 L1552.77,1199.30 L1552.43,1200.30 L1552.11,1201.30 L1551.78,1202.30 L1551.45,1203.30 L1551.13,1204.30 L1550.81,1205.30 L1550.50,1206.30 L1550.19,1207.30 L1549.88,1208.30 L1549.58,1209.30 L1549.28,1210.30 L1548.98,1211.30 L1548.69,1212.30 L1548.41,1213.30 L1548.13,1214.30 L1547.85,1215.30 L1547.59,1216.30 L1547.32,1217.30 L1547.07,1218.30 L1546.82,1219.30 L1546.57,1220.30 L1546.34,1221.30 L1546.10,1222.30 L1545.88,1223.30 L1545.67,1224.30 L1545.46,1225.30 L1545.26,1226.30 L1545.06,1227.30 L1544.88,1228.30 L1544.70,1229.30 L1544.53,1230.30 L1544.37,1231.30 L1544.22,1232.30 L1544.07,1233.30 L1543.94,1234.30 L1543.81,1235.30 L1543.70,1236.30 L1543.59,1237.30 L1543.49,1238.30 L1543.40,1239.30 L1543.32,1240.30 L1543.25,1241.30 L1543.19,1242.30 L1543.14,1243.30 L1543.10,1244.30 L1543.07,1245.30 L1543.05,1246.30 L1543.04,1247.30 L1543.03,1248.30 L1543.04,1249.30 L1543.06,1250.30 L1543.09,1251.30 L1543.13,1252.30 L1543.18,1253.30 L1543.24,1254.30 L1543.31,1255.30 L1543.39,1256.30 L1543.49,1257.30 L1543.59,1258.30 L1543.70,1259.30 L1543.83,1260.30 L1543.96,1261.30 L1544.11,1262.30 L1544.27,1263.30 L1544.43,1264.30 L1544.61,1265.30 L1544.81,1266.30 L1545.01,1267.30 L1545.22,1268.30 L1545.45,1269.30 L1545.69,1270.30 L1545.94,1271.30 L1546.20,1272.30 L1546.47,1273.30 L1546.76,1274.30 L1547.05,1275.30 L1547.36,1276.30 L1547.69,1277.30 L1548.02,1278.30 L1548.37,1279.30 L1548.73,1280.30 L1549.10,1281.30 L1549.49,1282.30 L1549.89,1283.30 L1550.30,1284.30 L1550.72,1285.30 L1551.16,1286.30 L1551.61,1287.30 L1552.07,1288.30 L1552.55,1289.30 L1553.04,1290.30 L1553.54,1291.30 L1554.06,1292.30 L1554.58,1293.30 L1555.13,1294.30 L1555.68,1295.30 L1556.25,1296.30 L1556.83,1297.30 L1557.42,1298.30 L1558.03,1299.30 L1558.65,1300.30 L1559.28,1301.30 L1559.92,1302.30 L1560.58,1303.30 L1561.25,1304.30 L1561.93,1305.30 L1562.62,1306.30 L1563.32,1307.30 L1564.04,1308.30 L1564.76,1309.30 L1565.50,1310.30 L1566.24,1311.30 L1567.00,1312.30 L1567.76,1313.30 L1568.54,1314.30 L1569.32,1315.30 L1570.12,1316.30 L1570.92,1317.30 L1571.73,1318.30 L1572.55,1319.30 L1573.37,1320.30 L1574.20,1321.30 L1575.04,1322.30 L1575.88,1323.30 L1576.73,1324.30 L1577.58,1325.30 L1578.44,1326.30 L1579.30,1327.30 L1580.17,1328.30 L1581.03,1329.30 L1581.90,1330.30 L1582.78,1331.30 L1583.65,1332.30 L1584.53,1333.30 L1585.40,1334.30 L1586.28,1335.30 L1587.15,1336.30 L1588.02,1337.30 L1588.90,1338.30 L1589.77,1339.30 L1590.63,1340.30 L1591.50,1341.30 L1592.36,1342.30 L1593.21,1343.30 L1594.07,1344.30 L1594.91,1345.30 L1595.76,1346.30 L1596.59,1347.30 L1597.42,1348.30 L1598.24,1349.30 L1599.06,1350.30 L1599.87,1351.30 L1600.67,1352.30 L1601.46,1353.30 L1602.24,1354.30 L1603.02,1355.30 L1603.78,1356.30 L1604.53,1357.30 L1605.28,1358.30 L1606.01,1359.30 L1606.74,1360.30 L1607.45,1361.30 L1608.15,1362.30 L1608.85,1363.30 L1609.53,1364.30 L1610.19,1365.30 L1610.85,1366.30 L1611.49,1367.30 L1612.13,1368.30 L1612.75,1369.30 L1613.36,1370.30 L1613.95,1371.30 L1614.53,1372.30 L1615.11,1373.30 L1615.66,1374.30 L1616.21,1375.30 L1616.74,1376.30 L1617.26,1377.30 L1617.77,1378.30 L1618.27,1379.30 L1618.75,1380.30 L1619.22,1381.30 L1619.68,1382.30 L1620.13,1383.30 L1620.56,1384.30 L1620.98,1385.30 L1621.39,1386.30 L1621.79,1387.30 L1622.18,1388.30 L1622.55,1389.30 L1622.91,1390.30 L1623.27,1391.30 L1623.61,1392.30 L1623.94,1393.30 L1624.26,1394.30 L1624.57,1395.30 L1624.87,1396.30 L1625.16,1397.30 L1625.44,1398.30 L1625.70,1399.30 L1625.96,1400.30 L1626.21,1401.30 L1626.46,1402.30 L1626.69,1403.30 L1626.91,1404.30 L1627.13,1405.30 L1627.33,1406.30 L1627.53,1407.30 L1627.72,1408.30 L1627.91,1409.30 L1628.08,1410.30 L1628.25,1411.30 L1628.41,1412.30 L1628.57,1413.30 L1628.72,1414.30 L1628.86,1415.30 L1629.00,1416.30 L1629.13,1417.30 L1629.25,1418.30 L1629.37,1419.30 L1629.48,1420.30 L1629.59,1421.30 L1629.69,1422.30 L1629.79,1423.30 L1629.89,1424.30 L1629.97,1425.30 L1630.06,1426.30 L1630.14,1427.30 L1630.22,1428.30 L1630.29,1429.30 L1630.36,1430.30 L1630.43,1431.30 L1630.49,1432.30 L1630.55,1433.30 L1630.60,1434.30 L1630.66,1435.30 L1630.71,1436.30 L1630.75,1437.30 L1630.80,1438.30 L1630.84,1439.30 L1630.88,1440.30 L1630.92,1441.30 L1630.96,1442.30 L1630.99,1443.30 L1631.02,1444.30 L1631.05,1445.30 L1631.08,1446.30 L1631.11,1447.30 L1631.13,1448.30 L1631.16,1449.30 L1631.18,1450.30 L1631.20,1451.30 L1631.22,1452.30 L1631.24,1453.30 L1631.26,1454.30 L1631.27,1455.30 L1631.29,1456.30 L1631.30,1457.30 L1631.32,1458.30 L1631.33,1459.30 L1631.34,1460.30 L1631.35,1461.30 L1631.36,1462.30 L1631.37,1463.30 L1631.38,1464.30 L1631.50,1465.20 L1631.50,1465.20 L1631.62,1464.30 L1631.63,1463.30 L1631.64,1462.30 L1631.65,1461.30 L1631.66,1460.30 L1631.67,1459.30 L1631.68,1458.30 L1631.70,1457.30 L1631.71,1456.30 L1631.73,1455.30 L1631.74,1454.30 L1631.76,1453.30 L1631.78,1452.30 L1631.80,1451.30 L1631.82,1450.30 L1631.84,1449.30 L1631.87,1448.30 L1631.89,1447.30 L1631.92,1446.30 L1631.95,1445.30 L1631.98,1444.30 L1632.01,1443.30 L1632.04,1442.30 L1632.08,1441.30 L1632.12,1440.30 L1632.16,1439.30 L1632.20,1438.30 L1632.25,1437.30 L1632.29,1436.30 L1632.34,1435.30 L1632.40,1434.30 L1632.45,1433.30 L1632.51,1432.30 L1632.57,1431.30 L1632.64,1430.30 L1632.71,1429.30 L1632.78,1428.30 L1632.86,1427.30 L1632.94,1426.30 L1633.03,1425.30 L1633.11,1424.30 L1633.21,1423.30 L1633.31,1422.30 L1633.41,1421.30 L1633.52,1420.30 L1633.63,1419.30 L1633.75,1418.30 L1633.87,1417.30 L1634.00,1416.30 L1634.14,1415.30 L1634.28,1414.30 L1634.43,1413.30 L1634.59,1412.30 L1634.75,1411.30 L1634.92,1410.30 L1635.09,1409.30 L1635.28,1408.30 L1635.47,1407.30 L1635.67,1406.30 L1635.87,1405.30 L1636.09,1404.30 L1636.31,1403.30 L1636.54,1402.30 L1636.79,1401.30 L1637.04,1400.30 L1637.30,1399.30 L1637.56,1398.30 L1637.84,1397.30 L1638.13,1396.30 L1638.43,1395.30 L1638.74,1394.30 L1639.06,1393.30 L1639.39,1392.30 L1639.73,1391.30 L1640.09,1390.30 L1640.45,1389.30 L1640.82,1388.30 L1641.21,1387.30 L1641.61,1386.30 L1642.02,1385.30 L1642.44,1384.30 L1642.87,1383.30 L1643.32,1382.30 L1643.78,1381.30 L1644.25,1380.30 L1644.73,1379.30 L1645.23,1378.30 L1645.74,1377.30 L1646.26,1376.30 L1646.79,1375.30 L1647.34,1374.30 L1647.89,1373.30 L1648.47,1372.30 L1649.05,1371.30 L1649.64,1370.30 L1650.25,1369.30 L1650.87,1368.30 L1651.51,1367.30 L1652.15,1366.30 L1652.81,1365.30 L1653.47,1364.30 L1654.15,1363.30 L1654.85,1362.30 L1655.55,1361.30 L1656.26,1360.30 L1656.99,1359.30 L1657.72,1358.30 L1658.47,1357.30 L1659.22,1356.30 L1659.98,1355.30 L1660.76,1354.30 L1661.54,1353.30 L1662.33,1352.30 L1663.13,1351.30 L1663.94,1350.30 L1664.76,1349.30 L1665.58,1348.30 L1666.41,1347.30 L1667.24,1346.30 L1668.09,1345.30 L1668.93,1344.30 L1669.79,1343.30 L1670.64,1342.30 L1671.50,1341.30 L1672.37,1340.30 L1673.23,1339.30 L1674.10,1338.30 L1674.98,1337.30 L1675.85,1336.30 L1676.72,1335.30 L1677.60,1334.30 L1678.47,1333.30 L1679.35,1332.30 L1680.22,1331.30 L1681.10,1330.30 L1681.97,1329.30 L1682.83,1328.30 L1683.70,1327.30 L1684.56,1326.30 L1685.42,1325.30 L1686.27,1324.30 L1687.12,1323.30 L1687.96,1322.30 L1688.80,1321.30 L1689.63,1320.30 L1690.45,1319.30 L1691.27,1318.30 L1692.08,1317.30 L1692.88,1316.30 L1693.68,1315.30 L1694.46,1314.30 L1695.24,1313.30 L1696.00,1312.30 L1696.76,1311.30 L1697.50,1310.30 L1698.24,1309.30 L1698.96,1308.30 L1699.68,1307.30 L1700.38,1306.30 L1701.07,1305.30 L1701.75,1304.30 L1702.42,1303.30 L1703.08,1302.30 L1703.72,1301.30 L1704.35,1300.30 L1704.97,1299.30 L1705.58,1298.30 L1706.17,1297.30 L1706.75,1296.30 L1707.32,1295.30 L1707.87,1294.30 L1708.42,1293.30 L1708.94,1292.30 L1709.46,1291.30 L1709.96,1290.30 L1710.45,1289.30 L1710.93,1288.30 L1711.39,1287.30 L1711.84,1286.30 L1712.28,1285.30 L1712.70,1284.30 L1713.11,1283.30 L1713.51,1282.30 L1713.90,1281.30 L1714.27,1280.30 L1714.63,1279.30 L1714.98,1278.30 L1715.31,1277.30 L1715.64,1276.30 L1715.95,1275.30 L1716.24,1274.30 L1716.53,1273.30 L1716.80,1272.30 L1717.06,1271.30 L1717.31,1270.30 L1717.55,1269.30 L1717.78,1268.30 L1717.99,1267.30 L1718.19,1266.30 L1718.39,1265.30 L1718.57,1264.30 L1718.73,1263.30 L1718.89,1262.30 L1719.04,1261.30 L1719.17,1260.30 L1719.30,1259.30 L1719.41,1258.30 L1719.51,1257.30 L1719.61,1256.30 L1719.69,1255.30 L1719.76,1254.30 L1719.82,1253.30 L1719.87,1252.30 L1719.91,1251.30 L1719.94,1250.30 L1719.96,1249.30 L1719.97,1248.30 L1719.96,1247.30 L1719.95,1246.30 L1719.93,1245.30 L1719.90,1244.30 L1719.86,1243.30 L1719.81,1242.30 L1719.75,1241.30 L1719.68,1240.30 L1719.60,1239.30 L1719.51,1238.30 L1719.41,1237.30 L1719.30,1236.30 L1719.19,1235.30 L1719.06,1234.30 L1718.93,1233.30 L1718.78,1232.30 L1718.63,1231.30 L1718.47,1230.30 L1718.30,1229.30 L1718.12,1228.30 L1717.94,1227.30 L1717.74,1226.30 L1717.54,1225.30 L1717.33,1224.30 L1717.12,1223.30 L1716.90,1222.30 L1716.66,1221.30 L1716.43,1220.30 L1716.18,1219.30 L1715.93,1218.30 L1715.68,1217.30 L1715.41,1216.30 L1715.15,1215.30 L1714.87,1214.30 L1714.59,1213.30 L1714.31,1212.30 L1714.02,1211.30 L1713.72,1210.30 L1713.42,1209.30 L1713.12,1208.30 L1712.81,1207.30 L1712.50,1206.30 L1712.19,1205.30 L1711.87,1204.30 L1711.55,1203.30 L1711.22,1202.30 L1710.89,1201.30 L1710.57,1200.30 L1710.23,1199.30 L1709.90,1198.30 L1709.56,1197.30 L1709.22,1196.30 L1708.88,1195.30 L1708.54,1194.30 L1708.20,1193.30 L1707.86,1192.30 L1707.51,1191.30 L1707.16,1190.30 L1706.82,1189.30 L1706.47,1188.30 L1706.12,1187.30 L1705.77,1186.30 L1705.42,1185.30 L1705.07,1184.30 L1704.72,1183.30 L1704.37,1182.30 L1704.02,1181.30 L1703.67,1180.30 L1703.31,1179.30 L1702.96,1178.30 L1702.61,1177.30 L1702.25,1176.30 L1701.90,1175.30 L1701.54,1174.30 L1701.19,1173.30 L1700.83,1172.30 L1700.47,1171.30 L1700.11,1170.30 L1699.75,1169.30 L1699.39,1168.30 L1699.02,1167.30 L1698.66,1166.30 L1698.29,1165.30 L1697.92,1164.30 L1697.55,1163.30 L1697.18,1162.30 L1696.80,1161.30 L1696.42,1160.30 L1696.04,1159.30 L1695.65,1158.30 L1695.26,1157.30 L1694.87,1156.30 L1694.47,1155.30 L1694.07,1154.30 L1693.67,1153.30 L1693.26,1152.30 L1692.85,1151.30 L1692.43,1150.30 L1692.01,1149.30 L1691.58,1148.30 L1691.15,1147.30 L1690.71,1146.30 L1690.27,1145.30 L1689.82,1144.30 L1689.36,1143.30 L1688.90,1142.30 L1688.44,1141.30 L1687.97,1140.30 L1687.49,1139.30 L1687.01,1138.30 L1686.52,1137.30 L1686.02,1136.30 L1685.52,1135.30 L1685.01,1134.30 L1684.50,1133.30 L1683.98,1132.30 L1683.45,1131.30 L1682.92,1130.30 L1682.38,1129.30 L1681.83,1128.30 L1681.28,1127.30 L1680.73,1126.30 L1680.17,1125.30 L1679.60,1124.30 L1679.03,1123.30 L1678.45,1122.30 L1677.87,1121.30 L1677.28,1120.30 L1676.69,1119.30 L1676.09,1118.30 L1675.49,1117.30 L1674.88,1116.30 L1674.27,1115.30 L1673.66,1114.30 L1673.04,1113.30 L1672.43,1112.30 L1671.80,1111.30 L1671.18,1110.30 L1670.55,1109.30 L1669.92,1108.30 L1669.29,1107.30 L1668.66,1106.30 L1668.03,1105.30 L1667.40,1104.30 L1666.77,1103.30 L1666.13,1102.30 L1665.50,1101.30 L1664.87,1100.30 L1664.24,1099.30 L1663.60,1098.30 L1662.98,1097.30 L1662.35,1096.30 L1661.72,1095.30 L1661.10,1094.30 L1660.48,1093.30 L1659.87,1092.30 L1659.25,1091.30 L1658.64,1090.30 L1658.04,1089.30 L1657.44,1088.30 L1656.84,1087.30 L1656.25,1086.30 L1655.66,1085.30 L1655.08,1084.30 L1654.51,1083.30 L1653.94,1082.30 L1653.37,1081.30 L1652.82,1080.30 L1652.27,1079.30 L1651.72,1078.30 L1651.18,1077.30 L1650.65,1076.30 L1650.13,1075.30 L1649.62,1074.30 L1649.11,1073.30 L1648.61,1072.30 L1648.12,1071.30 L1647.63,1070.30 L1647.16,1069.30 L1646.69,1068.30 L1646.23,1067.30 L1645.78,1066.30 L1645.33,1065.30 L1644.90,1064.30 L1644.47,1063.30 L1644.06,1062.30 L1643.65,1061.30 L1643.25,1060.30 L1642.86,1059.30 L1642.48,1058.30 L1642.10,1057.30 L1641.74,1056.30 L1641.38,1055.30 L1641.03,1054.30 L1640.69,1053.30 L1640.36,1052.30 L1640.04,1051.30 L1639.73,1050.30 L1639.42,1049.30 L1639.12,1048.30 L1638.84,1047.30 L1638.55,1046.30 L1638.28,1045.30 L1638.02,1044.30 L1637.76,1043.30 L1637.51,1042.30 L1637.27,1041.30 L1637.03,1040.30 L1636.81,1039.30 L1636.59,1038.30 L1636.37,1037.30 L1636.17,1036.30 L1635.97,1035.30 L1635.78,1034.30 L1635.59,1033.30 L1635.41,1032.30 L1635.24,1031.30 L1635.07,1030.30 L1634.91,1029.30 L1634.76,1028.30 L1634.61,1027.30 L1634.46,1026.30 L1634.33,1025.30 L1634.19,1024.30 L1634.07,1023.30 L1633.94,1022.30 L1633.83,1021.30 L1633.71,1020.30 L1633.60,1019.30 L1633.50,1018.30 L1633.40,1017.30 L1633.31,1016.30 L1633.21,1015.30 L1633.13,1014.30 L1633.04,1013.30 L1632.96,1012.30 L1632.89,1011.30 L1632.81,1010.30 L1632.74,1009.30 L1632.68,1008.30 L1632.61,1007.30 L1632.55,1006.30 L1632.50,1005.30 L1632.44,1004.30 L1632.39,1003.30 L1632.34,1002.30 L1632.29,1001.30 L1632.25,1000.30 L1632.21,999.30 L1632.16,998.30 L1632.13,997.30 L1632.09,996.30 L1632.06,995.30 L1632.02,994.30 L1631.99,993.30 L1631.96,992.30 L1631.93,991.30 L1631.91,990.30 L1631.88,989.30 L1631.86,988.30 L1631.84,987.30 L1631.82,986.30 L1631.80,985.30 L1631.78,984.30 L1631.76,983.30 L1631.74,982.30 L1631.73,981.30 L1631.71,980.30 L1631.70,979.30 L1631.69,978.30 L1631.67,977.30 L1631.50,976.30Z" fill="#000"/><path d="M1862.00,980.50 L1861.74,981.50 L1861.73,982.50 L1861.71,983.50 L1861.70,984.50 L1861.68,985.50 L1861.66,986.50 L1861.64,987.50 L1861.63,988.50 L1861.61,989.50 L1861.58,990.50 L1861.56,991.50 L1861.54,992.50 L1861.51,993.50 L1861.49,994.50 L1861.46,995.50 L1861.44,996.50 L1861.41,997.50 L1861.38,998.50 L1861.35,999.50 L1861.31,1000.50 L1861.28,1001.50 L1861.24,1002.50 L1861.21,1003.50 L1861.17,1004.50 L1861.13,1005.50 L1861.09,1006.50 L1861.05,1007.50 L1861.00,1008.50 L1860.95,1009.50 L1860.91,1010.50 L1860.86,1011.50 L1860.81,1012.50 L1860.75,1013.50 L1860.70,1014.50 L1860.64,1015.50 L1860.58,1016.50 L1860.52,1017.50 L1860.46,1018.50 L1860.39,1019.50 L1860.32,1020.50 L1860.25,1021.50 L1860.18,1022.50 L1860.11,1023.50 L1860.03,1024.50 L1859.95,1025.50 L1859.87,1026.50 L1859.79,1027.50 L1859.70,1028.50 L1859.62,1029.50 L1859.52,1030.50 L1859.43,1031.50 L1859.33,1032.50 L1859.24,1033.50 L1859.13,1034.50 L1859.03,1035.50 L1858.92,1036.50 L1858.81,1037.50 L1858.70,1038.50 L1858.59,1039.50 L1858.47,1040.50 L1858.35,1041.50 L1858.23,1042.50 L1858.10,1043.50 L1857.97,1044.50 L1857.84,1045.50 L1857.71,1046.50 L1857.57,1047.50 L1857.43,1048.50 L1857.29,1049.50 L1857.14,1050.50 L1856.99,1051.50 L1856.84,1052.50 L1856.69,1053.50 L1856.53,1054.50 L1856.37,1055.50 L1856.21,1056.50 L1856.04,1057.50 L1855.87,1058.50 L1855.70,1059.50 L1855.53,1060.50 L1855.35,1061.50 L1855.17,1062.50 L1854.99,1063.50 L1854.81,1064.50 L1854.62,1065.50 L1854.43,1066.50 L1854.24,1067.50 L1854.05,1068.50 L1853.85,1069.50 L1853.65,1070.50 L1853.45,1071.50 L1853.25,1072.50 L1853.04,1073.50 L1852.83,1074.50 L1852.62,1075.50 L1852.41,1076.50 L1852.20,1077.50 L1851.98,1078.50 L1851.76,1079.50 L1851.54,1080.50 L1851.32,1081.50 L1851.09,1082.50 L1850.87,1083.50 L1850.64,1084.50 L1850.41,1085.50 L1850.18,1086.50 L1849.95,1087.50 L1849.71,1088.50 L1849.47,1089.50 L1849.24,1090.50 L1849.00,1091.50 L1848.76,1092.50 L1848.51,1093.50 L1848.27,1094.50 L1848.03,1095.50 L1847.78,1096.50 L1847.53,1097.50 L1847.28,1098.50 L1847.03,1099.50 L1846.78,1100.50 L1846.53,1101.50 L1846.27,1102.50 L1846.02,1103.50 L1845.76,1104.50 L1845.50,1105.50 L1845.24,1106.50 L1844.98,1107.50 L1844.72,1108.50 L1844.45,1109.50 L1844.19,1110.50 L1843.92,1111.50 L1843.65,1112.50 L1843.38,1113.50 L1843.11,1114.50 L1842.84,1115.50 L1842.57,1116.50 L1842.29,1117.50 L1842.02,1118.50 L1841.74,1119.50 L1841.46,1120.50 L1841.17,1121.50 L1840.89,1122.50 L1840.61,1123.50 L1840.32,1124.50 L1840.03,1125.50 L1839.74,1126.50 L1839.44,1127.50 L1839.15,1128.50 L1838.85,1129.50 L1838.55,1130.50 L1838.25,1131.50 L1837.94,1132.50 L1837.63,1133.50 L1837.32,1134.50 L1837.01,1135.50 L1836.69,1136.50 L1836.38,1137.50 L1836.05,1138.50 L1835.73,1139.50 L1835.40,1140.50 L1835.07,1141.50 L1834.74,1142.50 L1834.40,1143.50 L1834.06,1144.50 L1833.72,1145.50 L1833.37,1146.50 L1833.02,1147.50 L1832.67,1148.50 L1832.31,1149.50 L1831.94,1150.50 L1831.58,1151.50 L1831.21,1152.50 L1830.84,1153.50 L1830.46,1154.50 L1830.08,1155.50 L1829.69,1156.50 L1829.30,1157.50 L1828.91,1158.50 L1828.51,1159.50 L1828.11,1160.50 L1827.70,1161.50 L1827.29,1162.50 L1826.87,1163.50 L1826.45,1164.50 L1826.03,1165.50 L1825.60,1166.50 L1825.17,1167.50 L1824.73,1168.50 L1824.29,1169.50 L1823.84,1170.50 L1823.39,1171.50 L1822.93,1172.50 L1822.47,1173.50 L1822.01,1174.50 L1821.54,1175.50 L1821.07,1176.50 L1820.59,1177.50 L1820.11,1178.50 L1819.62,1179.50 L1819.13,1180.50 L1818.64,1181.50 L1818.14,1182.50 L1817.63,1183.50 L1817.13,1184.50 L1816.62,1185.50 L1816.10,1186.50 L1815.58,1187.50 L1815.06,1188.50 L1814.54,1189.50 L1814.01,1190.50 L1813.47,1191.50 L1812.94,1192.50 L1812.40,1193.50 L1811.86,1194.50 L1811.31,1195.50 L1810.76,1196.50 L1810.21,1197.50 L1809.65,1198.50 L1809.10,1199.50 L1808.54,1200.50 L1807.97,1201.50 L1807.41,1202.50 L1806.84,1203.50 L1806.27,1204.50 L1805.70,1205.50 L1805.13,1206.50 L1804.55,1207.50 L1803.98,1208.50 L1803.40,1209.50 L1802.82,1210.50 L1802.24,1211.50 L1801.66,1212.50 L1801.08,1213.50 L1800.50,1214.50 L1799.92,1215.50 L1799.33,1216.50 L1798.75,1217.50 L1798.17,1218.50 L1797.58,1219.50 L1797.00,1220.50 L1796.42,1221.50 L1795.84,1222.50 L1795.26,1223.50 L1794.68,1224.50 L1794.10,1225.50 L1793.52,1226.50 L1792.95,1227.50 L1792.38,1228.50 L1791.80,1229.50 L1791.24,1230.50 L1790.67,1231.50 L1790.11,1232.50 L1789.55,1233.50 L1788.99,1234.50 L1788.43,1235.50 L1787.88,1236.50 L1787.33,1237.50 L1786.79,1238.50 L1786.25,1239.50 L1785.72,1240.50 L1785.19,1241.50 L1784.66,1242.50 L1784.14,1243.50 L1783.62,1244.50 L1783.11,1245.50 L1782.61,1246.50 L1782.11,1247.50 L1781.62,1248.50 L1781.13,1249.50 L1780.65,1250.50 L1780.18,1251.50 L1779.72,1252.50 L1779.26,1253.50 L1778.81,1254.50 L1778.36,1255.50 L1777.93,1256.50 L1777.50,1257.50 L1777.08,1258.50 L1776.67,1259.50 L1776.27,1260.50 L1775.88,1261.50 L1775.50,1262.50 L1775.12,1263.50 L1774.76,1264.50 L1774.41,1265.50 L1774.06,1266.50 L1773.73,1267.50 L1773.41,1268.50 L1773.10,1269.50 L1772.80,1270.50 L1772.51,1271.50 L1772.24,1272.50 L1771.97,1273.50 L1771.72,1274.50 L1771.48,1275.50 L1771.25,1276.50 L1771.03,1277.50 L1770.83,1278.50 L1770.64,1279.50 L1770.46,1280.50 L1770.30,1281.50 L1770.15,1282.50 L1770.01,1283.50 L1769.89,1284.50 L1769.78,1285.50 L1769.69,1286.50 L1769.61,1287.50 L1769.55,1288.50 L1769.50,1289.50 L1769.46,1290.50 L1769.44,1291.50 L1769.44,1292.50 L1769.45,1293.50 L1769.47,1294.50 L1769.51,1295.50 L1769.57,1296.50 L1769.64,1297.50 L1769.73,1298.50 L1769.83,1299.50 L1769.95,1300.50 L1770.09,1301.50 L1770.24,1302.50 L1770.41,1303.50 L1770.59,1304.50 L1770.79,1305.50 L1771.01,1306.50 L1771.24,1307.50 L1771.49,1308.50 L1771.76,1309.50 L1772.04,1310.50 L1772.33,1311.50 L1772.65,1312.50 L1772.98,1313.50 L1773.32,1314.50 L1773.69,1315.50 L1774.06,1316.50 L1774.46,1317.50 L1774.87,1318.50 L1775.29,1319.50 L1775.73,1320.50 L1776.19,1321.50 L1776.66,1322.50 L1777.14,1323.50 L1777.64,1324.50 L1778.16,1325.50 L1778.69,1326.50 L1779.23,1327.50 L1779.79,1328.50 L1780.36,1329.50 L1780.95,1330.50 L1781.55,1331.50 L1782.16,1332.50 L1782.79,1333.50 L1783.43,1334.50 L1784.08,1335.50 L1784.74,1336.50 L1785.42,1337.50 L1786.10,1338.50 L1786.80,1339.50 L1787.51,1340.50 L1788.23,1341.50 L1788.96,1342.50 L1789.70,1343.50 L1790.45,1344.50 L1791.21,1345.50 L1791.98,1346.50 L1792.75,1347.50 L1793.54,1348.50 L1794.33,1349.50 L1795.13,1350.50 L1795.93,1351.50 L1796.74,1352.50 L1797.56,1353.50 L1798.39,1354.50 L1799.22,1355.50 L1800.05,1356.50 L1800.89,1357.50 L1801.73,1358.50 L1802.58,1359.50 L1803.43,1360.50 L1804.28,1361.50 L1805.14,1362.50 L1805.99,1363.50 L1806.85,1364.50 L1807.71,1365.50 L1808.57,1366.50 L1809.43,1367.50 L1810.29,1368.50 L1811.15,1369.50 L1812.01,1370.50 L1812.87,1371.50 L1813.73,1372.50 L1814.58,1373.50 L1815.43,1374.50 L1816.28,1375.50 L1817.13,1376.50 L1817.97,1377.50 L1818.81,1378.50 L1819.64,1379.50 L1820.47,1380.50 L1821.29,1381.50 L1822.11,1382.50 L1822.93,1383.50 L1823.73,1384.50 L1824.53,1385.50 L1825.33,1386.50 L1826.12,1387.50 L1826.90,1388.50 L1827.67,1389.50 L1828.44,1390.50 L1829.20,1391.50 L1829.95,1392.50 L1830.69,1393.50 L1831.42,1394.50 L1832.15,1395.50 L1832.86,1396.50 L1833.57,1397.50 L1834.27,1398.50 L1834.95,1399.50 L1835.63,1400.50 L1836.30,1401.50 L1836.96,1402.50 L1837.61,1403.50 L1838.25,1404.50 L1838.88,1405.50 L1839.50,1406.50 L1840.11,1407.50 L1840.70,1408.50 L1841.29,1409.50 L1841.87,1410.50 L1842.44,1411.50 L1842.99,1412.50 L1843.54,1413.50 L1844.08,1414.50 L1844.60,1415.50 L1845.12,1416.50 L1845.62,1417.50 L1846.12,1418.50 L1846.60,1419.50 L1847.07,1420.50 L1847.54,1421.50 L1847.99,1422.50 L1848.43,1423.50 L1848.86,1424.50 L1849.29,1425.50 L1849.70,1426.50 L1850.10,1427.50 L1850.49,1428.50 L1850.88,1429.50 L1851.25,1430.50 L1851.61,1431.50 L1851.97,1432.50 L1852.31,1433.50 L1852.65,1434.50 L1852.98,1435.50 L1853.29,1436.50 L1853.60,1437.50 L1853.90,1438.50 L1854.20,1439.50 L1854.48,1440.50 L1854.76,1441.50 L1855.02,1442.50 L1855.28,1443.50 L1855.54,1444.50 L1855.78,1445.50 L1856.02,1446.50 L1856.25,1447.50 L1856.47,1448.50 L1856.69,1449.50 L1856.89,1450.50 L1857.10,1451.50 L1857.29,1452.50 L1857.48,1453.50 L1857.66,1454.50 L1857.84,1455.50 L1858.01,1456.50 L1858.17,1457.50 L1858.33,1458.50 L1858.49,1459.50 L1858.63,1460.50 L1858.78,1461.50 L1858.91,1462.50 L1859.05,1463.50 L1859.17,1464.50 L1859.30,1465.50 L1859.42,1466.50 L1859.53,1467.50 L1859.64,1468.50 L1859.74,1469.50 L1859.85,1470.50 L1859.94,1471.50 L1860.04,1472.50 L1860.13,1473.50 L1860.21,1474.50 L1860.30,1475.50 L1860.38,1476.50 L1860.45,1477.50 L1860.53,1478.50 L1860.60,1479.50 L1860.66,1480.50 L1860.73,1481.50 L1860.79,1482.50 L1860.85,1483.50 L1860.90,1484.50 L1860.96,1485.50 L1861.01,1486.50 L1861.06,1487.50 L1861.11,1488.50 L1861.15,1489.50 L1861.19,1490.50 L1861.24,1491.50 L1861.27,1492.50 L1861.31,1493.50 L1861.35,1494.50 L1861.38,1495.50 L1861.41,1496.50 L1861.45,1497.50 L1861.47,1498.50 L1861.50,1499.50 L1861.53,1500.50 L1861.55,1501.50 L1861.58,1502.50 L1861.60,1503.50 L1861.62,1504.50 L1861.64,1505.50 L1861.66,1506.50 L1861.68,1507.50 L1861.70,1508.50 L1861.72,1509.50 L1861.73,1510.50 L1861.75,1511.50 L1861.76,1512.50 L1861.78,1513.50 L1861.79,1514.50 L1861.80,1515.50 L1861.81,1516.50 L1861.82,1517.50 L1862.00,1518.30 L1862.00,1518.30 L1862.18,1517.50 L1862.19,1516.50 L1862.20,1515.50 L1862.21,1514.50 L1862.22,1513.50 L1862.24,1512.50 L1862.25,1511.50 L1862.27,1510.50 L1862.28,1509.50 L1862.30,1508.50 L1862.32,1507.50 L1862.34,1506.50 L1862.36,1505.50 L1862.38,1504.50 L1862.40,1503.50 L1862.42,1502.50 L1862.45,1501.50 L1862.47,1500.50 L1862.50,1499.50 L1862.53,1498.50 L1862.55,1497.50 L1862.59,1496.50 L1862.62,1495.50 L1862.65,1494.50 L1862.69,1493.50 L1862.73,1492.50 L1862.76,1491.50 L1862.81,1490.50 L1862.85,1489.50 L1862.89,1488.50 L1862.94,1487.50 L1862.99,1486.50 L1863.04,1485.50 L1863.10,1484.50 L1863.15,1483.50 L1863.21,1482.50 L1863.27,1481.50 L1863.34,1480.50 L1863.40,1479.50 L1863.47,1478.50 L1863.55,1477.50 L1863.62,1476.50 L1863.70,1475.50 L1863.79,1474.50 L1863.87,1473.50 L1863.96,1472.50 L1864.06,1471.50 L1864.15,1470.50 L1864.26,1469.50 L1864.36,1468.50 L1864.47,1467.50 L1864.58,1466.50 L1864.70,1465.50 L1864.83,1464.50 L1864.95,1463.50 L1865.09,1462.50 L1865.22,1461.50 L1865.37,1460.50 L1865.51,1459.50 L1865.67,1458.50 L1865.83,1457.50 L1865.99,1456.50 L1866.16,1455.50 L1866.34,1454.50 L1866.52,1453.50 L1866.71,1452.50 L1866.90,1451.50 L1867.11,1450.50 L1867.31,1449.50 L1867.53,1448.50 L1867.75,1447.50 L1867.98,1446.50 L1868.22,1445.50 L1868.46,1444.50 L1868.72,1443.50 L1868.98,1442.50 L1869.24,1441.50 L1869.52,1440.50 L1869.80,1439.50 L1870.10,1438.50 L1870.40,1437.50 L1870.71,1436.50 L1871.02,1435.50 L1871.35,1434.50 L1871.69,1433.50 L1872.03,1432.50 L1872.39,1431.50 L1872.75,1430.50 L1873.12,1429.50 L1873.51,1428.50 L1873.90,1427.50 L1874.30,1426.50 L1874.71,1425.50 L1875.14,1424.50 L1875.57,1423.50 L1876.01,1422.50 L1876.46,1421.50 L1876.93,1420.50 L1877.40,1419.50 L1877.88,1418.50 L1878.38,1417.50 L1878.88,1416.50 L1879.40,1415.50 L1879.92,1414.50 L1880.46,1413.50 L1881.01,1412.50 L1881.56,1411.50 L1882.13,1410.50 L1882.71,1409.50 L1883.30,1408.50 L1883.89,1407.50 L1884.50,1406.50 L1885.12,1405.50 L1885.75,1404.50 L1886.39,1403.50 L1887.04,1402.50 L1887.70,1401.50 L1888.37,1400.50 L1889.05,1399.50 L1889.73,1398.50 L1890.43,1397.50 L1891.14,1396.50 L1891.85,1395.50 L1892.58,1394.50 L1893.31,1393.50 L1894.05,1392.50 L1894.80,1391.50 L1895.56,1390.50 L1896.33,1389.50 L1897.10,1388.50 L1897.88,1387.50 L1898.67,1386.50 L1899.47,1385.50 L1900.27,1384.50 L1901.07,1383.50 L1901.89,1382.50 L1902.71,1381.50 L1903.53,1380.50 L1904.36,1379.50 L1905.19,1378.50 L1906.03,1377.50 L1906.87,1376.50 L1907.72,1375.50 L1908.57,1374.50 L1909.42,1373.50 L1910.27,1372.50 L1911.13,1371.50 L1911.99,1370.50 L1912.85,1369.50 L1913.71,1368.50 L1914.57,1367.50 L1915.43,1366.50 L1916.29,1365.50 L1917.15,1364.50 L1918.01,1363.50 L1918.86,1362.50 L1919.72,1361.50 L1920.57,1360.50 L1921.42,1359.50 L1922.27,1358.50 L1923.11,1357.50 L1923.95,1356.50 L1924.78,1355.50 L1925.61,1354.50 L1926.44,1353.50 L1927.26,1352.50 L1928.07,1351.50 L1928.87,1350.50 L1929.67,1349.50 L1930.46,1348.50 L1931.25,1347.50 L1932.02,1346.50 L1932.79,1345.50 L1933.55,1344.50 L1934.30,1343.50 L1935.04,1342.50 L1935.77,1341.50 L1936.49,1340.50 L1937.20,1339.50 L1937.90,1338.50 L1938.58,1337.50 L1939.26,1336.50 L1939.92,1335.50 L1940.57,1334.50 L1941.21,1333.50 L1941.84,1332.50 L1942.45,1331.50 L1943.05,1330.50 L1943.64,1329.50 L1944.21,1328.50 L1944.77,1327.50 L1945.31,1326.50 L1945.84,1325.50 L1946.36,1324.50 L1946.86,1323.50 L1947.34,1322.50 L1947.81,1321.50 L1948.27,1320.50 L1948.71,1319.50 L1949.13,1318.50 L1949.54,1317.50 L1949.94,1316.50 L1950.31,1315.50 L1950.68,1314.50 L1951.02,1313.50 L1951.35,1312.50 L1951.67,1311.50 L1951.96,1310.50 L1952.24,1309.50 L1952.51,1308.50 L1952.76,1307.50 L1952.99,1306.50 L1953.21,1305.50 L1953.41,1304.50 L1953.59,1303.50 L1953.76,1302.50 L1953.91,1301.50 L1954.05,1300.50 L1954.17,1299.50 L1954.27,1298.50 L1954.36,1297.50 L1954.43,1296.50 L1954.49,1295.50 L1954.53,1294.50 L1954.55,1293.50 L1954.56,1292.50 L1954.56,1291.50 L1954.54,1290.50 L1954.50,1289.50 L1954.45,1288.50 L1954.39,1287.50 L1954.31,1286.50 L1954.22,1285.50 L1954.11,1284.50 L1953.99,1283.50 L1953.85,1282.50 L1953.70,1281.50 L1953.54,1280.50 L1953.36,1279.50 L1953.17,1278.50 L1952.97,1277.50 L1952.75,1276.50 L1952.52,1275.50 L1952.28,1274.50 L1952.03,1273.50 L1951.76,1272.50 L1951.49,1271.50 L1951.20,1270.50 L1950.90,1269.50 L1950.59,1268.50 L1950.27,1267.50 L1949.94,1266.50 L1949.59,1265.50 L1949.24,1264.50 L1948.88,1263.50 L1948.50,1262.50 L1948.12,1261.50 L1947.73,1260.50 L1947.33,1259.50 L1946.92,1258.50 L1946.50,1257.50 L1946.07,1256.50 L1945.64,1255.50 L1945.19,1254.50 L1944.74,1253.50 L1944.28,1252.50 L1943.82,1251.50 L1943.35,1250.50 L1942.87,1249.50 L1942.38,1248.50 L1941.89,1247.50 L1941.39,1246.50 L1940.89,1245.50 L1940.38,1244.50 L1939.86,1243.50 L1939.34,1242.50 L1938.81,1241.50 L1938.28,1240.50 L1937.75,1239.50 L1937.21,1238.50 L1936.67,1237.50 L1936.12,1236.50 L1935.57,1235.50 L1935.01,1234.50 L1934.45,1233.50 L1933.89,1232.50 L1933.33,1231.50 L1932.76,1230.50 L1932.20,1229.50 L1931.62,1228.50 L1931.05,1227.50 L1930.48,1226.50 L1929.90,1225.50 L1929.32,1224.50 L1928.74,1223.50 L1928.16,1222.50 L1927.58,1221.50 L1927.00,1220.50 L1926.42,1219.50 L1925.83,1218.50 L1925.25,1217.50 L1924.67,1216.50 L1924.08,1215.50 L1923.50,1214.50 L1922.92,1213.50 L1922.34,1212.50 L1921.76,1211.50 L1921.18,1210.50 L1920.60,1209.50 L1920.02,1208.50 L1919.45,1207.50 L1918.87,1206.50 L1918.30,1205.50 L1917.73,1204.50 L1917.16,1203.50 L1916.59,1202.50 L1916.03,1201.50 L1915.46,1200.50 L1914.90,1199.50 L1914.35,1198.50 L1913.79,1197.50 L1913.24,1196.50 L1912.69,1195.50 L1912.14,1194.50 L1911.60,1193.50 L1911.06,1192.50 L1910.53,1191.50 L1909.99,1190.50 L1909.46,1189.50 L1908.94,1188.50 L1908.42,1187.50 L1907.90,1186.50 L1907.38,1185.50 L1906.87,1184.50 L1906.37,1183.50 L1905.86,1182.50 L1905.36,1181.50 L1904.87,1180.50 L1904.38,1179.50 L1903.89,1178.50 L1903.41,1177.50 L1902.93,1176.50 L1902.46,1175.50 L1901.99,1174.50 L1901.53,1173.50 L1901.07,1172.50 L1900.61,1171.50 L1900.16,1170.50 L1899.71,1169.50 L1899.27,1168.50 L1898.83,1167.50 L1898.40,1166.50 L1897.97,1165.50 L1897.55,1164.50 L1897.13,1163.50 L1896.71,1162.50 L1896.30,1161.50 L1895.89,1160.50 L1895.49,1159.50 L1895.09,1158.50 L1894.70,1157.50 L1894.31,1156.50 L1893.92,1155.50 L1893.54,1154.50 L1893.16,1153.50 L1892.79,1152.50 L1892.42,1151.50 L1892.06,1150.50 L1891.69,1149.50 L1891.33,1148.50 L1890.98,1147.50 L1890.63,1146.50 L1890.28,1145.50 L1889.94,1144.50 L1889.60,1143.50 L1889.26,1142.50 L1888.93,1141.50 L1888.60,1140.50 L1888.27,1139.50 L1887.95,1138.50 L1887.62,1137.50 L1887.31,1136.50 L1886.99,1135.50 L1886.68,1134.50 L1886.37,1133.50 L1886.06,1132.50 L1885.75,1131.50 L1885.45,1130.50 L1885.15,1129.50 L1884.85,1128.50 L1884.56,1127.50 L1884.26,1126.50 L1883.97,1125.50 L1883.68,1124.50 L1883.39,1123.50 L1883.11,1122.50 L1882.83,1121.50 L1882.54,1120.50 L1882.26,1119.50 L1881.98,1118.50 L1881.71,1117.50 L1881.43,1116.50 L1881.16,1115.50 L1880.89,1114.50 L1880.62,1113.50 L1880.35,1112.50 L1880.08,1111.50 L1879.81,1110.50 L1879.55,1109.50 L1879.28,1108.50 L1879.02,1107.50 L1878.76,1106.50 L1878.50,1105.50 L1878.24,1104.50 L1877.98,1103.50 L1877.73,1102.50 L1877.47,1101.50 L1877.22,1100.50 L1876.97,1099.50 L1876.72,1098.50 L1876.47,1097.50 L1876.22,1096.50 L1875.97,1095.50 L1875.73,1094.50 L1875.49,1093.50 L1875.24,1092.50 L1875.00,1091.50 L1874.76,1090.50 L1874.53,1089.50 L1874.29,1088.50 L1874.05,1087.50 L1873.82,1086.50 L1873.59,1085.50 L1873.36,1084.50 L1873.13,1083.50 L1872.91,1082.50 L1872.68,1081.50 L1872.46,1080.50 L1872.24,1079.50 L1872.02,1078.50 L1871.80,1077.50 L1871.59,1076.50 L1871.38,1075.50 L1871.17,1074.50 L1870.96,1073.50 L1870.75,1072.50 L1870.55,1071.50 L1870.35,1070.50 L1870.15,1069.50 L1869.95,1068.50 L1869.76,1067.50 L1869.57,1066.50 L1869.38,1065.50 L1869.19,1064.50 L1869.01,1063.50 L1868.83,1062.50 L1868.65,1061.50 L1868.47,1060.50 L1868.30,1059.50 L1868.13,1058.50 L1867.96,1057.50 L1867.79,1056.50 L1867.63,1055.50 L1867.47,1054.50 L1867.31,1053.50 L1867.16,1052.50 L1867.01,1051.50 L1866.86,1050.50 L1866.71,1049.50 L1866.57,1048.50 L1866.43,1047.50 L1866.29,1046.50 L1866.16,1045.50 L1866.03,1044.50 L1865.90,1043.50 L1865.77,1042.50 L1865.65,1041.50 L1865.53,1040.50 L1865.41,1039.50 L1865.30,1038.50 L1865.19,1037.50 L1865.08,1036.50 L1864.97,1035.50 L1864.87,1034.50 L1864.76,1033.50 L1864.67,1032.50 L1864.57,1031.50 L1864.48,1030.50 L1864.38,1029.50 L1864.30,1028.50 L1864.21,1027.50 L1864.13,1026.50 L1864.05,1025.50 L1863.97,1024.50 L1863.89,1023.50 L1863.82,1022.50 L1863.75,1021.50 L1863.68,1020.50 L1863.61,1019.50 L1863.54,1018.50 L1863.48,1017.50 L1863.42,1016.50 L1863.36,1015.50 L1863.30,1014.50 L1863.25,1013.50 L1863.19,1012.50 L1863.14,1011.50 L1863.09,1010.50 L1863.05,1009.50 L1863.00,1008.50 L1862.95,1007.50 L1862.91,1006.50 L1862.87,1005.50 L1862.83,1004.50 L1862.79,1003.50 L1862.76,1002.50 L1862.72,1001.50 L1862.69,1000.50 L1862.65,999.50 L1862.62,998.50 L1862.59,997.50 L1862.56,996.50 L1862.54,995.50 L1862.51,994.50 L1862.49,993.50 L1862.46,992.50 L1862.44,991.50 L1862.42,990.50 L1862.39,989.50 L1862.37,988.50 L1862.36,987.50 L1862.34,986.50 L1862.32,985.50 L1862.30,984.50 L1862.29,983.50 L1862.27,982.50 L1862.26,981.50 L1862.00,980.50Z" fill="#000"/><line x1="1517.2" y1="1229.0" x2="1745.8" y2="1229.0" stroke="#000" stroke-width="3.6" stroke-linecap="round"/><line x1="1747.7" y1="1270.4" x2="1976.3" y2="1270.4" stroke="#000" stroke-width="3.6" stroke-linecap="round"/><line x1="1611.9" y1="1119.9" x2="1651.1" y2="1119.9" stroke="#fff" stroke-width="2.6"/><line x1="1611.9" y1="1154.3" x2="1651.1" y2="1154.3" stroke="#b8b8b8" stroke-width="2.6"/><line x1="1611.9" y1="1158.8" x2="1651.1" y2="1158.8" stroke="#b8b8b8" stroke-width="2.6"/><line x1="1611.9" y1="1204" x2="1651.1" y2="1204" stroke="#b8b8b8" stroke-width="2.6"/><line x1="1611.9" y1="1212.7" x2="1651.1" y2="1212.7" stroke="#fff" stroke-width="2.6"/><line x1="1611.9" y1="1233.2" x2="1651.1" y2="1233.2" stroke="#b8b8b8" stroke-width="2.6"/><line x1="1611.9" y1="1263.2" x2="1651.1" y2="1263.2" stroke="#fff" stroke-width="4.0"/><line x1="1611.9" y1="1288.6" x2="1651.1" y2="1288.6" stroke="#fff" stroke-width="2.6"/><line x1="1611.9" y1="1298.6" x2="1651.1" y2="1298.6" stroke="#b8b8b8" stroke-width="2.6"/><line x1="1611.9" y1="1321.6" x2="1651.1" y2="1321.6" stroke="#fff" stroke-width="2.6"/><line x1="1842.4" y1="1124" x2="1881.6" y2="1124" stroke="#fff" stroke-width="2.6"/><line x1="1842.4" y1="1205.5" x2="1881.6" y2="1205.5" stroke="#fff" stroke-width="2.6"/><line x1="1842.4" y1="1210.4" x2="1881.6" y2="1210.4" stroke="#fff" stroke-width="2.6"/><line x1="1842.4" y1="1251.9" x2="1881.6" y2="1251.9" stroke="#b8b8b8" stroke-width="2.6"/><line x1="1842.4" y1="1264.3" x2="1881.6" y2="1264.3" stroke="#b8b8b8" stroke-width="2.6"/><line x1="1842.4" y1="1269.9" x2="1881.6" y2="1269.9" stroke="#fff" stroke-width="2.6"/><line x1="1842.4" y1="1303" x2="1881.6" y2="1303" stroke="#fff" stroke-width="2.6"/><line x1="1842.4" y1="1317.7" x2="1881.6" y2="1317.7" stroke="#b8b8b8" stroke-width="2.6"/><line x1="1842.4" y1="1324.1" x2="1881.6" y2="1324.1" stroke="#fff" stroke-width="2.6"/><line x1="1842.4" y1="1328.7" x2="1881.6" y2="1328.7" stroke="#b8b8b8" stroke-width="2.6"/><line x1="1842.4" y1="1374.5" x2="1881.6" y2="1374.5" stroke="#fff" stroke-width="2.6"/><rect x="1497.6" y="954.6" width="498.4" height="585.9" fill="none" stroke="#222" stroke-width="2.3" stroke-linejoin="round"/><line x1="1481.6" y1="1426.80" x2="1497.6" y2="1426.80" stroke="#222" stroke-width="2.2"/><text x="0" y="0" transform="translate(1461.3,1427.80) rotate(-90)" text-anchor="middle" font-size="25" fill="#111">200</text><line x1="1481.6" y1="1282.72" x2="1497.6" y2="1282.72" stroke="#222" stroke-width="2.2"/><text x="0" y="0" transform="translate(1461.3,1283.72) rotate(-90)" text-anchor="middle" font-size="25" fill="#111">300</text><line x1="1481.6" y1="1180.50" x2="1497.6" y2="1180.50" stroke="#222" stroke-width="2.2"/><text x="0" y="0" transform="translate(1461.3,1181.50) rotate(-90)" text-anchor="middle" font-size="25" fill="#111">400</text><line x1="1481.6" y1="1101.21" x2="1497.6" y2="1101.21" stroke="#222" stroke-width="2.2"/><text x="0" y="0" transform="translate(1461.3,1102.21) rotate(-90)" text-anchor="middle" font-size="25" fill="#111">500</text><line x1="1481.6" y1="1036.42" x2="1497.6" y2="1036.42" stroke="#222" stroke-width="2.2"/><text x="0" y="0" transform="translate(1461.3,1037.42) rotate(-90)" text-anchor="middle" font-size="25" fill="#111">600</text><line x1="1481.6" y1="981.64" x2="1497.6" y2="981.64" stroke="#222" stroke-width="2.2"/><line x1="1631.5" y1="1540.5" x2="1631.5" y2="1556.0" stroke="#222" stroke-width="2.2"/><line x1="1862.0" y1="1540.5" x2="1862.0" y2="1556.0" stroke="#222" stroke-width="2.2"/><text x="1614.4" y="1590.0" text-anchor="middle" font-size="33" font-weight="bold" fill="#111">Pre-Exercise</text><text x="1874.6" y="1590.0" text-anchor="middle" font-size="33" font-weight="bold" fill="#111">Post-Exercise</text><text x="1755.5" y="920.6" text-anchor="middle" font-size="38" font-weight="bold" fill="#111">Glycine</text><text x="0" y="0" transform="translate(1413.8,1347.9) rotate(-90)" font-size="38" font-weight="bold" fill="#111">Glycine, µM</text><line x1="1697.5" y1="1042.0" x2="1826.3" y2="1042.0" stroke="#b0b0b0" stroke-width="3" stroke-linecap="round"/><text x="1763.2" y="1039.7" text-anchor="middle" font-size="26" font-weight="bold" letter-spacing="3.1" fill="#111">*</text></g>
</svg></body></html>
